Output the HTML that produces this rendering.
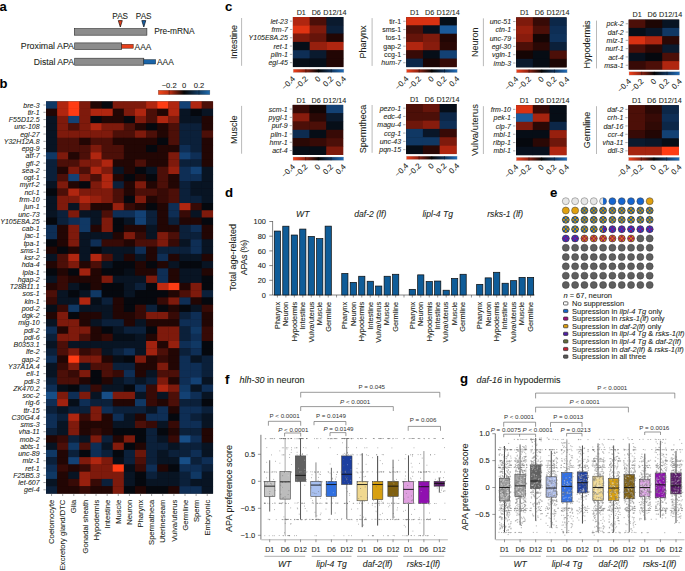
<!DOCTYPE html>
<html><head><meta charset="utf-8"><style>
html,body{margin:0;padding:0;background:#fff;}
svg{display:block;font-family:"Liberation Sans", sans-serif;}
text{stroke:#231f20;stroke-width:0.08px;}

</style></head><body>
<svg width="685" height="571" viewBox="0 0 685 571">
<rect width="685" height="571" fill="#fff"/>
<text x="-0.50" y="10.50" font-size="13.0" text-anchor="start" fill="#000" font-weight="bold">a</text>
<text x="120.20" y="18.90" font-size="8.2" text-anchor="middle" fill="#231f20">PAS</text>
<text x="143.70" y="18.90" font-size="8.2" text-anchor="middle" fill="#231f20">PAS</text>
<polygon points="118.30,20.60 122.30,20.60 120.30,27.00" fill="#e8401c" stroke="#1a0a06" stroke-width="0.7"/>
<polygon points="141.80,20.60 145.80,20.60 143.80,27.00" fill="#1a64a8" stroke="#08101a" stroke-width="0.7"/>
<rect x="74.30" y="28.60" width="72.60" height="6.60" fill="#8c8c8c" stroke="#2a2a2a" stroke-width="0.6"/>
<text x="154.20" y="34.00" font-size="8.4" text-anchor="start" fill="#231f20">Pre-mRNA</text>
<text x="74.00" y="49.00" font-size="8.4" text-anchor="end" fill="#231f20" textLength="53.2" lengthAdjust="spacingAndGlyphs">Proximal APA</text>
<rect x="74.70" y="42.90" width="47.00" height="6.60" fill="#8c8c8c" stroke="#2a2a2a" stroke-width="0.6"/>
<rect x="121.70" y="44.30" width="11.50" height="3.90" fill="#e8401c" stroke="#3a1a10" stroke-width="0.5"/>
<text x="134.60" y="49.80" font-size="8.4" text-anchor="start" fill="#231f20">AAA</text>
<text x="74.00" y="64.80" font-size="8.4" text-anchor="end" fill="#231f20" textLength="40.2" lengthAdjust="spacingAndGlyphs">Distal APA</text>
<rect x="74.70" y="58.20" width="69.10" height="7.00" fill="#8c8c8c" stroke="#2a2a2a" stroke-width="0.6"/>
<rect x="143.80" y="59.70" width="11.80" height="4.30" fill="#1a64a8" stroke="#10202e" stroke-width="0.5"/>
<text x="157.00" y="64.70" font-size="8.4" text-anchor="start" fill="#231f20">AAA</text>
<text x="-0.40" y="87.80" font-size="13.0" text-anchor="start" fill="#000" font-weight="bold">b</text>
<defs><linearGradient id="cbb" x1="0" x2="1" y1="0" y2="0"><stop offset="0" stop-color="#f4481a"/><stop offset="0.25" stop-color="#b02a10"/><stop offset="0.5" stop-color="#050505"/><stop offset="0.75" stop-color="#0f3558"/><stop offset="1" stop-color="#1f6cb0"/></linearGradient></defs>
<rect x="158.20" y="90.20" width="51.70" height="4.50" fill="url(#cbb)" stroke="#555" stroke-width="0.3"/>
<line x1="169.20" y1="90.20" x2="169.20" y2="94.70" stroke="#000" stroke-width="0.4"/>
<line x1="199.00" y1="90.20" x2="199.00" y2="94.70" stroke="#000" stroke-width="0.4"/>
<text x="169.20" y="88.00" font-size="7.6" text-anchor="middle" fill="#231f20">−0.2</text>
<text x="184.00" y="88.00" font-size="7.6" text-anchor="middle" fill="#231f20">0</text>
<text x="199.00" y="88.00" font-size="7.6" text-anchor="middle" fill="#231f20">0.2</text>
<rect x="46.00" y="101.40" width="166.80" height="392.04" fill="#180808"/>
<rect x="46.00" y="101.40" width="11.42" height="7.56" fill="#103864"/>
<rect x="57.12" y="101.40" width="11.42" height="7.56" fill="#b02610"/>
<rect x="68.24" y="101.40" width="11.42" height="7.56" fill="#ff3c14"/>
<rect x="79.36" y="101.40" width="11.42" height="7.56" fill="#7e1a0c"/>
<rect x="90.48" y="101.40" width="11.42" height="7.56" fill="#220604"/>
<rect x="101.60" y="101.40" width="11.42" height="7.56" fill="#05080e"/>
<rect x="112.72" y="101.40" width="11.42" height="7.56" fill="#7e1a0c"/>
<rect x="123.84" y="101.40" width="11.42" height="7.56" fill="#7e1a0c"/>
<rect x="134.96" y="101.40" width="11.42" height="7.56" fill="#7e1a0c"/>
<rect x="146.08" y="101.40" width="11.42" height="7.56" fill="#b02610"/>
<rect x="157.20" y="101.40" width="11.42" height="7.56" fill="#ff3c14"/>
<rect x="168.32" y="101.40" width="11.42" height="7.56" fill="#b02610"/>
<rect x="179.44" y="101.40" width="11.42" height="7.56" fill="#134174"/>
<rect x="190.56" y="101.40" width="11.42" height="7.56" fill="#b02610"/>
<rect x="201.68" y="101.40" width="11.42" height="7.56" fill="#4c0f08"/>
<text x="39.60" y="107.63" font-size="7.0" text-anchor="end" fill="#231f20" font-style="italic">bre-3</text>
<line x1="43.40" y1="105.03" x2="45.80" y2="105.03" stroke="#444" stroke-width="0.5"/>
<rect x="46.00" y="108.66" width="11.42" height="7.56" fill="#220604"/>
<rect x="57.12" y="108.66" width="11.42" height="7.56" fill="#b02610"/>
<rect x="68.24" y="108.66" width="11.42" height="7.56" fill="#ff3c14"/>
<rect x="79.36" y="108.66" width="11.42" height="7.56" fill="#7e1a0c"/>
<rect x="90.48" y="108.66" width="11.42" height="7.56" fill="#b02610"/>
<rect x="101.60" y="108.66" width="11.42" height="7.56" fill="#b02610"/>
<rect x="112.72" y="108.66" width="11.42" height="7.56" fill="#220604"/>
<rect x="123.84" y="108.66" width="11.42" height="7.56" fill="#7e1a0c"/>
<rect x="134.96" y="108.66" width="11.42" height="7.56" fill="#b02610"/>
<rect x="146.08" y="108.66" width="11.42" height="7.56" fill="#4c0f08"/>
<rect x="157.20" y="108.66" width="11.42" height="7.56" fill="#220604"/>
<rect x="168.32" y="108.66" width="11.42" height="7.56" fill="#b02610"/>
<rect x="179.44" y="108.66" width="11.42" height="7.56" fill="#081423"/>
<rect x="190.56" y="108.66" width="11.42" height="7.56" fill="#05080e"/>
<rect x="201.68" y="108.66" width="11.42" height="7.56" fill="#081423"/>
<text x="39.60" y="114.89" font-size="7.0" text-anchor="end" fill="#231f20" font-style="italic">tir-1</text>
<line x1="43.40" y1="112.29" x2="45.80" y2="112.29" stroke="#444" stroke-width="0.5"/>
<rect x="46.00" y="115.92" width="11.42" height="7.56" fill="#081423"/>
<rect x="57.12" y="115.92" width="11.42" height="7.56" fill="#7e1a0c"/>
<rect x="68.24" y="115.92" width="11.42" height="7.56" fill="#134174"/>
<rect x="79.36" y="115.92" width="11.42" height="7.56" fill="#7e1a0c"/>
<rect x="90.48" y="115.92" width="11.42" height="7.56" fill="#05080e"/>
<rect x="101.60" y="115.92" width="11.42" height="7.56" fill="#220604"/>
<rect x="112.72" y="115.92" width="11.42" height="7.56" fill="#220604"/>
<rect x="123.84" y="115.92" width="11.42" height="7.56" fill="#05080e"/>
<rect x="134.96" y="115.92" width="11.42" height="7.56" fill="#7e1a0c"/>
<rect x="146.08" y="115.92" width="11.42" height="7.56" fill="#4c0f08"/>
<rect x="157.20" y="115.92" width="11.42" height="7.56" fill="#b02610"/>
<rect x="168.32" y="115.92" width="11.42" height="7.56" fill="#7e1a0c"/>
<rect x="179.44" y="115.92" width="11.42" height="7.56" fill="#081423"/>
<rect x="190.56" y="115.92" width="11.42" height="7.56" fill="#081423"/>
<rect x="201.68" y="115.92" width="11.42" height="7.56" fill="#220604"/>
<text x="39.60" y="122.15" font-size="7.0" text-anchor="end" fill="#231f20" font-style="italic">F55D12.5</text>
<line x1="43.40" y1="119.55" x2="45.80" y2="119.55" stroke="#444" stroke-width="0.5"/>
<rect x="46.00" y="123.18" width="11.42" height="7.56" fill="#081423"/>
<rect x="57.12" y="123.18" width="11.42" height="7.56" fill="#7e1a0c"/>
<rect x="68.24" y="123.18" width="11.42" height="7.56" fill="#4c0f08"/>
<rect x="79.36" y="123.18" width="11.42" height="7.56" fill="#7e1a0c"/>
<rect x="90.48" y="123.18" width="11.42" height="7.56" fill="#b02610"/>
<rect x="101.60" y="123.18" width="11.42" height="7.56" fill="#7e1a0c"/>
<rect x="112.72" y="123.18" width="11.42" height="7.56" fill="#7e1a0c"/>
<rect x="123.84" y="123.18" width="11.42" height="7.56" fill="#4c0f08"/>
<rect x="134.96" y="123.18" width="11.42" height="7.56" fill="#220604"/>
<rect x="146.08" y="123.18" width="11.42" height="7.56" fill="#05080e"/>
<rect x="157.20" y="123.18" width="11.42" height="7.56" fill="#220604"/>
<rect x="168.32" y="123.18" width="11.42" height="7.56" fill="#4c0f08"/>
<rect x="179.44" y="123.18" width="11.42" height="7.56" fill="#0b203a"/>
<rect x="190.56" y="123.18" width="11.42" height="7.56" fill="#0b203a"/>
<rect x="201.68" y="123.18" width="11.42" height="7.56" fill="#220604"/>
<text x="39.60" y="129.41" font-size="7.0" text-anchor="end" fill="#231f20" font-style="italic">unc-108</text>
<line x1="43.40" y1="126.81" x2="45.80" y2="126.81" stroke="#444" stroke-width="0.5"/>
<rect x="46.00" y="130.44" width="11.42" height="7.56" fill="#081423"/>
<rect x="57.12" y="130.44" width="11.42" height="7.56" fill="#7e1a0c"/>
<rect x="68.24" y="130.44" width="11.42" height="7.56" fill="#7e1a0c"/>
<rect x="79.36" y="130.44" width="11.42" height="7.56" fill="#7e1a0c"/>
<rect x="90.48" y="130.44" width="11.42" height="7.56" fill="#7e1a0c"/>
<rect x="101.60" y="130.44" width="11.42" height="7.56" fill="#7e1a0c"/>
<rect x="112.72" y="130.44" width="11.42" height="7.56" fill="#4c0f08"/>
<rect x="123.84" y="130.44" width="11.42" height="7.56" fill="#4c0f08"/>
<rect x="134.96" y="130.44" width="11.42" height="7.56" fill="#7e1a0c"/>
<rect x="146.08" y="130.44" width="11.42" height="7.56" fill="#4c0f08"/>
<rect x="157.20" y="130.44" width="11.42" height="7.56" fill="#220604"/>
<rect x="168.32" y="130.44" width="11.42" height="7.56" fill="#4c0f08"/>
<rect x="179.44" y="130.44" width="11.42" height="7.56" fill="#0b203a"/>
<rect x="190.56" y="130.44" width="11.42" height="7.56" fill="#0b203a"/>
<rect x="201.68" y="130.44" width="11.42" height="7.56" fill="#4c0f08"/>
<text x="39.60" y="136.67" font-size="7.0" text-anchor="end" fill="#231f20" font-style="italic">egl-27</text>
<line x1="43.40" y1="134.07" x2="45.80" y2="134.07" stroke="#444" stroke-width="0.5"/>
<rect x="46.00" y="137.70" width="11.42" height="7.56" fill="#081423"/>
<rect x="57.12" y="137.70" width="11.42" height="7.56" fill="#4c0f08"/>
<rect x="68.24" y="137.70" width="11.42" height="7.56" fill="#4c0f08"/>
<rect x="79.36" y="137.70" width="11.42" height="7.56" fill="#220604"/>
<rect x="90.48" y="137.70" width="11.42" height="7.56" fill="#4c0f08"/>
<rect x="101.60" y="137.70" width="11.42" height="7.56" fill="#4c0f08"/>
<rect x="112.72" y="137.70" width="11.42" height="7.56" fill="#220604"/>
<rect x="123.84" y="137.70" width="11.42" height="7.56" fill="#220604"/>
<rect x="134.96" y="137.70" width="11.42" height="7.56" fill="#220604"/>
<rect x="146.08" y="137.70" width="11.42" height="7.56" fill="#220604"/>
<rect x="157.20" y="137.70" width="11.42" height="7.56" fill="#05080e"/>
<rect x="168.32" y="137.70" width="11.42" height="7.56" fill="#4c0f08"/>
<rect x="179.44" y="137.70" width="11.42" height="7.56" fill="#0b203a"/>
<rect x="190.56" y="137.70" width="11.42" height="7.56" fill="#0b203a"/>
<rect x="201.68" y="137.70" width="11.42" height="7.56" fill="#220604"/>
<text x="39.60" y="143.93" font-size="7.0" text-anchor="end" fill="#231f20" font-style="italic">Y32H12A.8</text>
<line x1="43.40" y1="141.33" x2="45.80" y2="141.33" stroke="#444" stroke-width="0.5"/>
<rect x="46.00" y="144.96" width="11.42" height="7.56" fill="#081423"/>
<rect x="57.12" y="144.96" width="11.42" height="7.56" fill="#4c0f08"/>
<rect x="68.24" y="144.96" width="11.42" height="7.56" fill="#4c0f08"/>
<rect x="79.36" y="144.96" width="11.42" height="7.56" fill="#4c0f08"/>
<rect x="90.48" y="144.96" width="11.42" height="7.56" fill="#7e1a0c"/>
<rect x="101.60" y="144.96" width="11.42" height="7.56" fill="#4c0f08"/>
<rect x="112.72" y="144.96" width="11.42" height="7.56" fill="#4c0f08"/>
<rect x="123.84" y="144.96" width="11.42" height="7.56" fill="#220604"/>
<rect x="134.96" y="144.96" width="11.42" height="7.56" fill="#220604"/>
<rect x="146.08" y="144.96" width="11.42" height="7.56" fill="#05080e"/>
<rect x="157.20" y="144.96" width="11.42" height="7.56" fill="#220604"/>
<rect x="168.32" y="144.96" width="11.42" height="7.56" fill="#220604"/>
<rect x="179.44" y="144.96" width="11.42" height="7.56" fill="#0e2e55"/>
<rect x="190.56" y="144.96" width="11.42" height="7.56" fill="#0b203a"/>
<rect x="201.68" y="144.96" width="11.42" height="7.56" fill="#220604"/>
<text x="39.60" y="151.19" font-size="7.0" text-anchor="end" fill="#231f20" font-style="italic">epg-9</text>
<line x1="43.40" y1="148.59" x2="45.80" y2="148.59" stroke="#444" stroke-width="0.5"/>
<rect x="46.00" y="152.22" width="11.42" height="7.56" fill="#103864"/>
<rect x="57.12" y="152.22" width="11.42" height="7.56" fill="#7e1a0c"/>
<rect x="68.24" y="152.22" width="11.42" height="7.56" fill="#220604"/>
<rect x="79.36" y="152.22" width="11.42" height="7.56" fill="#4c0f08"/>
<rect x="90.48" y="152.22" width="11.42" height="7.56" fill="#b02610"/>
<rect x="101.60" y="152.22" width="11.42" height="7.56" fill="#4c0f08"/>
<rect x="112.72" y="152.22" width="11.42" height="7.56" fill="#4c0f08"/>
<rect x="123.84" y="152.22" width="11.42" height="7.56" fill="#220604"/>
<rect x="134.96" y="152.22" width="11.42" height="7.56" fill="#220604"/>
<rect x="146.08" y="152.22" width="11.42" height="7.56" fill="#220604"/>
<rect x="157.20" y="152.22" width="11.42" height="7.56" fill="#220604"/>
<rect x="168.32" y="152.22" width="11.42" height="7.56" fill="#7e1a0c"/>
<rect x="179.44" y="152.22" width="11.42" height="7.56" fill="#134174"/>
<rect x="190.56" y="152.22" width="11.42" height="7.56" fill="#0e2e55"/>
<rect x="201.68" y="152.22" width="11.42" height="7.56" fill="#220604"/>
<text x="39.60" y="158.45" font-size="7.0" text-anchor="end" fill="#231f20" font-style="italic">atf-7</text>
<line x1="43.40" y1="155.85" x2="45.80" y2="155.85" stroke="#444" stroke-width="0.5"/>
<rect x="46.00" y="159.48" width="11.42" height="7.56" fill="#0b203a"/>
<rect x="57.12" y="159.48" width="11.42" height="7.56" fill="#4c0f08"/>
<rect x="68.24" y="159.48" width="11.42" height="7.56" fill="#4c0f08"/>
<rect x="79.36" y="159.48" width="11.42" height="7.56" fill="#7e1a0c"/>
<rect x="90.48" y="159.48" width="11.42" height="7.56" fill="#7e1a0c"/>
<rect x="101.60" y="159.48" width="11.42" height="7.56" fill="#b02610"/>
<rect x="112.72" y="159.48" width="11.42" height="7.56" fill="#220604"/>
<rect x="123.84" y="159.48" width="11.42" height="7.56" fill="#220604"/>
<rect x="134.96" y="159.48" width="11.42" height="7.56" fill="#4c0f08"/>
<rect x="146.08" y="159.48" width="11.42" height="7.56" fill="#220604"/>
<rect x="157.20" y="159.48" width="11.42" height="7.56" fill="#220604"/>
<rect x="168.32" y="159.48" width="11.42" height="7.56" fill="#7e1a0c"/>
<rect x="179.44" y="159.48" width="11.42" height="7.56" fill="#0b203a"/>
<rect x="190.56" y="159.48" width="11.42" height="7.56" fill="#0b203a"/>
<rect x="201.68" y="159.48" width="11.42" height="7.56" fill="#220604"/>
<text x="39.60" y="165.71" font-size="7.0" text-anchor="end" fill="#231f20" font-style="italic">gfi-2</text>
<line x1="43.40" y1="163.11" x2="45.80" y2="163.11" stroke="#444" stroke-width="0.5"/>
<rect x="46.00" y="166.74" width="11.42" height="7.56" fill="#0b203a"/>
<rect x="57.12" y="166.74" width="11.42" height="7.56" fill="#220604"/>
<rect x="68.24" y="166.74" width="11.42" height="7.56" fill="#7e1a0c"/>
<rect x="79.36" y="166.74" width="11.42" height="7.56" fill="#4c0f08"/>
<rect x="90.48" y="166.74" width="11.42" height="7.56" fill="#b02610"/>
<rect x="101.60" y="166.74" width="11.42" height="7.56" fill="#7e1a0c"/>
<rect x="112.72" y="166.74" width="11.42" height="7.56" fill="#081423"/>
<rect x="123.84" y="166.74" width="11.42" height="7.56" fill="#220604"/>
<rect x="134.96" y="166.74" width="11.42" height="7.56" fill="#05080e"/>
<rect x="146.08" y="166.74" width="11.42" height="7.56" fill="#081423"/>
<rect x="157.20" y="166.74" width="11.42" height="7.56" fill="#4c0f08"/>
<rect x="168.32" y="166.74" width="11.42" height="7.56" fill="#97200e"/>
<rect x="179.44" y="166.74" width="11.42" height="7.56" fill="#0e2e55"/>
<rect x="190.56" y="166.74" width="11.42" height="7.56" fill="#134174"/>
<rect x="201.68" y="166.74" width="11.42" height="7.56" fill="#081423"/>
<text x="39.60" y="172.97" font-size="7.0" text-anchor="end" fill="#231f20" font-style="italic">sea-2</text>
<line x1="43.40" y1="170.37" x2="45.80" y2="170.37" stroke="#444" stroke-width="0.5"/>
<rect x="46.00" y="174.00" width="11.42" height="7.56" fill="#0b203a"/>
<rect x="57.12" y="174.00" width="11.42" height="7.56" fill="#4c0f08"/>
<rect x="68.24" y="174.00" width="11.42" height="7.56" fill="#134174"/>
<rect x="79.36" y="174.00" width="11.42" height="7.56" fill="#7e1a0c"/>
<rect x="90.48" y="174.00" width="11.42" height="7.56" fill="#4c0f08"/>
<rect x="101.60" y="174.00" width="11.42" height="7.56" fill="#b02610"/>
<rect x="112.72" y="174.00" width="11.42" height="7.56" fill="#220604"/>
<rect x="123.84" y="174.00" width="11.42" height="7.56" fill="#05080e"/>
<rect x="134.96" y="174.00" width="11.42" height="7.56" fill="#220604"/>
<rect x="146.08" y="174.00" width="11.42" height="7.56" fill="#05080e"/>
<rect x="157.20" y="174.00" width="11.42" height="7.56" fill="#4c0f08"/>
<rect x="168.32" y="174.00" width="11.42" height="7.56" fill="#220604"/>
<rect x="179.44" y="174.00" width="11.42" height="7.56" fill="#0e2e55"/>
<rect x="190.56" y="174.00" width="11.42" height="7.56" fill="#0e2e55"/>
<rect x="201.68" y="174.00" width="11.42" height="7.56" fill="#081423"/>
<text x="39.60" y="180.23" font-size="7.0" text-anchor="end" fill="#231f20" font-style="italic">ogt-1</text>
<line x1="43.40" y1="177.63" x2="45.80" y2="177.63" stroke="#444" stroke-width="0.5"/>
<rect x="46.00" y="181.26" width="11.42" height="7.56" fill="#081423"/>
<rect x="57.12" y="181.26" width="11.42" height="7.56" fill="#7e1a0c"/>
<rect x="68.24" y="181.26" width="11.42" height="7.56" fill="#220604"/>
<rect x="79.36" y="181.26" width="11.42" height="7.56" fill="#05080e"/>
<rect x="90.48" y="181.26" width="11.42" height="7.56" fill="#7e1a0c"/>
<rect x="101.60" y="181.26" width="11.42" height="7.56" fill="#b02610"/>
<rect x="112.72" y="181.26" width="11.42" height="7.56" fill="#0b203a"/>
<rect x="123.84" y="181.26" width="11.42" height="7.56" fill="#220604"/>
<rect x="134.96" y="181.26" width="11.42" height="7.56" fill="#7e1a0c"/>
<rect x="146.08" y="181.26" width="11.42" height="7.56" fill="#220604"/>
<rect x="157.20" y="181.26" width="11.42" height="7.56" fill="#4c0f08"/>
<rect x="168.32" y="181.26" width="11.42" height="7.56" fill="#220604"/>
<rect x="179.44" y="181.26" width="11.42" height="7.56" fill="#0b203a"/>
<rect x="190.56" y="181.26" width="11.42" height="7.56" fill="#081423"/>
<rect x="201.68" y="181.26" width="11.42" height="7.56" fill="#081423"/>
<text x="39.60" y="187.49" font-size="7.0" text-anchor="end" fill="#231f20" font-style="italic">myrf-2</text>
<line x1="43.40" y1="184.89" x2="45.80" y2="184.89" stroke="#444" stroke-width="0.5"/>
<rect x="46.00" y="188.52" width="11.42" height="7.56" fill="#05080e"/>
<rect x="57.12" y="188.52" width="11.42" height="7.56" fill="#4c0f08"/>
<rect x="68.24" y="188.52" width="11.42" height="7.56" fill="#b02610"/>
<rect x="79.36" y="188.52" width="11.42" height="7.56" fill="#7e1a0c"/>
<rect x="90.48" y="188.52" width="11.42" height="7.56" fill="#7e1a0c"/>
<rect x="101.60" y="188.52" width="11.42" height="7.56" fill="#7e1a0c"/>
<rect x="112.72" y="188.52" width="11.42" height="7.56" fill="#4c0f08"/>
<rect x="123.84" y="188.52" width="11.42" height="7.56" fill="#220604"/>
<rect x="134.96" y="188.52" width="11.42" height="7.56" fill="#4c0f08"/>
<rect x="146.08" y="188.52" width="11.42" height="7.56" fill="#4c0f08"/>
<rect x="157.20" y="188.52" width="11.42" height="7.56" fill="#370a06"/>
<rect x="168.32" y="188.52" width="11.42" height="7.56" fill="#4c0f08"/>
<rect x="179.44" y="188.52" width="11.42" height="7.56" fill="#0b203a"/>
<rect x="190.56" y="188.52" width="11.42" height="7.56" fill="#081423"/>
<rect x="201.68" y="188.52" width="11.42" height="7.56" fill="#081423"/>
<text x="39.60" y="194.75" font-size="7.0" text-anchor="end" fill="#231f20" font-style="italic">ncl-1</text>
<line x1="43.40" y1="192.15" x2="45.80" y2="192.15" stroke="#444" stroke-width="0.5"/>
<rect x="46.00" y="195.78" width="11.42" height="7.56" fill="#081423"/>
<rect x="57.12" y="195.78" width="11.42" height="7.56" fill="#7e1a0c"/>
<rect x="68.24" y="195.78" width="11.42" height="7.56" fill="#7e1a0c"/>
<rect x="79.36" y="195.78" width="11.42" height="7.56" fill="#b02610"/>
<rect x="90.48" y="195.78" width="11.42" height="7.56" fill="#97200e"/>
<rect x="101.60" y="195.78" width="11.42" height="7.56" fill="#7e1a0c"/>
<rect x="112.72" y="195.78" width="11.42" height="7.56" fill="#4c0f08"/>
<rect x="123.84" y="195.78" width="11.42" height="7.56" fill="#05080e"/>
<rect x="134.96" y="195.78" width="11.42" height="7.56" fill="#7e1a0c"/>
<rect x="146.08" y="195.78" width="11.42" height="7.56" fill="#220604"/>
<rect x="157.20" y="195.78" width="11.42" height="7.56" fill="#370a06"/>
<rect x="168.32" y="195.78" width="11.42" height="7.56" fill="#4c0f08"/>
<rect x="179.44" y="195.78" width="11.42" height="7.56" fill="#0b203a"/>
<rect x="190.56" y="195.78" width="11.42" height="7.56" fill="#0b203a"/>
<rect x="201.68" y="195.78" width="11.42" height="7.56" fill="#081423"/>
<text x="39.60" y="202.01" font-size="7.0" text-anchor="end" fill="#231f20" font-style="italic">frm-10</text>
<line x1="43.40" y1="199.41" x2="45.80" y2="199.41" stroke="#444" stroke-width="0.5"/>
<rect x="46.00" y="203.04" width="11.42" height="7.56" fill="#081423"/>
<rect x="57.12" y="203.04" width="11.42" height="7.56" fill="#7e1a0c"/>
<rect x="68.24" y="203.04" width="11.42" height="7.56" fill="#081423"/>
<rect x="79.36" y="203.04" width="11.42" height="7.56" fill="#7e1a0c"/>
<rect x="90.48" y="203.04" width="11.42" height="7.56" fill="#220604"/>
<rect x="101.60" y="203.04" width="11.42" height="7.56" fill="#220604"/>
<rect x="112.72" y="203.04" width="11.42" height="7.56" fill="#97200e"/>
<rect x="123.84" y="203.04" width="11.42" height="7.56" fill="#370a06"/>
<rect x="134.96" y="203.04" width="11.42" height="7.56" fill="#220604"/>
<rect x="146.08" y="203.04" width="11.42" height="7.56" fill="#05080e"/>
<rect x="157.20" y="203.04" width="11.42" height="7.56" fill="#220604"/>
<rect x="168.32" y="203.04" width="11.42" height="7.56" fill="#0e2e55"/>
<rect x="179.44" y="203.04" width="11.42" height="7.56" fill="#b02610"/>
<rect x="190.56" y="203.04" width="11.42" height="7.56" fill="#370a06"/>
<rect x="201.68" y="203.04" width="11.42" height="7.56" fill="#05080e"/>
<text x="39.60" y="209.27" font-size="7.0" text-anchor="end" fill="#231f20" font-style="italic">jun-1</text>
<line x1="43.40" y1="206.67" x2="45.80" y2="206.67" stroke="#444" stroke-width="0.5"/>
<rect x="46.00" y="210.30" width="11.42" height="7.56" fill="#081423"/>
<rect x="57.12" y="210.30" width="11.42" height="7.56" fill="#0b203a"/>
<rect x="68.24" y="210.30" width="11.42" height="7.56" fill="#7e1a0c"/>
<rect x="79.36" y="210.30" width="11.42" height="7.56" fill="#081423"/>
<rect x="90.48" y="210.30" width="11.42" height="7.56" fill="#081423"/>
<rect x="101.60" y="210.30" width="11.42" height="7.56" fill="#4c0f08"/>
<rect x="112.72" y="210.30" width="11.42" height="7.56" fill="#0e2e55"/>
<rect x="123.84" y="210.30" width="11.42" height="7.56" fill="#0e2e55"/>
<rect x="134.96" y="210.30" width="11.42" height="7.56" fill="#134174"/>
<rect x="146.08" y="210.30" width="11.42" height="7.56" fill="#0b203a"/>
<rect x="157.20" y="210.30" width="11.42" height="7.56" fill="#220604"/>
<rect x="168.32" y="210.30" width="11.42" height="7.56" fill="#0e2e55"/>
<rect x="179.44" y="210.30" width="11.42" height="7.56" fill="#370a06"/>
<rect x="190.56" y="210.30" width="11.42" height="7.56" fill="#081423"/>
<rect x="201.68" y="210.30" width="11.42" height="7.56" fill="#7e1a0c"/>
<text x="39.60" y="216.53" font-size="7.0" text-anchor="end" fill="#231f20" font-style="italic">unc-73</text>
<line x1="43.40" y1="213.93" x2="45.80" y2="213.93" stroke="#444" stroke-width="0.5"/>
<rect x="46.00" y="217.56" width="11.42" height="7.56" fill="#05080e"/>
<rect x="57.12" y="217.56" width="11.42" height="7.56" fill="#0b203a"/>
<rect x="68.24" y="217.56" width="11.42" height="7.56" fill="#0e2e55"/>
<rect x="79.36" y="217.56" width="11.42" height="7.56" fill="#103864"/>
<rect x="90.48" y="217.56" width="11.42" height="7.56" fill="#081423"/>
<rect x="101.60" y="217.56" width="11.42" height="7.56" fill="#7e1a0c"/>
<rect x="112.72" y="217.56" width="11.42" height="7.56" fill="#05080e"/>
<rect x="123.84" y="217.56" width="11.42" height="7.56" fill="#081423"/>
<rect x="134.96" y="217.56" width="11.42" height="7.56" fill="#134174"/>
<rect x="146.08" y="217.56" width="11.42" height="7.56" fill="#0b203a"/>
<rect x="157.20" y="217.56" width="11.42" height="7.56" fill="#220604"/>
<rect x="168.32" y="217.56" width="11.42" height="7.56" fill="#0b203a"/>
<rect x="179.44" y="217.56" width="11.42" height="7.56" fill="#220604"/>
<rect x="190.56" y="217.56" width="11.42" height="7.56" fill="#220604"/>
<rect x="201.68" y="217.56" width="11.42" height="7.56" fill="#05080e"/>
<text x="39.60" y="223.79" font-size="7.0" text-anchor="end" fill="#231f20" font-style="italic">Y105E8A.25</text>
<line x1="43.40" y1="221.19" x2="45.80" y2="221.19" stroke="#444" stroke-width="0.5"/>
<rect x="46.00" y="224.82" width="11.42" height="7.56" fill="#0e2e55"/>
<rect x="57.12" y="224.82" width="11.42" height="7.56" fill="#220604"/>
<rect x="68.24" y="224.82" width="11.42" height="7.56" fill="#7e1a0c"/>
<rect x="79.36" y="224.82" width="11.42" height="7.56" fill="#103864"/>
<rect x="90.48" y="224.82" width="11.42" height="7.56" fill="#220604"/>
<rect x="101.60" y="224.82" width="11.42" height="7.56" fill="#7e1a0c"/>
<rect x="112.72" y="224.82" width="11.42" height="7.56" fill="#05080e"/>
<rect x="123.84" y="224.82" width="11.42" height="7.56" fill="#220604"/>
<rect x="134.96" y="224.82" width="11.42" height="7.56" fill="#220604"/>
<rect x="146.08" y="224.82" width="11.42" height="7.56" fill="#081423"/>
<rect x="157.20" y="224.82" width="11.42" height="7.56" fill="#220604"/>
<rect x="168.32" y="224.82" width="11.42" height="7.56" fill="#220604"/>
<rect x="179.44" y="224.82" width="11.42" height="7.56" fill="#0b203a"/>
<rect x="190.56" y="224.82" width="11.42" height="7.56" fill="#0e2e55"/>
<rect x="201.68" y="224.82" width="11.42" height="7.56" fill="#220604"/>
<text x="39.60" y="231.05" font-size="7.0" text-anchor="end" fill="#231f20" font-style="italic">cab-1</text>
<line x1="43.40" y1="228.45" x2="45.80" y2="228.45" stroke="#444" stroke-width="0.5"/>
<rect x="46.00" y="232.08" width="11.42" height="7.56" fill="#0e2e55"/>
<rect x="57.12" y="232.08" width="11.42" height="7.56" fill="#220604"/>
<rect x="68.24" y="232.08" width="11.42" height="7.56" fill="#7e1a0c"/>
<rect x="79.36" y="232.08" width="11.42" height="7.56" fill="#081423"/>
<rect x="90.48" y="232.08" width="11.42" height="7.56" fill="#081423"/>
<rect x="101.60" y="232.08" width="11.42" height="7.56" fill="#081423"/>
<rect x="112.72" y="232.08" width="11.42" height="7.56" fill="#220604"/>
<rect x="123.84" y="232.08" width="11.42" height="7.56" fill="#7e1a0c"/>
<rect x="134.96" y="232.08" width="11.42" height="7.56" fill="#370a06"/>
<rect x="146.08" y="232.08" width="11.42" height="7.56" fill="#081423"/>
<rect x="157.20" y="232.08" width="11.42" height="7.56" fill="#7e1a0c"/>
<rect x="168.32" y="232.08" width="11.42" height="7.56" fill="#4c0f08"/>
<rect x="179.44" y="232.08" width="11.42" height="7.56" fill="#0b203a"/>
<rect x="190.56" y="232.08" width="11.42" height="7.56" fill="#0b203a"/>
<rect x="201.68" y="232.08" width="11.42" height="7.56" fill="#220604"/>
<text x="39.60" y="238.31" font-size="7.0" text-anchor="end" fill="#231f20" font-style="italic">jac-1</text>
<line x1="43.40" y1="235.71" x2="45.80" y2="235.71" stroke="#444" stroke-width="0.5"/>
<rect x="46.00" y="239.34" width="11.42" height="7.56" fill="#05080e"/>
<rect x="57.12" y="239.34" width="11.42" height="7.56" fill="#220604"/>
<rect x="68.24" y="239.34" width="11.42" height="7.56" fill="#7e1a0c"/>
<rect x="79.36" y="239.34" width="11.42" height="7.56" fill="#081423"/>
<rect x="90.48" y="239.34" width="11.42" height="7.56" fill="#0e2e55"/>
<rect x="101.60" y="239.34" width="11.42" height="7.56" fill="#370a06"/>
<rect x="112.72" y="239.34" width="11.42" height="7.56" fill="#370a06"/>
<rect x="123.84" y="239.34" width="11.42" height="7.56" fill="#220604"/>
<rect x="134.96" y="239.34" width="11.42" height="7.56" fill="#4c0f08"/>
<rect x="146.08" y="239.34" width="11.42" height="7.56" fill="#4c0f08"/>
<rect x="157.20" y="239.34" width="11.42" height="7.56" fill="#7e1a0c"/>
<rect x="168.32" y="239.34" width="11.42" height="7.56" fill="#370a06"/>
<rect x="179.44" y="239.34" width="11.42" height="7.56" fill="#081423"/>
<rect x="190.56" y="239.34" width="11.42" height="7.56" fill="#0e2e55"/>
<rect x="201.68" y="239.34" width="11.42" height="7.56" fill="#081423"/>
<text x="39.60" y="245.57" font-size="7.0" text-anchor="end" fill="#231f20" font-style="italic">tpa-1</text>
<line x1="43.40" y1="242.97" x2="45.80" y2="242.97" stroke="#444" stroke-width="0.5"/>
<rect x="46.00" y="246.60" width="11.42" height="7.56" fill="#220604"/>
<rect x="57.12" y="246.60" width="11.42" height="7.56" fill="#05080e"/>
<rect x="68.24" y="246.60" width="11.42" height="7.56" fill="#220604"/>
<rect x="79.36" y="246.60" width="11.42" height="7.56" fill="#081423"/>
<rect x="90.48" y="246.60" width="11.42" height="7.56" fill="#05080e"/>
<rect x="101.60" y="246.60" width="11.42" height="7.56" fill="#081423"/>
<rect x="112.72" y="246.60" width="11.42" height="7.56" fill="#081423"/>
<rect x="123.84" y="246.60" width="11.42" height="7.56" fill="#081423"/>
<rect x="134.96" y="246.60" width="11.42" height="7.56" fill="#0e2e55"/>
<rect x="146.08" y="246.60" width="11.42" height="7.56" fill="#220604"/>
<rect x="157.20" y="246.60" width="11.42" height="7.56" fill="#0b203a"/>
<rect x="168.32" y="246.60" width="11.42" height="7.56" fill="#0b203a"/>
<rect x="179.44" y="246.60" width="11.42" height="7.56" fill="#0b203a"/>
<rect x="190.56" y="246.60" width="11.42" height="7.56" fill="#0e2e55"/>
<rect x="201.68" y="246.60" width="11.42" height="7.56" fill="#081423"/>
<text x="39.60" y="252.83" font-size="7.0" text-anchor="end" fill="#231f20" font-style="italic">sms-1</text>
<line x1="43.40" y1="250.23" x2="45.80" y2="250.23" stroke="#444" stroke-width="0.5"/>
<rect x="46.00" y="253.86" width="11.42" height="7.56" fill="#081423"/>
<rect x="57.12" y="253.86" width="11.42" height="7.56" fill="#4c0f08"/>
<rect x="68.24" y="253.86" width="11.42" height="7.56" fill="#b02610"/>
<rect x="79.36" y="253.86" width="11.42" height="7.56" fill="#081423"/>
<rect x="90.48" y="253.86" width="11.42" height="7.56" fill="#b02610"/>
<rect x="101.60" y="253.86" width="11.42" height="7.56" fill="#4c0f08"/>
<rect x="112.72" y="253.86" width="11.42" height="7.56" fill="#081423"/>
<rect x="123.84" y="253.86" width="11.42" height="7.56" fill="#220604"/>
<rect x="134.96" y="253.86" width="11.42" height="7.56" fill="#081423"/>
<rect x="146.08" y="253.86" width="11.42" height="7.56" fill="#220604"/>
<rect x="157.20" y="253.86" width="11.42" height="7.56" fill="#0e2e55"/>
<rect x="168.32" y="253.86" width="11.42" height="7.56" fill="#220604"/>
<rect x="179.44" y="253.86" width="11.42" height="7.56" fill="#081423"/>
<rect x="190.56" y="253.86" width="11.42" height="7.56" fill="#081423"/>
<rect x="201.68" y="253.86" width="11.42" height="7.56" fill="#220604"/>
<text x="39.60" y="260.09" font-size="7.0" text-anchor="end" fill="#231f20" font-style="italic">ksr-2</text>
<line x1="43.40" y1="257.49" x2="45.80" y2="257.49" stroke="#444" stroke-width="0.5"/>
<rect x="46.00" y="261.12" width="11.42" height="7.56" fill="#220604"/>
<rect x="57.12" y="261.12" width="11.42" height="7.56" fill="#4c0f08"/>
<rect x="68.24" y="261.12" width="11.42" height="7.56" fill="#7e1a0c"/>
<rect x="79.36" y="261.12" width="11.42" height="7.56" fill="#220604"/>
<rect x="90.48" y="261.12" width="11.42" height="7.56" fill="#4c0f08"/>
<rect x="101.60" y="261.12" width="11.42" height="7.56" fill="#081423"/>
<rect x="112.72" y="261.12" width="11.42" height="7.56" fill="#05080e"/>
<rect x="123.84" y="261.12" width="11.42" height="7.56" fill="#05080e"/>
<rect x="134.96" y="261.12" width="11.42" height="7.56" fill="#220604"/>
<rect x="146.08" y="261.12" width="11.42" height="7.56" fill="#05080e"/>
<rect x="157.20" y="261.12" width="11.42" height="7.56" fill="#220604"/>
<rect x="168.32" y="261.12" width="11.42" height="7.56" fill="#081423"/>
<rect x="179.44" y="261.12" width="11.42" height="7.56" fill="#05080e"/>
<rect x="190.56" y="261.12" width="11.42" height="7.56" fill="#05080e"/>
<rect x="201.68" y="261.12" width="11.42" height="7.56" fill="#081423"/>
<text x="39.60" y="267.35" font-size="7.0" text-anchor="end" fill="#231f20" font-style="italic">hda-4</text>
<line x1="43.40" y1="264.75" x2="45.80" y2="264.75" stroke="#444" stroke-width="0.5"/>
<rect x="46.00" y="268.38" width="11.42" height="7.56" fill="#05080e"/>
<rect x="57.12" y="268.38" width="11.42" height="7.56" fill="#220604"/>
<rect x="68.24" y="268.38" width="11.42" height="7.56" fill="#05080e"/>
<rect x="79.36" y="268.38" width="11.42" height="7.56" fill="#a1220f"/>
<rect x="90.48" y="268.38" width="11.42" height="7.56" fill="#220604"/>
<rect x="101.60" y="268.38" width="11.42" height="7.56" fill="#05080e"/>
<rect x="112.72" y="268.38" width="11.42" height="7.56" fill="#05080e"/>
<rect x="123.84" y="268.38" width="11.42" height="7.56" fill="#060e18"/>
<rect x="134.96" y="268.38" width="11.42" height="7.56" fill="#220604"/>
<rect x="146.08" y="268.38" width="11.42" height="7.56" fill="#220604"/>
<rect x="157.20" y="268.38" width="11.42" height="7.56" fill="#0e2e55"/>
<rect x="168.32" y="268.38" width="11.42" height="7.56" fill="#220604"/>
<rect x="179.44" y="268.38" width="11.42" height="7.56" fill="#081423"/>
<rect x="190.56" y="268.38" width="11.42" height="7.56" fill="#081423"/>
<rect x="201.68" y="268.38" width="11.42" height="7.56" fill="#220604"/>
<text x="39.60" y="274.61" font-size="7.0" text-anchor="end" fill="#231f20" font-style="italic">ipla-1</text>
<line x1="43.40" y1="272.01" x2="45.80" y2="272.01" stroke="#444" stroke-width="0.5"/>
<rect x="46.00" y="275.64" width="11.42" height="7.56" fill="#081423"/>
<rect x="57.12" y="275.64" width="11.42" height="7.56" fill="#370a06"/>
<rect x="68.24" y="275.64" width="11.42" height="7.56" fill="#220604"/>
<rect x="79.36" y="275.64" width="11.42" height="7.56" fill="#220604"/>
<rect x="90.48" y="275.64" width="11.42" height="7.56" fill="#220604"/>
<rect x="101.60" y="275.64" width="11.42" height="7.56" fill="#7e1a0c"/>
<rect x="112.72" y="275.64" width="11.42" height="7.56" fill="#081423"/>
<rect x="123.84" y="275.64" width="11.42" height="7.56" fill="#081423"/>
<rect x="134.96" y="275.64" width="11.42" height="7.56" fill="#081423"/>
<rect x="146.08" y="275.64" width="11.42" height="7.56" fill="#7e1a0c"/>
<rect x="157.20" y="275.64" width="11.42" height="7.56" fill="#0e2e55"/>
<rect x="168.32" y="275.64" width="11.42" height="7.56" fill="#220604"/>
<rect x="179.44" y="275.64" width="11.42" height="7.56" fill="#081423"/>
<rect x="190.56" y="275.64" width="11.42" height="7.56" fill="#081423"/>
<rect x="201.68" y="275.64" width="11.42" height="7.56" fill="#05080e"/>
<text x="39.60" y="281.87" font-size="7.0" text-anchor="end" fill="#231f20" font-style="italic">hgap-2</text>
<line x1="43.40" y1="279.27" x2="45.80" y2="279.27" stroke="#444" stroke-width="0.5"/>
<rect x="46.00" y="282.90" width="11.42" height="7.56" fill="#220604"/>
<rect x="57.12" y="282.90" width="11.42" height="7.56" fill="#370a06"/>
<rect x="68.24" y="282.90" width="11.42" height="7.56" fill="#081423"/>
<rect x="79.36" y="282.90" width="11.42" height="7.56" fill="#05080e"/>
<rect x="90.48" y="282.90" width="11.42" height="7.56" fill="#220604"/>
<rect x="101.60" y="282.90" width="11.42" height="7.56" fill="#05080e"/>
<rect x="112.72" y="282.90" width="11.42" height="7.56" fill="#05080e"/>
<rect x="123.84" y="282.90" width="11.42" height="7.56" fill="#081423"/>
<rect x="134.96" y="282.90" width="11.42" height="7.56" fill="#0b203a"/>
<rect x="146.08" y="282.90" width="11.42" height="7.56" fill="#05080e"/>
<rect x="157.20" y="282.90" width="11.42" height="7.56" fill="#c02a11"/>
<rect x="168.32" y="282.90" width="11.42" height="7.56" fill="#ff3c14"/>
<rect x="179.44" y="282.90" width="11.42" height="7.56" fill="#220604"/>
<rect x="190.56" y="282.90" width="11.42" height="7.56" fill="#7e1a0c"/>
<rect x="201.68" y="282.90" width="11.42" height="7.56" fill="#05080e"/>
<text x="39.60" y="289.13" font-size="7.0" text-anchor="end" fill="#231f20" font-style="italic">T28B11.1</text>
<line x1="43.40" y1="286.53" x2="45.80" y2="286.53" stroke="#444" stroke-width="0.5"/>
<rect x="46.00" y="290.16" width="11.42" height="7.56" fill="#4c0f08"/>
<rect x="57.12" y="290.16" width="11.42" height="7.56" fill="#081423"/>
<rect x="68.24" y="290.16" width="11.42" height="7.56" fill="#05080e"/>
<rect x="79.36" y="290.16" width="11.42" height="7.56" fill="#081423"/>
<rect x="90.48" y="290.16" width="11.42" height="7.56" fill="#103864"/>
<rect x="101.60" y="290.16" width="11.42" height="7.56" fill="#05080e"/>
<rect x="112.72" y="290.16" width="11.42" height="7.56" fill="#05080e"/>
<rect x="123.84" y="290.16" width="11.42" height="7.56" fill="#081423"/>
<rect x="134.96" y="290.16" width="11.42" height="7.56" fill="#05080e"/>
<rect x="146.08" y="290.16" width="11.42" height="7.56" fill="#05080e"/>
<rect x="157.20" y="290.16" width="11.42" height="7.56" fill="#05080e"/>
<rect x="168.32" y="290.16" width="11.42" height="7.56" fill="#220604"/>
<rect x="179.44" y="290.16" width="11.42" height="7.56" fill="#4c0f08"/>
<rect x="190.56" y="290.16" width="11.42" height="7.56" fill="#7e1a0c"/>
<rect x="201.68" y="290.16" width="11.42" height="7.56" fill="#0b203a"/>
<text x="39.60" y="296.39" font-size="7.0" text-anchor="end" fill="#231f20" font-style="italic">sos-1</text>
<line x1="43.40" y1="293.79" x2="45.80" y2="293.79" stroke="#444" stroke-width="0.5"/>
<rect x="46.00" y="297.42" width="11.42" height="7.56" fill="#370a06"/>
<rect x="57.12" y="297.42" width="11.42" height="7.56" fill="#081423"/>
<rect x="68.24" y="297.42" width="11.42" height="7.56" fill="#081423"/>
<rect x="79.36" y="297.42" width="11.42" height="7.56" fill="#b02610"/>
<rect x="90.48" y="297.42" width="11.42" height="7.56" fill="#060e18"/>
<rect x="101.60" y="297.42" width="11.42" height="7.56" fill="#0b203a"/>
<rect x="112.72" y="297.42" width="11.42" height="7.56" fill="#220604"/>
<rect x="123.84" y="297.42" width="11.42" height="7.56" fill="#05080e"/>
<rect x="134.96" y="297.42" width="11.42" height="7.56" fill="#05080e"/>
<rect x="146.08" y="297.42" width="11.42" height="7.56" fill="#05080e"/>
<rect x="157.20" y="297.42" width="11.42" height="7.56" fill="#370a06"/>
<rect x="168.32" y="297.42" width="11.42" height="7.56" fill="#7e1a0c"/>
<rect x="179.44" y="297.42" width="11.42" height="7.56" fill="#0e2e55"/>
<rect x="190.56" y="297.42" width="11.42" height="7.56" fill="#220604"/>
<rect x="201.68" y="297.42" width="11.42" height="7.56" fill="#05080e"/>
<text x="39.60" y="303.65" font-size="7.0" text-anchor="end" fill="#231f20" font-style="italic">kin-1</text>
<line x1="43.40" y1="301.05" x2="45.80" y2="301.05" stroke="#444" stroke-width="0.5"/>
<rect x="46.00" y="304.68" width="11.42" height="7.56" fill="#060e18"/>
<rect x="57.12" y="304.68" width="11.42" height="7.56" fill="#370a06"/>
<rect x="68.24" y="304.68" width="11.42" height="7.56" fill="#103864"/>
<rect x="79.36" y="304.68" width="11.42" height="7.56" fill="#081423"/>
<rect x="90.48" y="304.68" width="11.42" height="7.56" fill="#081423"/>
<rect x="101.60" y="304.68" width="11.42" height="7.56" fill="#081423"/>
<rect x="112.72" y="304.68" width="11.42" height="7.56" fill="#220604"/>
<rect x="123.84" y="304.68" width="11.42" height="7.56" fill="#05080e"/>
<rect x="134.96" y="304.68" width="11.42" height="7.56" fill="#370a06"/>
<rect x="146.08" y="304.68" width="11.42" height="7.56" fill="#0b203a"/>
<rect x="157.20" y="304.68" width="11.42" height="7.56" fill="#05080e"/>
<rect x="168.32" y="304.68" width="11.42" height="7.56" fill="#220604"/>
<rect x="179.44" y="304.68" width="11.42" height="7.56" fill="#05080e"/>
<rect x="190.56" y="304.68" width="11.42" height="7.56" fill="#081423"/>
<rect x="201.68" y="304.68" width="11.42" height="7.56" fill="#370a06"/>
<text x="39.60" y="310.91" font-size="7.0" text-anchor="end" fill="#231f20" font-style="italic">pod-2</text>
<line x1="43.40" y1="308.31" x2="45.80" y2="308.31" stroke="#444" stroke-width="0.5"/>
<rect x="46.00" y="311.94" width="11.42" height="7.56" fill="#220604"/>
<rect x="57.12" y="311.94" width="11.42" height="7.56" fill="#7e1a0c"/>
<rect x="68.24" y="311.94" width="11.42" height="7.56" fill="#05080e"/>
<rect x="79.36" y="311.94" width="11.42" height="7.56" fill="#220604"/>
<rect x="90.48" y="311.94" width="11.42" height="7.56" fill="#220604"/>
<rect x="101.60" y="311.94" width="11.42" height="7.56" fill="#081423"/>
<rect x="112.72" y="311.94" width="11.42" height="7.56" fill="#220604"/>
<rect x="123.84" y="311.94" width="11.42" height="7.56" fill="#220604"/>
<rect x="134.96" y="311.94" width="11.42" height="7.56" fill="#370a06"/>
<rect x="146.08" y="311.94" width="11.42" height="7.56" fill="#7e1a0c"/>
<rect x="157.20" y="311.94" width="11.42" height="7.56" fill="#7e1a0c"/>
<rect x="168.32" y="311.94" width="11.42" height="7.56" fill="#370a06"/>
<rect x="179.44" y="311.94" width="11.42" height="7.56" fill="#0b203a"/>
<rect x="190.56" y="311.94" width="11.42" height="7.56" fill="#0e2e55"/>
<rect x="201.68" y="311.94" width="11.42" height="7.56" fill="#220604"/>
<text x="39.60" y="318.17" font-size="7.0" text-anchor="end" fill="#231f20" font-style="italic">dgk-2</text>
<line x1="43.40" y1="315.57" x2="45.80" y2="315.57" stroke="#444" stroke-width="0.5"/>
<rect x="46.00" y="319.20" width="11.42" height="7.56" fill="#081423"/>
<rect x="57.12" y="319.20" width="11.42" height="7.56" fill="#7e1a0c"/>
<rect x="68.24" y="319.20" width="11.42" height="7.56" fill="#7e1a0c"/>
<rect x="79.36" y="319.20" width="11.42" height="7.56" fill="#220604"/>
<rect x="90.48" y="319.20" width="11.42" height="7.56" fill="#081423"/>
<rect x="101.60" y="319.20" width="11.42" height="7.56" fill="#0b203a"/>
<rect x="112.72" y="319.20" width="11.42" height="7.56" fill="#0b203a"/>
<rect x="123.84" y="319.20" width="11.42" height="7.56" fill="#220604"/>
<rect x="134.96" y="319.20" width="11.42" height="7.56" fill="#081423"/>
<rect x="146.08" y="319.20" width="11.42" height="7.56" fill="#220604"/>
<rect x="157.20" y="319.20" width="11.42" height="7.56" fill="#220604"/>
<rect x="168.32" y="319.20" width="11.42" height="7.56" fill="#220604"/>
<rect x="179.44" y="319.20" width="11.42" height="7.56" fill="#0e2e55"/>
<rect x="190.56" y="319.20" width="11.42" height="7.56" fill="#0e2e55"/>
<rect x="201.68" y="319.20" width="11.42" height="7.56" fill="#220604"/>
<text x="39.60" y="325.43" font-size="7.0" text-anchor="end" fill="#231f20" font-style="italic">mig-10</text>
<line x1="43.40" y1="322.83" x2="45.80" y2="322.83" stroke="#444" stroke-width="0.5"/>
<rect x="46.00" y="326.46" width="11.42" height="7.56" fill="#0e2e55"/>
<rect x="57.12" y="326.46" width="11.42" height="7.56" fill="#220604"/>
<rect x="68.24" y="326.46" width="11.42" height="7.56" fill="#7e1a0c"/>
<rect x="79.36" y="326.46" width="11.42" height="7.56" fill="#7e1a0c"/>
<rect x="90.48" y="326.46" width="11.42" height="7.56" fill="#220604"/>
<rect x="101.60" y="326.46" width="11.42" height="7.56" fill="#05080e"/>
<rect x="112.72" y="326.46" width="11.42" height="7.56" fill="#081423"/>
<rect x="123.84" y="326.46" width="11.42" height="7.56" fill="#0b203a"/>
<rect x="134.96" y="326.46" width="11.42" height="7.56" fill="#0b203a"/>
<rect x="146.08" y="326.46" width="11.42" height="7.56" fill="#05080e"/>
<rect x="157.20" y="326.46" width="11.42" height="7.56" fill="#7e1a0c"/>
<rect x="168.32" y="326.46" width="11.42" height="7.56" fill="#7e1a0c"/>
<rect x="179.44" y="326.46" width="11.42" height="7.56" fill="#0b203a"/>
<rect x="190.56" y="326.46" width="11.42" height="7.56" fill="#103864"/>
<rect x="201.68" y="326.46" width="11.42" height="7.56" fill="#370a06"/>
<text x="39.60" y="332.69" font-size="7.0" text-anchor="end" fill="#231f20" font-style="italic">pdi-2</text>
<line x1="43.40" y1="330.09" x2="45.80" y2="330.09" stroke="#444" stroke-width="0.5"/>
<rect x="46.00" y="333.72" width="11.42" height="7.56" fill="#0b203a"/>
<rect x="57.12" y="333.72" width="11.42" height="7.56" fill="#7e1a0c"/>
<rect x="68.24" y="333.72" width="11.42" height="7.56" fill="#7e1a0c"/>
<rect x="79.36" y="333.72" width="11.42" height="7.56" fill="#4c0f08"/>
<rect x="90.48" y="333.72" width="11.42" height="7.56" fill="#220604"/>
<rect x="101.60" y="333.72" width="11.42" height="7.56" fill="#370a06"/>
<rect x="112.72" y="333.72" width="11.42" height="7.56" fill="#060e18"/>
<rect x="123.84" y="333.72" width="11.42" height="7.56" fill="#060e18"/>
<rect x="134.96" y="333.72" width="11.42" height="7.56" fill="#081423"/>
<rect x="146.08" y="333.72" width="11.42" height="7.56" fill="#220604"/>
<rect x="157.20" y="333.72" width="11.42" height="7.56" fill="#7e1a0c"/>
<rect x="168.32" y="333.72" width="11.42" height="7.56" fill="#7e1a0c"/>
<rect x="179.44" y="333.72" width="11.42" height="7.56" fill="#0b203a"/>
<rect x="190.56" y="333.72" width="11.42" height="7.56" fill="#0e2e55"/>
<rect x="201.68" y="333.72" width="11.42" height="7.56" fill="#370a06"/>
<text x="39.60" y="339.95" font-size="7.0" text-anchor="end" fill="#231f20" font-style="italic">pdi-6</text>
<line x1="43.40" y1="337.35" x2="45.80" y2="337.35" stroke="#444" stroke-width="0.5"/>
<rect x="46.00" y="340.98" width="11.42" height="7.56" fill="#081423"/>
<rect x="57.12" y="340.98" width="11.42" height="7.56" fill="#4c0f08"/>
<rect x="68.24" y="340.98" width="11.42" height="7.56" fill="#081423"/>
<rect x="79.36" y="340.98" width="11.42" height="7.56" fill="#081423"/>
<rect x="90.48" y="340.98" width="11.42" height="7.56" fill="#081423"/>
<rect x="101.60" y="340.98" width="11.42" height="7.56" fill="#081423"/>
<rect x="112.72" y="340.98" width="11.42" height="7.56" fill="#081423"/>
<rect x="123.84" y="340.98" width="11.42" height="7.56" fill="#081423"/>
<rect x="134.96" y="340.98" width="11.42" height="7.56" fill="#081423"/>
<rect x="146.08" y="340.98" width="11.42" height="7.56" fill="#a1220f"/>
<rect x="157.20" y="340.98" width="11.42" height="7.56" fill="#220604"/>
<rect x="168.32" y="340.98" width="11.42" height="7.56" fill="#97200e"/>
<rect x="179.44" y="340.98" width="11.42" height="7.56" fill="#0e2e55"/>
<rect x="190.56" y="340.98" width="11.42" height="7.56" fill="#103864"/>
<rect x="201.68" y="340.98" width="11.42" height="7.56" fill="#05080e"/>
<text x="39.60" y="347.21" font-size="7.0" text-anchor="end" fill="#231f20" font-style="italic">B0353.1</text>
<line x1="43.40" y1="344.61" x2="45.80" y2="344.61" stroke="#444" stroke-width="0.5"/>
<rect x="46.00" y="348.24" width="11.42" height="7.56" fill="#0b203a"/>
<rect x="57.12" y="348.24" width="11.42" height="7.56" fill="#4c0f08"/>
<rect x="68.24" y="348.24" width="11.42" height="7.56" fill="#7e1a0c"/>
<rect x="79.36" y="348.24" width="11.42" height="7.56" fill="#370a06"/>
<rect x="90.48" y="348.24" width="11.42" height="7.56" fill="#4c0f08"/>
<rect x="101.60" y="348.24" width="11.42" height="7.56" fill="#081423"/>
<rect x="112.72" y="348.24" width="11.42" height="7.56" fill="#0b203a"/>
<rect x="123.84" y="348.24" width="11.42" height="7.56" fill="#0e2e55"/>
<rect x="134.96" y="348.24" width="11.42" height="7.56" fill="#081423"/>
<rect x="146.08" y="348.24" width="11.42" height="7.56" fill="#a1220f"/>
<rect x="157.20" y="348.24" width="11.42" height="7.56" fill="#4c0f08"/>
<rect x="168.32" y="348.24" width="11.42" height="7.56" fill="#220604"/>
<rect x="179.44" y="348.24" width="11.42" height="7.56" fill="#0b203a"/>
<rect x="190.56" y="348.24" width="11.42" height="7.56" fill="#0e2e55"/>
<rect x="201.68" y="348.24" width="11.42" height="7.56" fill="#05080e"/>
<text x="39.60" y="354.47" font-size="7.0" text-anchor="end" fill="#231f20" font-style="italic">lfe-2</text>
<line x1="43.40" y1="351.87" x2="45.80" y2="351.87" stroke="#444" stroke-width="0.5"/>
<rect x="46.00" y="355.50" width="11.42" height="7.56" fill="#0e2e55"/>
<rect x="57.12" y="355.50" width="11.42" height="7.56" fill="#220604"/>
<rect x="68.24" y="355.50" width="11.42" height="7.56" fill="#ff3c14"/>
<rect x="79.36" y="355.50" width="11.42" height="7.56" fill="#7e1a0c"/>
<rect x="90.48" y="355.50" width="11.42" height="7.56" fill="#7e1a0c"/>
<rect x="101.60" y="355.50" width="11.42" height="7.56" fill="#220604"/>
<rect x="112.72" y="355.50" width="11.42" height="7.56" fill="#060e18"/>
<rect x="123.84" y="355.50" width="11.42" height="7.56" fill="#05080e"/>
<rect x="134.96" y="355.50" width="11.42" height="7.56" fill="#7e1a0c"/>
<rect x="146.08" y="355.50" width="11.42" height="7.56" fill="#220604"/>
<rect x="157.20" y="355.50" width="11.42" height="7.56" fill="#370a06"/>
<rect x="168.32" y="355.50" width="11.42" height="7.56" fill="#220604"/>
<rect x="179.44" y="355.50" width="11.42" height="7.56" fill="#0e2e55"/>
<rect x="190.56" y="355.50" width="11.42" height="7.56" fill="#081423"/>
<rect x="201.68" y="355.50" width="11.42" height="7.56" fill="#0b203a"/>
<text x="39.60" y="361.73" font-size="7.0" text-anchor="end" fill="#231f20" font-style="italic">gap-2</text>
<line x1="43.40" y1="359.13" x2="45.80" y2="359.13" stroke="#444" stroke-width="0.5"/>
<rect x="46.00" y="362.76" width="11.42" height="7.56" fill="#081423"/>
<rect x="57.12" y="362.76" width="11.42" height="7.56" fill="#370a06"/>
<rect x="68.24" y="362.76" width="11.42" height="7.56" fill="#7e1a0c"/>
<rect x="79.36" y="362.76" width="11.42" height="7.56" fill="#081423"/>
<rect x="90.48" y="362.76" width="11.42" height="7.56" fill="#4c0f08"/>
<rect x="101.60" y="362.76" width="11.42" height="7.56" fill="#4c0f08"/>
<rect x="112.72" y="362.76" width="11.42" height="7.56" fill="#0b203a"/>
<rect x="123.84" y="362.76" width="11.42" height="7.56" fill="#0b203a"/>
<rect x="134.96" y="362.76" width="11.42" height="7.56" fill="#220604"/>
<rect x="146.08" y="362.76" width="11.42" height="7.56" fill="#220604"/>
<rect x="157.20" y="362.76" width="11.42" height="7.56" fill="#7e1a0c"/>
<rect x="168.32" y="362.76" width="11.42" height="7.56" fill="#220604"/>
<rect x="179.44" y="362.76" width="11.42" height="7.56" fill="#0e2e55"/>
<rect x="190.56" y="362.76" width="11.42" height="7.56" fill="#0e2e55"/>
<rect x="201.68" y="362.76" width="11.42" height="7.56" fill="#0b203a"/>
<text x="39.60" y="368.99" font-size="7.0" text-anchor="end" fill="#231f20" font-style="italic">Y37A1A.4</text>
<line x1="43.40" y1="366.39" x2="45.80" y2="366.39" stroke="#444" stroke-width="0.5"/>
<rect x="46.00" y="370.02" width="11.42" height="7.56" fill="#081423"/>
<rect x="57.12" y="370.02" width="11.42" height="7.56" fill="#4c0f08"/>
<rect x="68.24" y="370.02" width="11.42" height="7.56" fill="#370a06"/>
<rect x="79.36" y="370.02" width="11.42" height="7.56" fill="#7e1a0c"/>
<rect x="90.48" y="370.02" width="11.42" height="7.56" fill="#05080e"/>
<rect x="101.60" y="370.02" width="11.42" height="7.56" fill="#4c0f08"/>
<rect x="112.72" y="370.02" width="11.42" height="7.56" fill="#370a06"/>
<rect x="123.84" y="370.02" width="11.42" height="7.56" fill="#0e2e55"/>
<rect x="134.96" y="370.02" width="11.42" height="7.56" fill="#220604"/>
<rect x="146.08" y="370.02" width="11.42" height="7.56" fill="#081423"/>
<rect x="157.20" y="370.02" width="11.42" height="7.56" fill="#4c0f08"/>
<rect x="168.32" y="370.02" width="11.42" height="7.56" fill="#4c0f08"/>
<rect x="179.44" y="370.02" width="11.42" height="7.56" fill="#0e2e55"/>
<rect x="190.56" y="370.02" width="11.42" height="7.56" fill="#0e2e55"/>
<rect x="201.68" y="370.02" width="11.42" height="7.56" fill="#0b203a"/>
<text x="39.60" y="376.25" font-size="7.0" text-anchor="end" fill="#231f20" font-style="italic">ell-1</text>
<line x1="43.40" y1="373.65" x2="45.80" y2="373.65" stroke="#444" stroke-width="0.5"/>
<rect x="46.00" y="377.28" width="11.42" height="7.56" fill="#0b203a"/>
<rect x="57.12" y="377.28" width="11.42" height="7.56" fill="#4c0f08"/>
<rect x="68.24" y="377.28" width="11.42" height="7.56" fill="#4c0f08"/>
<rect x="79.36" y="377.28" width="11.42" height="7.56" fill="#220604"/>
<rect x="90.48" y="377.28" width="11.42" height="7.56" fill="#05080e"/>
<rect x="101.60" y="377.28" width="11.42" height="7.56" fill="#220604"/>
<rect x="112.72" y="377.28" width="11.42" height="7.56" fill="#081423"/>
<rect x="123.84" y="377.28" width="11.42" height="7.56" fill="#0b203a"/>
<rect x="134.96" y="377.28" width="11.42" height="7.56" fill="#081423"/>
<rect x="146.08" y="377.28" width="11.42" height="7.56" fill="#0b203a"/>
<rect x="157.20" y="377.28" width="11.42" height="7.56" fill="#7e1a0c"/>
<rect x="168.32" y="377.28" width="11.42" height="7.56" fill="#220604"/>
<rect x="179.44" y="377.28" width="11.42" height="7.56" fill="#0e2e55"/>
<rect x="190.56" y="377.28" width="11.42" height="7.56" fill="#134174"/>
<rect x="201.68" y="377.28" width="11.42" height="7.56" fill="#081423"/>
<text x="39.60" y="383.51" font-size="7.0" text-anchor="end" fill="#231f20" font-style="italic">pdi-3</text>
<line x1="43.40" y1="380.91" x2="45.80" y2="380.91" stroke="#444" stroke-width="0.5"/>
<rect x="46.00" y="384.54" width="11.42" height="7.56" fill="#0e2e55"/>
<rect x="57.12" y="384.54" width="11.42" height="7.56" fill="#060e18"/>
<rect x="68.24" y="384.54" width="11.42" height="7.56" fill="#05080e"/>
<rect x="79.36" y="384.54" width="11.42" height="7.56" fill="#0b203a"/>
<rect x="90.48" y="384.54" width="11.42" height="7.56" fill="#370a06"/>
<rect x="101.60" y="384.54" width="11.42" height="7.56" fill="#081423"/>
<rect x="112.72" y="384.54" width="11.42" height="7.56" fill="#081423"/>
<rect x="123.84" y="384.54" width="11.42" height="7.56" fill="#05080e"/>
<rect x="134.96" y="384.54" width="11.42" height="7.56" fill="#0e2e55"/>
<rect x="146.08" y="384.54" width="11.42" height="7.56" fill="#370a06"/>
<rect x="157.20" y="384.54" width="11.42" height="7.56" fill="#b02610"/>
<rect x="168.32" y="384.54" width="11.42" height="7.56" fill="#7e1a0c"/>
<rect x="179.44" y="384.54" width="11.42" height="7.56" fill="#103864"/>
<rect x="190.56" y="384.54" width="11.42" height="7.56" fill="#081423"/>
<rect x="201.68" y="384.54" width="11.42" height="7.56" fill="#0e2e55"/>
<text x="39.60" y="390.77" font-size="7.0" text-anchor="end" fill="#231f20" font-style="italic">ZK470.2</text>
<line x1="43.40" y1="388.17" x2="45.80" y2="388.17" stroke="#444" stroke-width="0.5"/>
<rect x="46.00" y="391.80" width="11.42" height="7.56" fill="#174e87"/>
<rect x="57.12" y="391.80" width="11.42" height="7.56" fill="#7e1a0c"/>
<rect x="68.24" y="391.80" width="11.42" height="7.56" fill="#0e2e55"/>
<rect x="79.36" y="391.80" width="11.42" height="7.56" fill="#7e1a0c"/>
<rect x="90.48" y="391.80" width="11.42" height="7.56" fill="#081423"/>
<rect x="101.60" y="391.80" width="11.42" height="7.56" fill="#174e87"/>
<rect x="112.72" y="391.80" width="11.42" height="7.56" fill="#7e1a0c"/>
<rect x="123.84" y="391.80" width="11.42" height="7.56" fill="#7e1a0c"/>
<rect x="134.96" y="391.80" width="11.42" height="7.56" fill="#081423"/>
<rect x="146.08" y="391.80" width="11.42" height="7.56" fill="#370a06"/>
<rect x="157.20" y="391.80" width="11.42" height="7.56" fill="#081423"/>
<rect x="168.32" y="391.80" width="11.42" height="7.56" fill="#4c0f08"/>
<rect x="179.44" y="391.80" width="11.42" height="7.56" fill="#134174"/>
<rect x="190.56" y="391.80" width="11.42" height="7.56" fill="#0e2e55"/>
<rect x="201.68" y="391.80" width="11.42" height="7.56" fill="#081423"/>
<text x="39.60" y="398.03" font-size="7.0" text-anchor="end" fill="#231f20" font-style="italic">soc-2</text>
<line x1="43.40" y1="395.43" x2="45.80" y2="395.43" stroke="#444" stroke-width="0.5"/>
<rect x="46.00" y="399.06" width="11.42" height="7.56" fill="#0e2e55"/>
<rect x="57.12" y="399.06" width="11.42" height="7.56" fill="#a1220f"/>
<rect x="68.24" y="399.06" width="11.42" height="7.56" fill="#060e18"/>
<rect x="79.36" y="399.06" width="11.42" height="7.56" fill="#0e2e55"/>
<rect x="90.48" y="399.06" width="11.42" height="7.56" fill="#0b203a"/>
<rect x="101.60" y="399.06" width="11.42" height="7.56" fill="#0b203a"/>
<rect x="112.72" y="399.06" width="11.42" height="7.56" fill="#220604"/>
<rect x="123.84" y="399.06" width="11.42" height="7.56" fill="#220604"/>
<rect x="134.96" y="399.06" width="11.42" height="7.56" fill="#103864"/>
<rect x="146.08" y="399.06" width="11.42" height="7.56" fill="#370a06"/>
<rect x="157.20" y="399.06" width="11.42" height="7.56" fill="#220604"/>
<rect x="168.32" y="399.06" width="11.42" height="7.56" fill="#4c0f08"/>
<rect x="179.44" y="399.06" width="11.42" height="7.56" fill="#0b203a"/>
<rect x="190.56" y="399.06" width="11.42" height="7.56" fill="#0b203a"/>
<rect x="201.68" y="399.06" width="11.42" height="7.56" fill="#05080e"/>
<text x="39.60" y="405.29" font-size="7.0" text-anchor="end" fill="#231f20" font-style="italic">rig-6</text>
<line x1="43.40" y1="402.69" x2="45.80" y2="402.69" stroke="#444" stroke-width="0.5"/>
<rect x="46.00" y="406.32" width="11.42" height="7.56" fill="#0b203a"/>
<rect x="57.12" y="406.32" width="11.42" height="7.56" fill="#081423"/>
<rect x="68.24" y="406.32" width="11.42" height="7.56" fill="#0b203a"/>
<rect x="79.36" y="406.32" width="11.42" height="7.56" fill="#0b203a"/>
<rect x="90.48" y="406.32" width="11.42" height="7.56" fill="#7e1a0c"/>
<rect x="101.60" y="406.32" width="11.42" height="7.56" fill="#0e2e55"/>
<rect x="112.72" y="406.32" width="11.42" height="7.56" fill="#0b203a"/>
<rect x="123.84" y="406.32" width="11.42" height="7.56" fill="#0b203a"/>
<rect x="134.96" y="406.32" width="11.42" height="7.56" fill="#0b203a"/>
<rect x="146.08" y="406.32" width="11.42" height="7.56" fill="#081423"/>
<rect x="157.20" y="406.32" width="11.42" height="7.56" fill="#0e2e55"/>
<rect x="168.32" y="406.32" width="11.42" height="7.56" fill="#220604"/>
<rect x="179.44" y="406.32" width="11.42" height="7.56" fill="#0e2e55"/>
<rect x="190.56" y="406.32" width="11.42" height="7.56" fill="#0e2e55"/>
<rect x="201.68" y="406.32" width="11.42" height="7.56" fill="#0b203a"/>
<text x="39.60" y="412.55" font-size="7.0" text-anchor="end" fill="#231f20" font-style="italic">ttr-15</text>
<line x1="43.40" y1="409.95" x2="45.80" y2="409.95" stroke="#444" stroke-width="0.5"/>
<rect x="46.00" y="413.58" width="11.42" height="7.56" fill="#0e2e55"/>
<rect x="57.12" y="413.58" width="11.42" height="7.56" fill="#0b203a"/>
<rect x="68.24" y="413.58" width="11.42" height="7.56" fill="#b02610"/>
<rect x="79.36" y="413.58" width="11.42" height="7.56" fill="#370a06"/>
<rect x="90.48" y="413.58" width="11.42" height="7.56" fill="#7e1a0c"/>
<rect x="101.60" y="413.58" width="11.42" height="7.56" fill="#220604"/>
<rect x="112.72" y="413.58" width="11.42" height="7.56" fill="#0e2e55"/>
<rect x="123.84" y="413.58" width="11.42" height="7.56" fill="#081423"/>
<rect x="134.96" y="413.58" width="11.42" height="7.56" fill="#220604"/>
<rect x="146.08" y="413.58" width="11.42" height="7.56" fill="#0e2e55"/>
<rect x="157.20" y="413.58" width="11.42" height="7.56" fill="#0e2e55"/>
<rect x="168.32" y="413.58" width="11.42" height="7.56" fill="#05080e"/>
<rect x="179.44" y="413.58" width="11.42" height="7.56" fill="#0e2e55"/>
<rect x="190.56" y="413.58" width="11.42" height="7.56" fill="#0b203a"/>
<rect x="201.68" y="413.58" width="11.42" height="7.56" fill="#081423"/>
<text x="39.60" y="419.81" font-size="7.0" text-anchor="end" fill="#231f20" font-style="italic">C30G4.4</text>
<line x1="43.40" y1="417.21" x2="45.80" y2="417.21" stroke="#444" stroke-width="0.5"/>
<rect x="46.00" y="420.84" width="11.42" height="7.56" fill="#0e2e55"/>
<rect x="57.12" y="420.84" width="11.42" height="7.56" fill="#081423"/>
<rect x="68.24" y="420.84" width="11.42" height="7.56" fill="#7e1a0c"/>
<rect x="79.36" y="420.84" width="11.42" height="7.56" fill="#220604"/>
<rect x="90.48" y="420.84" width="11.42" height="7.56" fill="#220604"/>
<rect x="101.60" y="420.84" width="11.42" height="7.56" fill="#220604"/>
<rect x="112.72" y="420.84" width="11.42" height="7.56" fill="#081423"/>
<rect x="123.84" y="420.84" width="11.42" height="7.56" fill="#081423"/>
<rect x="134.96" y="420.84" width="11.42" height="7.56" fill="#4c0f08"/>
<rect x="146.08" y="420.84" width="11.42" height="7.56" fill="#370a06"/>
<rect x="157.20" y="420.84" width="11.42" height="7.56" fill="#081423"/>
<rect x="168.32" y="420.84" width="11.42" height="7.56" fill="#370a06"/>
<rect x="179.44" y="420.84" width="11.42" height="7.56" fill="#0e2e55"/>
<rect x="190.56" y="420.84" width="11.42" height="7.56" fill="#0e2e55"/>
<rect x="201.68" y="420.84" width="11.42" height="7.56" fill="#081423"/>
<text x="39.60" y="427.07" font-size="7.0" text-anchor="end" fill="#231f20" font-style="italic">sms-3</text>
<line x1="43.40" y1="424.47" x2="45.80" y2="424.47" stroke="#444" stroke-width="0.5"/>
<rect x="46.00" y="428.10" width="11.42" height="7.56" fill="#0b203a"/>
<rect x="57.12" y="428.10" width="11.42" height="7.56" fill="#081423"/>
<rect x="68.24" y="428.10" width="11.42" height="7.56" fill="#7e1a0c"/>
<rect x="79.36" y="428.10" width="11.42" height="7.56" fill="#220604"/>
<rect x="90.48" y="428.10" width="11.42" height="7.56" fill="#370a06"/>
<rect x="101.60" y="428.10" width="11.42" height="7.56" fill="#220604"/>
<rect x="112.72" y="428.10" width="11.42" height="7.56" fill="#05080e"/>
<rect x="123.84" y="428.10" width="11.42" height="7.56" fill="#05080e"/>
<rect x="134.96" y="428.10" width="11.42" height="7.56" fill="#05080e"/>
<rect x="146.08" y="428.10" width="11.42" height="7.56" fill="#0b203a"/>
<rect x="157.20" y="428.10" width="11.42" height="7.56" fill="#05080e"/>
<rect x="168.32" y="428.10" width="11.42" height="7.56" fill="#220604"/>
<rect x="179.44" y="428.10" width="11.42" height="7.56" fill="#0b203a"/>
<rect x="190.56" y="428.10" width="11.42" height="7.56" fill="#0b203a"/>
<rect x="201.68" y="428.10" width="11.42" height="7.56" fill="#220604"/>
<text x="39.60" y="434.33" font-size="7.0" text-anchor="end" fill="#231f20" font-style="italic">vha-11</text>
<line x1="43.40" y1="431.73" x2="45.80" y2="431.73" stroke="#444" stroke-width="0.5"/>
<rect x="46.00" y="435.36" width="11.42" height="7.56" fill="#220604"/>
<rect x="57.12" y="435.36" width="11.42" height="7.56" fill="#370a06"/>
<rect x="68.24" y="435.36" width="11.42" height="7.56" fill="#0b203a"/>
<rect x="79.36" y="435.36" width="11.42" height="7.56" fill="#081423"/>
<rect x="90.48" y="435.36" width="11.42" height="7.56" fill="#7e1a0c"/>
<rect x="101.60" y="435.36" width="11.42" height="7.56" fill="#0b203a"/>
<rect x="112.72" y="435.36" width="11.42" height="7.56" fill="#220604"/>
<rect x="123.84" y="435.36" width="11.42" height="7.56" fill="#7e1a0c"/>
<rect x="134.96" y="435.36" width="11.42" height="7.56" fill="#05080e"/>
<rect x="146.08" y="435.36" width="11.42" height="7.56" fill="#0b203a"/>
<rect x="157.20" y="435.36" width="11.42" height="7.56" fill="#081423"/>
<rect x="168.32" y="435.36" width="11.42" height="7.56" fill="#370a06"/>
<rect x="179.44" y="435.36" width="11.42" height="7.56" fill="#174e87"/>
<rect x="190.56" y="435.36" width="11.42" height="7.56" fill="#0e2e55"/>
<rect x="201.68" y="435.36" width="11.42" height="7.56" fill="#220604"/>
<text x="39.60" y="441.59" font-size="7.0" text-anchor="end" fill="#231f20" font-style="italic">mob-2</text>
<line x1="43.40" y1="438.99" x2="45.80" y2="438.99" stroke="#444" stroke-width="0.5"/>
<rect x="46.00" y="442.62" width="11.42" height="7.56" fill="#081423"/>
<rect x="57.12" y="442.62" width="11.42" height="7.56" fill="#4c0f08"/>
<rect x="68.24" y="442.62" width="11.42" height="7.56" fill="#103864"/>
<rect x="79.36" y="442.62" width="11.42" height="7.56" fill="#4c0f08"/>
<rect x="90.48" y="442.62" width="11.42" height="7.56" fill="#0e2e55"/>
<rect x="101.60" y="442.62" width="11.42" height="7.56" fill="#081423"/>
<rect x="112.72" y="442.62" width="11.42" height="7.56" fill="#831b0c"/>
<rect x="123.84" y="442.62" width="11.42" height="7.56" fill="#05080e"/>
<rect x="134.96" y="442.62" width="11.42" height="7.56" fill="#220604"/>
<rect x="146.08" y="442.62" width="11.42" height="7.56" fill="#0b203a"/>
<rect x="157.20" y="442.62" width="11.42" height="7.56" fill="#0b203a"/>
<rect x="168.32" y="442.62" width="11.42" height="7.56" fill="#081423"/>
<rect x="179.44" y="442.62" width="11.42" height="7.56" fill="#0b203a"/>
<rect x="190.56" y="442.62" width="11.42" height="7.56" fill="#0b203a"/>
<rect x="201.68" y="442.62" width="11.42" height="7.56" fill="#081423"/>
<text x="39.60" y="448.85" font-size="7.0" text-anchor="end" fill="#231f20" font-style="italic">abts-1</text>
<line x1="43.40" y1="446.25" x2="45.80" y2="446.25" stroke="#444" stroke-width="0.5"/>
<rect x="46.00" y="449.88" width="11.42" height="7.56" fill="#103864"/>
<rect x="57.12" y="449.88" width="11.42" height="7.56" fill="#220604"/>
<rect x="68.24" y="449.88" width="11.42" height="7.56" fill="#0b203a"/>
<rect x="79.36" y="449.88" width="11.42" height="7.56" fill="#05080e"/>
<rect x="90.48" y="449.88" width="11.42" height="7.56" fill="#0e2e55"/>
<rect x="101.60" y="449.88" width="11.42" height="7.56" fill="#0b203a"/>
<rect x="112.72" y="449.88" width="11.42" height="7.56" fill="#05080e"/>
<rect x="123.84" y="449.88" width="11.42" height="7.56" fill="#0b203a"/>
<rect x="134.96" y="449.88" width="11.42" height="7.56" fill="#6a160a"/>
<rect x="146.08" y="449.88" width="11.42" height="7.56" fill="#0b203a"/>
<rect x="157.20" y="449.88" width="11.42" height="7.56" fill="#081423"/>
<rect x="168.32" y="449.88" width="11.42" height="7.56" fill="#0b203a"/>
<rect x="179.44" y="449.88" width="11.42" height="7.56" fill="#0b203a"/>
<rect x="190.56" y="449.88" width="11.42" height="7.56" fill="#0e2e55"/>
<rect x="201.68" y="449.88" width="11.42" height="7.56" fill="#081423"/>
<text x="39.60" y="456.11" font-size="7.0" text-anchor="end" fill="#231f20" font-style="italic">unc-89</text>
<line x1="43.40" y1="453.51" x2="45.80" y2="453.51" stroke="#444" stroke-width="0.5"/>
<rect x="46.00" y="457.14" width="11.42" height="7.56" fill="#0b203a"/>
<rect x="57.12" y="457.14" width="11.42" height="7.56" fill="#220604"/>
<rect x="68.24" y="457.14" width="11.42" height="7.56" fill="#134174"/>
<rect x="79.36" y="457.14" width="11.42" height="7.56" fill="#7e1a0c"/>
<rect x="90.48" y="457.14" width="11.42" height="7.56" fill="#b02610"/>
<rect x="101.60" y="457.14" width="11.42" height="7.56" fill="#7e1a0c"/>
<rect x="112.72" y="457.14" width="11.42" height="7.56" fill="#060e18"/>
<rect x="123.84" y="457.14" width="11.42" height="7.56" fill="#0b203a"/>
<rect x="134.96" y="457.14" width="11.42" height="7.56" fill="#4c0f08"/>
<rect x="146.08" y="457.14" width="11.42" height="7.56" fill="#0b203a"/>
<rect x="157.20" y="457.14" width="11.42" height="7.56" fill="#081423"/>
<rect x="168.32" y="457.14" width="11.42" height="7.56" fill="#081423"/>
<rect x="179.44" y="457.14" width="11.42" height="7.56" fill="#174e87"/>
<rect x="190.56" y="457.14" width="11.42" height="7.56" fill="#0b203a"/>
<rect x="201.68" y="457.14" width="11.42" height="7.56" fill="#0e2e55"/>
<text x="39.60" y="463.37" font-size="7.0" text-anchor="end" fill="#231f20" font-style="italic">miz-1</text>
<line x1="43.40" y1="460.77" x2="45.80" y2="460.77" stroke="#444" stroke-width="0.5"/>
<rect x="46.00" y="464.40" width="11.42" height="7.56" fill="#0e2e55"/>
<rect x="57.12" y="464.40" width="11.42" height="7.56" fill="#370a06"/>
<rect x="68.24" y="464.40" width="11.42" height="7.56" fill="#220604"/>
<rect x="79.36" y="464.40" width="11.42" height="7.56" fill="#370a06"/>
<rect x="90.48" y="464.40" width="11.42" height="7.56" fill="#7e1a0c"/>
<rect x="101.60" y="464.40" width="11.42" height="7.56" fill="#7e1a0c"/>
<rect x="112.72" y="464.40" width="11.42" height="7.56" fill="#ff3c14"/>
<rect x="123.84" y="464.40" width="11.42" height="7.56" fill="#060e18"/>
<rect x="134.96" y="464.40" width="11.42" height="7.56" fill="#370a06"/>
<rect x="146.08" y="464.40" width="11.42" height="7.56" fill="#0e2e55"/>
<rect x="157.20" y="464.40" width="11.42" height="7.56" fill="#220604"/>
<rect x="168.32" y="464.40" width="11.42" height="7.56" fill="#05080e"/>
<rect x="179.44" y="464.40" width="11.42" height="7.56" fill="#0e2e55"/>
<rect x="190.56" y="464.40" width="11.42" height="7.56" fill="#0e2e55"/>
<rect x="201.68" y="464.40" width="11.42" height="7.56" fill="#0b203a"/>
<text x="39.60" y="470.63" font-size="7.0" text-anchor="end" fill="#231f20" font-style="italic">ret-1</text>
<line x1="43.40" y1="468.03" x2="45.80" y2="468.03" stroke="#444" stroke-width="0.5"/>
<rect x="46.00" y="471.66" width="11.42" height="7.56" fill="#103864"/>
<rect x="57.12" y="471.66" width="11.42" height="7.56" fill="#220604"/>
<rect x="68.24" y="471.66" width="11.42" height="7.56" fill="#081423"/>
<rect x="79.36" y="471.66" width="11.42" height="7.56" fill="#97200e"/>
<rect x="90.48" y="471.66" width="11.42" height="7.56" fill="#7e1a0c"/>
<rect x="101.60" y="471.66" width="11.42" height="7.56" fill="#7e1a0c"/>
<rect x="112.72" y="471.66" width="11.42" height="7.56" fill="#7e1a0c"/>
<rect x="123.84" y="471.66" width="11.42" height="7.56" fill="#081423"/>
<rect x="134.96" y="471.66" width="11.42" height="7.56" fill="#05080e"/>
<rect x="146.08" y="471.66" width="11.42" height="7.56" fill="#0b203a"/>
<rect x="157.20" y="471.66" width="11.42" height="7.56" fill="#081423"/>
<rect x="168.32" y="471.66" width="11.42" height="7.56" fill="#081423"/>
<rect x="179.44" y="471.66" width="11.42" height="7.56" fill="#0b203a"/>
<rect x="190.56" y="471.66" width="11.42" height="7.56" fill="#103864"/>
<rect x="201.68" y="471.66" width="11.42" height="7.56" fill="#081423"/>
<text x="39.60" y="477.89" font-size="7.0" text-anchor="end" fill="#231f20" font-style="italic">F25B5.3</text>
<line x1="43.40" y1="475.29" x2="45.80" y2="475.29" stroke="#444" stroke-width="0.5"/>
<rect x="46.00" y="478.92" width="11.42" height="7.56" fill="#081423"/>
<rect x="57.12" y="478.92" width="11.42" height="7.56" fill="#220604"/>
<rect x="68.24" y="478.92" width="11.42" height="7.56" fill="#370a06"/>
<rect x="79.36" y="478.92" width="11.42" height="7.56" fill="#97200e"/>
<rect x="90.48" y="478.92" width="11.42" height="7.56" fill="#370a06"/>
<rect x="101.60" y="478.92" width="11.42" height="7.56" fill="#0b203a"/>
<rect x="112.72" y="478.92" width="11.42" height="7.56" fill="#7e1a0c"/>
<rect x="123.84" y="478.92" width="11.42" height="7.56" fill="#081423"/>
<rect x="134.96" y="478.92" width="11.42" height="7.56" fill="#05080e"/>
<rect x="146.08" y="478.92" width="11.42" height="7.56" fill="#081423"/>
<rect x="157.20" y="478.92" width="11.42" height="7.56" fill="#081423"/>
<rect x="168.32" y="478.92" width="11.42" height="7.56" fill="#081423"/>
<rect x="179.44" y="478.92" width="11.42" height="7.56" fill="#0b203a"/>
<rect x="190.56" y="478.92" width="11.42" height="7.56" fill="#081423"/>
<rect x="201.68" y="478.92" width="11.42" height="7.56" fill="#081423"/>
<text x="39.60" y="485.15" font-size="7.0" text-anchor="end" fill="#231f20" font-style="italic">let-607</text>
<line x1="43.40" y1="482.55" x2="45.80" y2="482.55" stroke="#444" stroke-width="0.5"/>
<rect x="46.00" y="486.18" width="11.42" height="7.56" fill="#0b203a"/>
<rect x="57.12" y="486.18" width="11.42" height="7.56" fill="#220604"/>
<rect x="68.24" y="486.18" width="11.42" height="7.56" fill="#220604"/>
<rect x="79.36" y="486.18" width="11.42" height="7.56" fill="#370a06"/>
<rect x="90.48" y="486.18" width="11.42" height="7.56" fill="#220604"/>
<rect x="101.60" y="486.18" width="11.42" height="7.56" fill="#220604"/>
<rect x="112.72" y="486.18" width="11.42" height="7.56" fill="#7e1a0c"/>
<rect x="123.84" y="486.18" width="11.42" height="7.56" fill="#05080e"/>
<rect x="134.96" y="486.18" width="11.42" height="7.56" fill="#220604"/>
<rect x="146.08" y="486.18" width="11.42" height="7.56" fill="#05080e"/>
<rect x="157.20" y="486.18" width="11.42" height="7.56" fill="#05080e"/>
<rect x="168.32" y="486.18" width="11.42" height="7.56" fill="#220604"/>
<rect x="179.44" y="486.18" width="11.42" height="7.56" fill="#0e2e55"/>
<rect x="190.56" y="486.18" width="11.42" height="7.56" fill="#0e2e55"/>
<rect x="201.68" y="486.18" width="11.42" height="7.56" fill="#081423"/>
<text x="39.60" y="492.41" font-size="7.0" text-anchor="end" fill="#231f20" font-style="italic">gei-4</text>
<line x1="43.40" y1="489.81" x2="45.80" y2="489.81" stroke="#444" stroke-width="0.5"/>
<line x1="51.56" y1="493.44" x2="51.56" y2="496.04" stroke="#444" stroke-width="0.5"/>
<text x="54.26" y="499.74" font-size="7.6" text-anchor="end" fill="#231f20" transform="rotate(-90 54.26 499.74)">Coelomocyte</text>
<line x1="62.68" y1="493.44" x2="62.68" y2="496.04" stroke="#444" stroke-width="0.5"/>
<text x="65.38" y="499.74" font-size="7.6" text-anchor="end" fill="#231f20" transform="rotate(-90 65.38 499.74)">Excretory gland/DTC</text>
<line x1="73.80" y1="493.44" x2="73.80" y2="496.04" stroke="#444" stroke-width="0.5"/>
<text x="76.50" y="499.74" font-size="7.6" text-anchor="end" fill="#231f20" transform="rotate(-90 76.50 499.74)">Glia</text>
<line x1="84.92" y1="493.44" x2="84.92" y2="496.04" stroke="#444" stroke-width="0.5"/>
<text x="87.62" y="499.74" font-size="7.6" text-anchor="end" fill="#231f20" transform="rotate(-90 87.62 499.74)">Gonadal sheath</text>
<line x1="96.04" y1="493.44" x2="96.04" y2="496.04" stroke="#444" stroke-width="0.5"/>
<text x="98.74" y="499.74" font-size="7.6" text-anchor="end" fill="#231f20" transform="rotate(-90 98.74 499.74)">Hypodermis</text>
<line x1="107.16" y1="493.44" x2="107.16" y2="496.04" stroke="#444" stroke-width="0.5"/>
<text x="109.86" y="499.74" font-size="7.6" text-anchor="end" fill="#231f20" transform="rotate(-90 109.86 499.74)">Intestine</text>
<line x1="118.28" y1="493.44" x2="118.28" y2="496.04" stroke="#444" stroke-width="0.5"/>
<text x="120.98" y="499.74" font-size="7.6" text-anchor="end" fill="#231f20" transform="rotate(-90 120.98 499.74)">Muscle</text>
<line x1="129.40" y1="493.44" x2="129.40" y2="496.04" stroke="#444" stroke-width="0.5"/>
<text x="132.10" y="499.74" font-size="7.6" text-anchor="end" fill="#231f20" transform="rotate(-90 132.10 499.74)">Neuron</text>
<line x1="140.52" y1="493.44" x2="140.52" y2="496.04" stroke="#444" stroke-width="0.5"/>
<text x="143.22" y="499.74" font-size="7.6" text-anchor="end" fill="#231f20" transform="rotate(-90 143.22 499.74)">Pharynx</text>
<line x1="151.64" y1="493.44" x2="151.64" y2="496.04" stroke="#444" stroke-width="0.5"/>
<text x="154.34" y="499.74" font-size="7.6" text-anchor="end" fill="#231f20" transform="rotate(-90 154.34 499.74)">Spermatheca</text>
<line x1="162.76" y1="493.44" x2="162.76" y2="496.04" stroke="#444" stroke-width="0.5"/>
<text x="165.46" y="499.74" font-size="7.6" text-anchor="end" fill="#231f20" transform="rotate(-90 165.46 499.74)">Uterineseam</text>
<line x1="173.88" y1="493.44" x2="173.88" y2="496.04" stroke="#444" stroke-width="0.5"/>
<text x="176.58" y="499.74" font-size="7.6" text-anchor="end" fill="#231f20" transform="rotate(-90 176.58 499.74)">Vulva/uterus</text>
<line x1="185.00" y1="493.44" x2="185.00" y2="496.04" stroke="#444" stroke-width="0.5"/>
<text x="187.70" y="499.74" font-size="7.6" text-anchor="end" fill="#231f20" transform="rotate(-90 187.70 499.74)">Germline</text>
<line x1="196.12" y1="493.44" x2="196.12" y2="496.04" stroke="#444" stroke-width="0.5"/>
<text x="198.82" y="499.74" font-size="7.6" text-anchor="end" fill="#231f20" transform="rotate(-90 198.82 499.74)">Sperm</text>
<line x1="207.24" y1="493.44" x2="207.24" y2="496.04" stroke="#444" stroke-width="0.5"/>
<text x="209.94" y="499.74" font-size="7.6" text-anchor="end" fill="#231f20" transform="rotate(-90 209.94 499.74)">Embryonic</text>
<text x="225.00" y="10.70" font-size="13.2" text-anchor="start" fill="#000" font-weight="bold">c</text>
<defs><linearGradient id="cbc" x1="0" x2="1" y1="0" y2="0"><stop offset="0" stop-color="#f0401a"/><stop offset="0.25" stop-color="#8a2010"/><stop offset="0.5" stop-color="#050505"/><stop offset="0.75" stop-color="#10355e"/><stop offset="1" stop-color="#1f6cb8"/></linearGradient></defs>
<rect x="292.90" y="17.00" width="50.31" height="49.80" fill="#180808"/>
<rect x="292.90" y="17.00" width="17.07" height="8.60" fill="#b02610"/>
<rect x="309.67" y="17.00" width="17.07" height="8.60" fill="#4c0f08"/>
<rect x="326.44" y="17.00" width="17.07" height="8.60" fill="#0a1a2e"/>
<text x="287.90" y="23.75" font-size="7.0" text-anchor="end" fill="#231f20" font-style="italic">let-23</text>
<line x1="289.90" y1="21.15" x2="292.30" y2="21.15" stroke="#555" stroke-width="0.5"/>
<rect x="292.90" y="25.30" width="17.07" height="8.60" fill="#df3312"/>
<rect x="309.67" y="25.30" width="17.07" height="8.60" fill="#7e1a0c"/>
<rect x="326.44" y="25.30" width="17.07" height="8.60" fill="#0b203a"/>
<text x="287.90" y="32.05" font-size="7.0" text-anchor="end" fill="#231f20" font-style="italic">frm-7</text>
<line x1="289.90" y1="29.45" x2="292.30" y2="29.45" stroke="#555" stroke-width="0.5"/>
<rect x="292.90" y="33.60" width="17.07" height="8.60" fill="#7e1a0c"/>
<rect x="309.67" y="33.60" width="17.07" height="8.60" fill="#65140a"/>
<rect x="326.44" y="33.60" width="17.07" height="8.60" fill="#220604"/>
<text x="287.90" y="40.35" font-size="7.0" text-anchor="end" fill="#231f20" font-style="italic">Y105E8A.25</text>
<line x1="289.90" y1="37.75" x2="292.30" y2="37.75" stroke="#555" stroke-width="0.5"/>
<rect x="292.90" y="41.90" width="17.07" height="8.60" fill="#060e18"/>
<rect x="309.67" y="41.90" width="17.07" height="8.60" fill="#97200e"/>
<rect x="326.44" y="41.90" width="17.07" height="8.60" fill="#b02610"/>
<text x="287.90" y="48.65" font-size="7.0" text-anchor="end" fill="#231f20" font-style="italic">ret-1</text>
<line x1="289.90" y1="46.05" x2="292.30" y2="46.05" stroke="#555" stroke-width="0.5"/>
<rect x="292.90" y="50.20" width="17.07" height="8.60" fill="#0e2e55"/>
<rect x="309.67" y="50.20" width="17.07" height="8.60" fill="#0a1a2e"/>
<rect x="326.44" y="50.20" width="17.07" height="8.60" fill="#220604"/>
<text x="287.90" y="56.95" font-size="7.0" text-anchor="end" fill="#231f20" font-style="italic">plin-1</text>
<line x1="289.90" y1="54.35" x2="292.30" y2="54.35" stroke="#555" stroke-width="0.5"/>
<rect x="292.90" y="58.50" width="17.07" height="8.60" fill="#060e18"/>
<rect x="309.67" y="58.50" width="17.07" height="8.60" fill="#060e18"/>
<rect x="326.44" y="58.50" width="17.07" height="8.60" fill="#220604"/>
<text x="287.90" y="65.25" font-size="7.0" text-anchor="end" fill="#231f20" font-style="italic">egl-45</text>
<line x1="289.90" y1="62.65" x2="292.30" y2="62.65" stroke="#555" stroke-width="0.5"/>
<text x="301.28" y="14.60" font-size="7.2" text-anchor="middle" fill="#231f20">D1</text>
<text x="316.25" y="14.60" font-size="7.2" text-anchor="middle" fill="#231f20">D6</text>
<text x="334.82" y="14.60" font-size="7.2" text-anchor="middle" fill="#231f20">D12/14</text>
<rect x="293.20" y="69.10" width="50.71" height="3.40" fill="url(#cbc)" stroke="#bbb" stroke-width="0.3"/>
<line x1="305.88" y1="69.10" x2="305.88" y2="72.50" stroke="#000" stroke-width="0.4"/>
<line x1="318.56" y1="69.10" x2="318.56" y2="72.50" stroke="#000" stroke-width="0.4"/>
<line x1="331.23" y1="69.10" x2="331.23" y2="72.50" stroke="#000" stroke-width="0.4"/>
<text x="295.70" y="79.40" font-size="7.9" text-anchor="end" fill="#231f20" transform="rotate(-45 295.70 79.40)">−0.4</text>
<text x="308.43" y="79.40" font-size="7.9" text-anchor="end" fill="#231f20" transform="rotate(-45 308.43 79.40)">−0.2</text>
<text x="321.15" y="79.40" font-size="7.9" text-anchor="end" fill="#231f20" transform="rotate(-45 321.15 79.40)">0</text>
<text x="333.88" y="79.40" font-size="7.9" text-anchor="end" fill="#231f20" transform="rotate(-45 333.88 79.40)">0.2</text>
<text x="346.61" y="79.40" font-size="7.9" text-anchor="end" fill="#231f20" transform="rotate(-45 346.61 79.40)">0.4</text>
<text x="237.30" y="41.90" font-size="9.0" text-anchor="middle" fill="#231f20" transform="rotate(-90 237.30 41.90)">Intestine</text>
<line x1="241.60" y1="18.00" x2="241.60" y2="65.80" stroke="#8a8a8a" stroke-width="0.6"/>
<rect x="406.20" y="17.10" width="50.31" height="49.80" fill="#180808"/>
<rect x="406.20" y="17.10" width="17.07" height="8.60" fill="#d83112"/>
<rect x="422.97" y="17.10" width="17.07" height="8.60" fill="#d83112"/>
<rect x="439.74" y="17.10" width="17.07" height="8.60" fill="#060e18"/>
<text x="401.20" y="23.85" font-size="7.0" text-anchor="end" fill="#231f20">tir-1</text>
<line x1="403.20" y1="21.25" x2="405.60" y2="21.25" stroke="#555" stroke-width="0.5"/>
<rect x="406.20" y="25.40" width="17.07" height="8.60" fill="#4c0f08"/>
<rect x="422.97" y="25.40" width="17.07" height="8.60" fill="#07101d"/>
<rect x="439.74" y="25.40" width="17.07" height="8.60" fill="#1b5a9a"/>
<text x="401.20" y="32.15" font-size="7.0" text-anchor="end" fill="#231f20">sms-1</text>
<line x1="403.20" y1="29.55" x2="405.60" y2="29.55" stroke="#555" stroke-width="0.5"/>
<rect x="406.20" y="33.70" width="17.07" height="8.60" fill="#65140a"/>
<rect x="422.97" y="33.70" width="17.07" height="8.60" fill="#7e1a0c"/>
<rect x="439.74" y="33.70" width="17.07" height="8.60" fill="#220604"/>
<text x="401.20" y="40.45" font-size="7.0" text-anchor="end" fill="#231f20">tos-1</text>
<line x1="403.20" y1="37.85" x2="405.60" y2="37.85" stroke="#555" stroke-width="0.5"/>
<rect x="406.20" y="42.00" width="17.07" height="8.60" fill="#b02610"/>
<rect x="422.97" y="42.00" width="17.07" height="8.60" fill="#881c0d"/>
<rect x="439.74" y="42.00" width="17.07" height="8.60" fill="#2a0805"/>
<text x="401.20" y="48.75" font-size="7.0" text-anchor="end" fill="#231f20">gap-2</text>
<line x1="403.20" y1="46.15" x2="405.60" y2="46.15" stroke="#555" stroke-width="0.5"/>
<rect x="406.20" y="50.30" width="17.07" height="8.60" fill="#370a06"/>
<rect x="422.97" y="50.30" width="17.07" height="8.60" fill="#060e18"/>
<rect x="439.74" y="50.30" width="17.07" height="8.60" fill="#134174"/>
<text x="401.20" y="57.05" font-size="7.0" text-anchor="end" fill="#231f20">ccg-1</text>
<line x1="403.20" y1="54.45" x2="405.60" y2="54.45" stroke="#555" stroke-width="0.5"/>
<rect x="406.20" y="58.60" width="17.07" height="8.60" fill="#0c2748"/>
<rect x="422.97" y="58.60" width="17.07" height="8.60" fill="#1a0504"/>
<rect x="439.74" y="58.60" width="17.07" height="8.60" fill="#370a06"/>
<text x="401.20" y="65.35" font-size="7.0" text-anchor="end" fill="#231f20" font-style="italic">hum-7</text>
<line x1="403.20" y1="62.75" x2="405.60" y2="62.75" stroke="#555" stroke-width="0.5"/>
<text x="414.58" y="14.70" font-size="7.2" text-anchor="middle" fill="#231f20">D1</text>
<text x="429.56" y="14.70" font-size="7.2" text-anchor="middle" fill="#231f20">D6</text>
<text x="448.12" y="14.70" font-size="7.2" text-anchor="middle" fill="#231f20">D12/14</text>
<rect x="406.50" y="69.20" width="50.71" height="3.40" fill="url(#cbc)" stroke="#bbb" stroke-width="0.3"/>
<line x1="419.18" y1="69.20" x2="419.18" y2="72.60" stroke="#000" stroke-width="0.4"/>
<line x1="431.86" y1="69.20" x2="431.86" y2="72.60" stroke="#000" stroke-width="0.4"/>
<line x1="444.53" y1="69.20" x2="444.53" y2="72.60" stroke="#000" stroke-width="0.4"/>
<text x="409.00" y="79.50" font-size="7.9" text-anchor="end" fill="#231f20" transform="rotate(-45 409.00 79.50)">−0.4</text>
<text x="421.73" y="79.50" font-size="7.9" text-anchor="end" fill="#231f20" transform="rotate(-45 421.73 79.50)">−0.2</text>
<text x="434.45" y="79.50" font-size="7.9" text-anchor="end" fill="#231f20" transform="rotate(-45 434.45 79.50)">0</text>
<text x="447.18" y="79.50" font-size="7.9" text-anchor="end" fill="#231f20" transform="rotate(-45 447.18 79.50)">0.2</text>
<text x="459.91" y="79.50" font-size="7.9" text-anchor="end" fill="#231f20" transform="rotate(-45 459.91 79.50)">0.4</text>
<text x="365.80" y="42.00" font-size="9.0" text-anchor="middle" fill="#231f20" transform="rotate(-90 365.80 42.00)">Pharynx</text>
<line x1="372.10" y1="18.10" x2="372.10" y2="65.90" stroke="#8a8a8a" stroke-width="0.6"/>
<rect x="516.10" y="17.36" width="50.31" height="49.80" fill="#180808"/>
<rect x="516.10" y="17.36" width="17.07" height="8.60" fill="#7e1a0c"/>
<rect x="532.87" y="17.36" width="17.07" height="8.60" fill="#370a06"/>
<rect x="549.64" y="17.36" width="17.07" height="8.60" fill="#0c2748"/>
<text x="511.10" y="24.11" font-size="7.0" text-anchor="end" fill="#231f20" font-style="italic">unc-51</text>
<line x1="513.10" y1="21.51" x2="515.50" y2="21.51" stroke="#555" stroke-width="0.5"/>
<rect x="516.10" y="25.66" width="17.07" height="8.60" fill="#97200e"/>
<rect x="532.87" y="25.66" width="17.07" height="8.60" fill="#4c0f08"/>
<rect x="549.64" y="25.66" width="17.07" height="8.60" fill="#0e2e55"/>
<text x="511.10" y="32.41" font-size="7.0" text-anchor="end" fill="#231f20" font-style="italic">ctn-1</text>
<line x1="513.10" y1="29.81" x2="515.50" y2="29.81" stroke="#555" stroke-width="0.5"/>
<rect x="516.10" y="33.96" width="17.07" height="8.60" fill="#881c0d"/>
<rect x="532.87" y="33.96" width="17.07" height="8.60" fill="#150504"/>
<rect x="549.64" y="33.96" width="17.07" height="8.60" fill="#0f325b"/>
<text x="511.10" y="40.71" font-size="7.0" text-anchor="end" fill="#231f20" font-style="italic">unc-79</text>
<line x1="513.10" y1="38.11" x2="515.50" y2="38.11" stroke="#555" stroke-width="0.5"/>
<rect x="516.10" y="42.26" width="17.07" height="8.60" fill="#4c0f08"/>
<rect x="532.87" y="42.26" width="17.07" height="8.60" fill="#2a0805"/>
<rect x="549.64" y="42.26" width="17.07" height="8.60" fill="#0b203a"/>
<text x="511.10" y="49.01" font-size="7.0" text-anchor="end" fill="#231f20" font-style="italic">egl-30</text>
<line x1="513.10" y1="46.41" x2="515.50" y2="46.41" stroke="#555" stroke-width="0.5"/>
<rect x="516.10" y="50.56" width="17.07" height="8.60" fill="#150504"/>
<rect x="532.87" y="50.56" width="17.07" height="8.60" fill="#060c14"/>
<rect x="549.64" y="50.56" width="17.07" height="8.60" fill="#4c0f08"/>
<text x="511.10" y="57.31" font-size="7.0" text-anchor="end" fill="#231f20" font-style="italic">vgln-1</text>
<line x1="513.10" y1="54.71" x2="515.50" y2="54.71" stroke="#555" stroke-width="0.5"/>
<rect x="516.10" y="58.86" width="17.07" height="8.60" fill="#0a1a2e"/>
<rect x="532.87" y="58.86" width="17.07" height="8.60" fill="#060c14"/>
<rect x="549.64" y="58.86" width="17.07" height="8.60" fill="#1d0604"/>
<text x="511.10" y="65.61" font-size="7.0" text-anchor="end" fill="#231f20" font-style="italic">imb-3</text>
<line x1="513.10" y1="63.01" x2="515.50" y2="63.01" stroke="#555" stroke-width="0.5"/>
<text x="524.49" y="14.96" font-size="7.2" text-anchor="middle" fill="#231f20">D1</text>
<text x="539.46" y="14.96" font-size="7.2" text-anchor="middle" fill="#231f20">D6</text>
<text x="558.02" y="14.96" font-size="7.2" text-anchor="middle" fill="#231f20">D12/14</text>
<rect x="516.40" y="69.46" width="50.71" height="3.40" fill="url(#cbc)" stroke="#bbb" stroke-width="0.3"/>
<line x1="529.08" y1="69.46" x2="529.08" y2="72.86" stroke="#000" stroke-width="0.4"/>
<line x1="541.75" y1="69.46" x2="541.75" y2="72.86" stroke="#000" stroke-width="0.4"/>
<line x1="554.43" y1="69.46" x2="554.43" y2="72.86" stroke="#000" stroke-width="0.4"/>
<text x="518.90" y="79.76" font-size="7.9" text-anchor="end" fill="#231f20" transform="rotate(-45 518.90 79.76)">−0.4</text>
<text x="531.63" y="79.76" font-size="7.9" text-anchor="end" fill="#231f20" transform="rotate(-45 531.63 79.76)">−0.2</text>
<text x="544.36" y="79.76" font-size="7.9" text-anchor="end" fill="#231f20" transform="rotate(-45 544.36 79.76)">0</text>
<text x="557.08" y="79.76" font-size="7.9" text-anchor="end" fill="#231f20" transform="rotate(-45 557.08 79.76)">0.2</text>
<text x="569.81" y="79.76" font-size="7.9" text-anchor="end" fill="#231f20" transform="rotate(-45 569.81 79.76)">0.4</text>
<text x="478.50" y="42.26" font-size="9.0" text-anchor="middle" fill="#231f20" transform="rotate(-90 478.50 42.26)">Neuron</text>
<line x1="483.40" y1="18.36" x2="483.40" y2="66.16" stroke="#8a8a8a" stroke-width="0.6"/>
<rect x="628.70" y="19.60" width="50.31" height="49.80" fill="#180808"/>
<rect x="628.70" y="19.60" width="17.07" height="8.60" fill="#4c0f08"/>
<rect x="645.47" y="19.60" width="17.07" height="8.60" fill="#1d0604"/>
<rect x="662.24" y="19.60" width="17.07" height="8.60" fill="#081423"/>
<text x="623.70" y="26.35" font-size="7.0" text-anchor="end" fill="#231f20" font-style="italic">pck-2</text>
<line x1="625.70" y1="23.75" x2="628.10" y2="23.75" stroke="#555" stroke-width="0.5"/>
<rect x="628.70" y="27.90" width="17.07" height="8.60" fill="#060e18"/>
<rect x="645.47" y="27.90" width="17.07" height="8.60" fill="#091628"/>
<rect x="662.24" y="27.90" width="17.07" height="8.60" fill="#103864"/>
<text x="623.70" y="34.65" font-size="7.0" text-anchor="end" fill="#231f20" font-style="italic">daf-2</text>
<line x1="625.70" y1="32.05" x2="628.10" y2="32.05" stroke="#555" stroke-width="0.5"/>
<rect x="628.70" y="36.20" width="17.07" height="8.60" fill="#d83112"/>
<rect x="645.47" y="36.20" width="17.07" height="8.60" fill="#b02610"/>
<rect x="662.24" y="36.20" width="17.07" height="8.60" fill="#2a0805"/>
<text x="623.70" y="42.95" font-size="7.0" text-anchor="end" fill="#231f20" font-style="italic">miz-1</text>
<line x1="625.70" y1="40.35" x2="628.10" y2="40.35" stroke="#555" stroke-width="0.5"/>
<rect x="628.70" y="44.50" width="17.07" height="8.60" fill="#4c0f08"/>
<rect x="645.47" y="44.50" width="17.07" height="8.60" fill="#2a0805"/>
<rect x="662.24" y="44.50" width="17.07" height="8.60" fill="#0a1a2e"/>
<text x="623.70" y="51.25" font-size="7.0" text-anchor="end" fill="#231f20" font-style="italic">nurf-1</text>
<line x1="625.70" y1="48.65" x2="628.10" y2="48.65" stroke="#555" stroke-width="0.5"/>
<rect x="628.70" y="52.80" width="17.07" height="8.60" fill="#07101d"/>
<rect x="645.47" y="52.80" width="17.07" height="8.60" fill="#05080e"/>
<rect x="662.24" y="52.80" width="17.07" height="8.60" fill="#4c0f08"/>
<text x="623.70" y="59.55" font-size="7.0" text-anchor="end" fill="#231f20" font-style="italic">act-4</text>
<line x1="625.70" y1="56.95" x2="628.10" y2="56.95" stroke="#555" stroke-width="0.5"/>
<rect x="628.70" y="61.10" width="17.07" height="8.60" fill="#370a06"/>
<rect x="645.47" y="61.10" width="17.07" height="8.60" fill="#4c0f08"/>
<rect x="662.24" y="61.10" width="17.07" height="8.60" fill="#b02610"/>
<text x="623.70" y="67.85" font-size="7.0" text-anchor="end" fill="#231f20" font-style="italic">msa-1</text>
<line x1="625.70" y1="65.25" x2="628.10" y2="65.25" stroke="#555" stroke-width="0.5"/>
<text x="637.09" y="17.20" font-size="7.2" text-anchor="middle" fill="#231f20">D1</text>
<text x="652.06" y="17.20" font-size="7.2" text-anchor="middle" fill="#231f20">D6</text>
<text x="670.62" y="17.20" font-size="7.2" text-anchor="middle" fill="#231f20">D12/14</text>
<rect x="629.00" y="71.70" width="50.71" height="3.40" fill="url(#cbc)" stroke="#bbb" stroke-width="0.3"/>
<line x1="641.68" y1="71.70" x2="641.68" y2="75.10" stroke="#000" stroke-width="0.4"/>
<line x1="654.36" y1="71.70" x2="654.36" y2="75.10" stroke="#000" stroke-width="0.4"/>
<line x1="667.03" y1="71.70" x2="667.03" y2="75.10" stroke="#000" stroke-width="0.4"/>
<text x="631.50" y="82.00" font-size="7.9" text-anchor="end" fill="#231f20" transform="rotate(-45 631.50 82.00)">−0.4</text>
<text x="644.23" y="82.00" font-size="7.9" text-anchor="end" fill="#231f20" transform="rotate(-45 644.23 82.00)">−0.2</text>
<text x="656.96" y="82.00" font-size="7.9" text-anchor="end" fill="#231f20" transform="rotate(-45 656.96 82.00)">0</text>
<text x="669.68" y="82.00" font-size="7.9" text-anchor="end" fill="#231f20" transform="rotate(-45 669.68 82.00)">0.2</text>
<text x="682.41" y="82.00" font-size="7.9" text-anchor="end" fill="#231f20" transform="rotate(-45 682.41 82.00)">0.4</text>
<text x="590.00" y="44.50" font-size="9.0" text-anchor="middle" fill="#231f20" transform="rotate(-90 590.00 44.50)">Hypodermis</text>
<line x1="596.50" y1="20.60" x2="596.50" y2="68.40" stroke="#8a8a8a" stroke-width="0.6"/>
<rect x="292.70" y="104.90" width="50.31" height="49.80" fill="#180808"/>
<rect x="292.70" y="104.90" width="17.07" height="8.60" fill="#370a06"/>
<rect x="309.47" y="104.90" width="17.07" height="8.60" fill="#120504"/>
<rect x="326.24" y="104.90" width="17.07" height="8.60" fill="#134174"/>
<text x="287.70" y="111.65" font-size="7.0" text-anchor="end" fill="#231f20" font-style="italic">scm-1</text>
<line x1="289.70" y1="109.05" x2="292.10" y2="109.05" stroke="#555" stroke-width="0.5"/>
<rect x="292.70" y="113.20" width="17.07" height="8.60" fill="#881c0d"/>
<rect x="309.47" y="113.20" width="17.07" height="8.60" fill="#2a0805"/>
<rect x="326.24" y="113.20" width="17.07" height="8.60" fill="#0a1a2e"/>
<text x="287.70" y="119.95" font-size="7.0" text-anchor="end" fill="#231f20" font-style="italic">pygl-1</text>
<line x1="289.70" y1="117.35" x2="292.10" y2="117.35" stroke="#555" stroke-width="0.5"/>
<rect x="292.70" y="121.50" width="17.07" height="8.60" fill="#4c0f08"/>
<rect x="309.47" y="121.50" width="17.07" height="8.60" fill="#4c0f08"/>
<rect x="326.24" y="121.50" width="17.07" height="8.60" fill="#060e18"/>
<text x="287.70" y="128.25" font-size="7.0" text-anchor="end" fill="#231f20" font-style="italic">puf-9</text>
<line x1="289.70" y1="125.65" x2="292.10" y2="125.65" stroke="#555" stroke-width="0.5"/>
<rect x="292.70" y="129.80" width="17.07" height="8.60" fill="#0d2b50"/>
<rect x="309.47" y="129.80" width="17.07" height="8.60" fill="#060d16"/>
<rect x="326.24" y="129.80" width="17.07" height="8.60" fill="#370a06"/>
<text x="287.70" y="136.55" font-size="7.0" text-anchor="end" fill="#231f20" font-style="italic">plin-1</text>
<line x1="289.70" y1="133.95" x2="292.10" y2="133.95" stroke="#555" stroke-width="0.5"/>
<rect x="292.70" y="138.10" width="17.07" height="8.60" fill="#2a0805"/>
<rect x="309.47" y="138.10" width="17.07" height="8.60" fill="#370a06"/>
<rect x="326.24" y="138.10" width="17.07" height="8.60" fill="#4c0f08"/>
<text x="287.70" y="144.85" font-size="7.0" text-anchor="end" fill="#231f20" font-style="italic">hmr-1</text>
<line x1="289.70" y1="142.25" x2="292.10" y2="142.25" stroke="#555" stroke-width="0.5"/>
<rect x="292.70" y="146.40" width="17.07" height="8.60" fill="#060d16"/>
<rect x="309.47" y="146.40" width="17.07" height="8.60" fill="#060d16"/>
<rect x="326.24" y="146.40" width="17.07" height="8.60" fill="#7e1a0c"/>
<text x="287.70" y="153.15" font-size="7.0" text-anchor="end" fill="#231f20" font-style="italic">act-4</text>
<line x1="289.70" y1="150.55" x2="292.10" y2="150.55" stroke="#555" stroke-width="0.5"/>
<text x="301.08" y="102.50" font-size="7.2" text-anchor="middle" fill="#231f20">D1</text>
<text x="316.06" y="102.50" font-size="7.2" text-anchor="middle" fill="#231f20">D6</text>
<text x="334.62" y="102.50" font-size="7.2" text-anchor="middle" fill="#231f20">D12/14</text>
<rect x="293.00" y="157.00" width="50.71" height="3.40" fill="url(#cbc)" stroke="#bbb" stroke-width="0.3"/>
<line x1="305.68" y1="157.00" x2="305.68" y2="160.40" stroke="#000" stroke-width="0.4"/>
<line x1="318.36" y1="157.00" x2="318.36" y2="160.40" stroke="#000" stroke-width="0.4"/>
<line x1="331.03" y1="157.00" x2="331.03" y2="160.40" stroke="#000" stroke-width="0.4"/>
<text x="295.50" y="167.30" font-size="7.9" text-anchor="end" fill="#231f20" transform="rotate(-45 295.50 167.30)">−0.4</text>
<text x="308.23" y="167.30" font-size="7.9" text-anchor="end" fill="#231f20" transform="rotate(-45 308.23 167.30)">−0.2</text>
<text x="320.95" y="167.30" font-size="7.9" text-anchor="end" fill="#231f20" transform="rotate(-45 320.95 167.30)">0</text>
<text x="333.68" y="167.30" font-size="7.9" text-anchor="end" fill="#231f20" transform="rotate(-45 333.68 167.30)">0.2</text>
<text x="346.41" y="167.30" font-size="7.9" text-anchor="end" fill="#231f20" transform="rotate(-45 346.41 167.30)">0.4</text>
<text x="237.40" y="129.80" font-size="9.0" text-anchor="middle" fill="#231f20" transform="rotate(-90 237.40 129.80)">Muscle</text>
<line x1="241.60" y1="105.90" x2="241.60" y2="153.70" stroke="#8a8a8a" stroke-width="0.6"/>
<rect x="406.10" y="104.00" width="50.31" height="49.80" fill="#180808"/>
<rect x="406.10" y="104.00" width="17.07" height="8.60" fill="#4c0f08"/>
<rect x="422.87" y="104.00" width="17.07" height="8.60" fill="#65140a"/>
<rect x="439.64" y="104.00" width="17.07" height="8.60" fill="#060e18"/>
<text x="401.10" y="110.75" font-size="7.0" text-anchor="end" fill="#231f20" font-style="italic">pezo-1</text>
<line x1="403.10" y1="108.15" x2="405.50" y2="108.15" stroke="#555" stroke-width="0.5"/>
<rect x="406.10" y="112.30" width="17.07" height="8.60" fill="#4c0f08"/>
<rect x="422.87" y="112.30" width="17.07" height="8.60" fill="#4c0f08"/>
<rect x="439.64" y="112.30" width="17.07" height="8.60" fill="#0c2748"/>
<text x="401.10" y="119.05" font-size="7.0" text-anchor="end" fill="#231f20" font-style="italic">edc-4</text>
<line x1="403.10" y1="116.45" x2="405.50" y2="116.45" stroke="#555" stroke-width="0.5"/>
<rect x="406.10" y="120.60" width="17.07" height="8.60" fill="#6f170b"/>
<rect x="422.87" y="120.60" width="17.07" height="8.60" fill="#881c0d"/>
<rect x="439.64" y="120.60" width="17.07" height="8.60" fill="#0e2e55"/>
<text x="401.10" y="127.35" font-size="7.0" text-anchor="end" fill="#231f20" font-style="italic">magu-4</text>
<line x1="403.10" y1="124.75" x2="405.50" y2="124.75" stroke="#555" stroke-width="0.5"/>
<rect x="406.10" y="128.90" width="17.07" height="8.60" fill="#103864"/>
<rect x="422.87" y="128.90" width="17.07" height="8.60" fill="#091628"/>
<rect x="439.64" y="128.90" width="17.07" height="8.60" fill="#370a06"/>
<text x="401.10" y="135.65" font-size="7.0" text-anchor="end" fill="#231f20" font-style="italic">ccg-1</text>
<line x1="403.10" y1="133.05" x2="405.50" y2="133.05" stroke="#555" stroke-width="0.5"/>
<rect x="406.10" y="137.20" width="17.07" height="8.60" fill="#103864"/>
<rect x="422.87" y="137.20" width="17.07" height="8.60" fill="#103864"/>
<rect x="439.64" y="137.20" width="17.07" height="8.60" fill="#7e1a0c"/>
<text x="401.10" y="143.95" font-size="7.0" text-anchor="end" fill="#231f20" font-style="italic">unc-43</text>
<line x1="403.10" y1="141.35" x2="405.50" y2="141.35" stroke="#555" stroke-width="0.5"/>
<rect x="406.10" y="145.50" width="17.07" height="8.60" fill="#060d16"/>
<rect x="422.87" y="145.50" width="17.07" height="8.60" fill="#2a0805"/>
<rect x="439.64" y="145.50" width="17.07" height="8.60" fill="#b02610"/>
<text x="401.10" y="152.25" font-size="7.0" text-anchor="end" fill="#231f20" font-style="italic">pqn-15</text>
<line x1="403.10" y1="149.65" x2="405.50" y2="149.65" stroke="#555" stroke-width="0.5"/>
<text x="414.49" y="101.60" font-size="7.2" text-anchor="middle" fill="#231f20">D1</text>
<text x="429.45" y="101.60" font-size="7.2" text-anchor="middle" fill="#231f20">D6</text>
<text x="448.03" y="101.60" font-size="7.2" text-anchor="middle" fill="#231f20">D12/14</text>
<rect x="406.40" y="156.10" width="50.71" height="3.40" fill="url(#cbc)" stroke="#bbb" stroke-width="0.3"/>
<line x1="419.08" y1="156.10" x2="419.08" y2="159.50" stroke="#000" stroke-width="0.4"/>
<line x1="431.76" y1="156.10" x2="431.76" y2="159.50" stroke="#000" stroke-width="0.4"/>
<line x1="444.43" y1="156.10" x2="444.43" y2="159.50" stroke="#000" stroke-width="0.4"/>
<text x="408.90" y="166.40" font-size="7.9" text-anchor="end" fill="#231f20" transform="rotate(-45 408.90 166.40)">−0.4</text>
<text x="421.63" y="166.40" font-size="7.9" text-anchor="end" fill="#231f20" transform="rotate(-45 421.63 166.40)">−0.2</text>
<text x="434.36" y="166.40" font-size="7.9" text-anchor="end" fill="#231f20" transform="rotate(-45 434.36 166.40)">0</text>
<text x="447.08" y="166.40" font-size="7.9" text-anchor="end" fill="#231f20" transform="rotate(-45 447.08 166.40)">0.2</text>
<text x="459.81" y="166.40" font-size="7.9" text-anchor="end" fill="#231f20" transform="rotate(-45 459.81 166.40)">0.4</text>
<text x="365.60" y="128.90" font-size="9.0" text-anchor="middle" fill="#231f20" transform="rotate(-90 365.60 128.90)">Spermtheca</text>
<line x1="372.10" y1="105.00" x2="372.10" y2="152.80" stroke="#8a8a8a" stroke-width="0.6"/>
<rect x="516.00" y="105.20" width="50.31" height="49.80" fill="#180808"/>
<rect x="516.00" y="105.20" width="17.07" height="8.60" fill="#d83112"/>
<rect x="532.77" y="105.20" width="17.07" height="8.60" fill="#370a06"/>
<rect x="549.54" y="105.20" width="17.07" height="8.60" fill="#060d16"/>
<text x="511.00" y="111.95" font-size="7.0" text-anchor="end" fill="#231f20" font-style="italic">frm-10</text>
<line x1="513.00" y1="109.35" x2="515.40" y2="109.35" stroke="#555" stroke-width="0.5"/>
<rect x="516.00" y="113.50" width="17.07" height="8.60" fill="#1b5a9a"/>
<rect x="532.77" y="113.50" width="17.07" height="8.60" fill="#a6240f"/>
<rect x="549.54" y="113.50" width="17.07" height="8.60" fill="#060d16"/>
<text x="511.00" y="120.25" font-size="7.0" text-anchor="end" fill="#231f20" font-style="italic">pek-1</text>
<line x1="513.00" y1="117.65" x2="515.40" y2="117.65" stroke="#555" stroke-width="0.5"/>
<rect x="516.00" y="121.80" width="17.07" height="8.60" fill="#7e1a0c"/>
<rect x="532.77" y="121.80" width="17.07" height="8.60" fill="#2a0805"/>
<rect x="549.54" y="121.80" width="17.07" height="8.60" fill="#0c2748"/>
<text x="511.00" y="128.55" font-size="7.0" text-anchor="end" fill="#231f20" font-style="italic">clp-7</text>
<line x1="513.00" y1="125.95" x2="515.40" y2="125.95" stroke="#555" stroke-width="0.5"/>
<rect x="516.00" y="130.10" width="17.07" height="8.60" fill="#060d16"/>
<rect x="532.77" y="130.10" width="17.07" height="8.60" fill="#060d16"/>
<rect x="549.54" y="130.10" width="17.07" height="8.60" fill="#97200e"/>
<text x="511.00" y="136.85" font-size="7.0" text-anchor="end" fill="#231f20" font-style="italic">mbl-1</text>
<line x1="513.00" y1="134.25" x2="515.40" y2="134.25" stroke="#555" stroke-width="0.5"/>
<rect x="516.00" y="138.40" width="17.07" height="8.60" fill="#05080e"/>
<rect x="532.77" y="138.40" width="17.07" height="8.60" fill="#2a0805"/>
<rect x="549.54" y="138.40" width="17.07" height="8.60" fill="#6f170b"/>
<text x="511.00" y="145.15" font-size="7.0" text-anchor="end" fill="#231f20" font-style="italic">rlbp-1</text>
<line x1="513.00" y1="142.55" x2="515.40" y2="142.55" stroke="#555" stroke-width="0.5"/>
<rect x="516.00" y="146.70" width="17.07" height="8.60" fill="#07101d"/>
<rect x="532.77" y="146.70" width="17.07" height="8.60" fill="#07101d"/>
<rect x="549.54" y="146.70" width="17.07" height="8.60" fill="#b02610"/>
<text x="511.00" y="153.45" font-size="7.0" text-anchor="end" fill="#231f20" font-style="italic">mbl-1</text>
<line x1="513.00" y1="150.85" x2="515.40" y2="150.85" stroke="#555" stroke-width="0.5"/>
<text x="524.38" y="102.80" font-size="7.2" text-anchor="middle" fill="#231f20">D1</text>
<text x="539.36" y="102.80" font-size="7.2" text-anchor="middle" fill="#231f20">D6</text>
<text x="557.92" y="102.80" font-size="7.2" text-anchor="middle" fill="#231f20">D12/14</text>
<rect x="516.30" y="157.30" width="50.71" height="3.40" fill="url(#cbc)" stroke="#bbb" stroke-width="0.3"/>
<line x1="528.98" y1="157.30" x2="528.98" y2="160.70" stroke="#000" stroke-width="0.4"/>
<line x1="541.65" y1="157.30" x2="541.65" y2="160.70" stroke="#000" stroke-width="0.4"/>
<line x1="554.33" y1="157.30" x2="554.33" y2="160.70" stroke="#000" stroke-width="0.4"/>
<text x="518.80" y="167.60" font-size="7.9" text-anchor="end" fill="#231f20" transform="rotate(-45 518.80 167.60)">−0.4</text>
<text x="531.53" y="167.60" font-size="7.9" text-anchor="end" fill="#231f20" transform="rotate(-45 531.53 167.60)">−0.2</text>
<text x="544.25" y="167.60" font-size="7.9" text-anchor="end" fill="#231f20" transform="rotate(-45 544.25 167.60)">0</text>
<text x="556.98" y="167.60" font-size="7.9" text-anchor="end" fill="#231f20" transform="rotate(-45 556.98 167.60)">0.2</text>
<text x="569.71" y="167.60" font-size="7.9" text-anchor="end" fill="#231f20" transform="rotate(-45 569.71 167.60)">0.4</text>
<text x="478.50" y="130.10" font-size="9.0" text-anchor="middle" fill="#231f20" transform="rotate(-90 478.50 130.10)" textLength="52" lengthAdjust="spacingAndGlyphs">Vulva/uterus</text>
<line x1="483.40" y1="106.20" x2="483.40" y2="154.00" stroke="#8a8a8a" stroke-width="0.6"/>
<rect x="628.30" y="105.20" width="50.31" height="49.80" fill="#180808"/>
<rect x="628.30" y="105.20" width="17.07" height="8.60" fill="#4c0f08"/>
<rect x="645.07" y="105.20" width="17.07" height="8.60" fill="#2a0805"/>
<rect x="661.84" y="105.20" width="17.07" height="8.60" fill="#0c2748"/>
<text x="623.30" y="111.95" font-size="7.0" text-anchor="end" fill="#231f20" font-style="italic">daf-2</text>
<line x1="625.30" y1="109.35" x2="627.70" y2="109.35" stroke="#555" stroke-width="0.5"/>
<rect x="628.30" y="113.50" width="17.07" height="8.60" fill="#4c0f08"/>
<rect x="645.07" y="113.50" width="17.07" height="8.60" fill="#370a06"/>
<rect x="661.84" y="113.50" width="17.07" height="8.60" fill="#0e2e55"/>
<text x="623.30" y="120.25" font-size="7.0" text-anchor="end" fill="#231f20" font-style="italic">crh-1</text>
<line x1="625.30" y1="117.65" x2="627.70" y2="117.65" stroke="#555" stroke-width="0.5"/>
<rect x="628.30" y="121.80" width="17.07" height="8.60" fill="#4c0f08"/>
<rect x="645.07" y="121.80" width="17.07" height="8.60" fill="#2f0905"/>
<rect x="661.84" y="121.80" width="17.07" height="8.60" fill="#0c2748"/>
<text x="623.30" y="128.55" font-size="7.0" text-anchor="end" fill="#231f20" font-style="italic">daf-16</text>
<line x1="625.30" y1="125.95" x2="627.70" y2="125.95" stroke="#555" stroke-width="0.5"/>
<rect x="628.30" y="130.10" width="17.07" height="8.60" fill="#370a06"/>
<rect x="645.07" y="130.10" width="17.07" height="8.60" fill="#220604"/>
<rect x="661.84" y="130.10" width="17.07" height="8.60" fill="#134174"/>
<text x="623.30" y="136.85" font-size="7.0" text-anchor="end" fill="#231f20" font-style="italic">ccr-4</text>
<line x1="625.30" y1="134.25" x2="627.70" y2="134.25" stroke="#555" stroke-width="0.5"/>
<rect x="628.30" y="138.40" width="17.07" height="8.60" fill="#0a1a2e"/>
<rect x="645.07" y="138.40" width="17.07" height="8.60" fill="#091628"/>
<rect x="661.84" y="138.40" width="17.07" height="8.60" fill="#060d16"/>
<text x="623.30" y="145.15" font-size="7.0" text-anchor="end" fill="#231f20" font-style="italic">vha-11</text>
<line x1="625.30" y1="142.55" x2="627.70" y2="142.55" stroke="#555" stroke-width="0.5"/>
<rect x="628.30" y="146.70" width="17.07" height="8.60" fill="#a6240f"/>
<rect x="645.07" y="146.70" width="17.07" height="8.60" fill="#a6240f"/>
<rect x="661.84" y="146.70" width="17.07" height="8.60" fill="#ff3c14"/>
<text x="623.30" y="153.45" font-size="7.0" text-anchor="end" fill="#231f20" font-style="italic">ddl-3</text>
<line x1="625.30" y1="150.85" x2="627.70" y2="150.85" stroke="#555" stroke-width="0.5"/>
<text x="636.68" y="102.80" font-size="7.2" text-anchor="middle" fill="#231f20">D1</text>
<text x="651.65" y="102.80" font-size="7.2" text-anchor="middle" fill="#231f20">D6</text>
<text x="670.22" y="102.80" font-size="7.2" text-anchor="middle" fill="#231f20">D12/14</text>
<rect x="628.60" y="157.30" width="50.71" height="3.40" fill="url(#cbc)" stroke="#bbb" stroke-width="0.3"/>
<line x1="641.28" y1="157.30" x2="641.28" y2="160.70" stroke="#000" stroke-width="0.4"/>
<line x1="653.95" y1="157.30" x2="653.95" y2="160.70" stroke="#000" stroke-width="0.4"/>
<line x1="666.63" y1="157.30" x2="666.63" y2="160.70" stroke="#000" stroke-width="0.4"/>
<text x="631.10" y="167.60" font-size="7.9" text-anchor="end" fill="#231f20" transform="rotate(-45 631.10 167.60)">−0.4</text>
<text x="643.83" y="167.60" font-size="7.9" text-anchor="end" fill="#231f20" transform="rotate(-45 643.83 167.60)">−0.2</text>
<text x="656.55" y="167.60" font-size="7.9" text-anchor="end" fill="#231f20" transform="rotate(-45 656.55 167.60)">0</text>
<text x="669.28" y="167.60" font-size="7.9" text-anchor="end" fill="#231f20" transform="rotate(-45 669.28 167.60)">0.2</text>
<text x="682.01" y="167.60" font-size="7.9" text-anchor="end" fill="#231f20" transform="rotate(-45 682.01 167.60)">0.4</text>
<text x="590.30" y="130.10" font-size="9.0" text-anchor="middle" fill="#231f20" transform="rotate(-90 590.30 130.10)">Germline</text>
<line x1="596.50" y1="106.20" x2="596.50" y2="154.00" stroke="#8a8a8a" stroke-width="0.6"/>
<text x="225.00" y="197.00" font-size="13.2" text-anchor="start" fill="#000" font-weight="bold">d</text>
<line x1="272.60" y1="295.00" x2="272.60" y2="221.00" stroke="#333" stroke-width="0.6"/>
<line x1="269.30" y1="295.00" x2="272.60" y2="295.00" stroke="#333" stroke-width="0.6"/>
<text x="265.90" y="297.60" font-size="7.4" text-anchor="end" fill="#231f20">0</text>
<line x1="269.30" y1="280.30" x2="272.60" y2="280.30" stroke="#333" stroke-width="0.6"/>
<text x="265.90" y="282.90" font-size="7.4" text-anchor="end" fill="#231f20">20</text>
<line x1="269.30" y1="265.60" x2="272.60" y2="265.60" stroke="#333" stroke-width="0.6"/>
<text x="265.90" y="268.20" font-size="7.4" text-anchor="end" fill="#231f20">40</text>
<line x1="269.30" y1="250.90" x2="272.60" y2="250.90" stroke="#333" stroke-width="0.6"/>
<text x="265.90" y="253.50" font-size="7.4" text-anchor="end" fill="#231f20">60</text>
<line x1="269.30" y1="236.20" x2="272.60" y2="236.20" stroke="#333" stroke-width="0.6"/>
<text x="265.90" y="238.80" font-size="7.4" text-anchor="end" fill="#231f20">80</text>
<line x1="269.30" y1="221.50" x2="272.60" y2="221.50" stroke="#333" stroke-width="0.6"/>
<text x="265.90" y="224.10" font-size="7.4" text-anchor="end" fill="#231f20">100</text>
<text x="236.40" y="257.40" font-size="9.0" text-anchor="middle" fill="#231f20" transform="rotate(-90 236.40 257.40)">Total age-related</text>
<text x="247.40" y="257.40" font-size="9.0" text-anchor="middle" fill="#231f20" transform="rotate(-90 247.40 257.40)" textLength="35.5" lengthAdjust="spacing">APAs (%)</text>
<line x1="272.60" y1="295.00" x2="534.60" y2="295.00" stroke="#333" stroke-width="0.6"/>
<rect x="274.30" y="231.06" width="6.20" height="63.95" fill="#0f5c98" stroke="#0a0a0a" stroke-width="0.7"/>
<line x1="277.40" y1="295.00" x2="277.40" y2="297.50" stroke="#333" stroke-width="0.5"/>
<text x="279.70" y="301.80" font-size="7.4" text-anchor="end" fill="#231f20" transform="rotate(-90 279.70 301.80)">Pharynx</text>
<rect x="282.77" y="226.20" width="6.20" height="68.80" fill="#0f5c98" stroke="#0a0a0a" stroke-width="0.7"/>
<line x1="285.87" y1="295.00" x2="285.87" y2="297.50" stroke="#333" stroke-width="0.5"/>
<text x="288.17" y="301.80" font-size="7.4" text-anchor="end" fill="#231f20" transform="rotate(-90 288.17 301.80)">Neuron</text>
<rect x="291.24" y="235.02" width="6.20" height="59.98" fill="#0f5c98" stroke="#0a0a0a" stroke-width="0.7"/>
<line x1="294.34" y1="295.00" x2="294.34" y2="297.50" stroke="#333" stroke-width="0.5"/>
<text x="296.64" y="301.80" font-size="7.4" text-anchor="end" fill="#231f20" transform="rotate(-90 296.64 301.80)">Hypodermis</text>
<rect x="299.71" y="229.07" width="6.20" height="65.93" fill="#0f5c98" stroke="#0a0a0a" stroke-width="0.7"/>
<line x1="302.81" y1="295.00" x2="302.81" y2="297.50" stroke="#333" stroke-width="0.5"/>
<text x="305.11" y="301.80" font-size="7.4" text-anchor="end" fill="#231f20" transform="rotate(-90 305.11 301.80)">Intestine</text>
<rect x="308.18" y="236.49" width="6.20" height="58.51" fill="#0f5c98" stroke="#0a0a0a" stroke-width="0.7"/>
<line x1="311.28" y1="295.00" x2="311.28" y2="297.50" stroke="#333" stroke-width="0.5"/>
<text x="313.58" y="301.80" font-size="7.4" text-anchor="end" fill="#231f20" transform="rotate(-90 313.58 301.80)">Vulva/uterus</text>
<rect x="316.65" y="238.63" width="6.20" height="56.37" fill="#0f5c98" stroke="#0a0a0a" stroke-width="0.7"/>
<line x1="319.75" y1="295.00" x2="319.75" y2="297.50" stroke="#333" stroke-width="0.5"/>
<text x="322.05" y="301.80" font-size="7.4" text-anchor="end" fill="#231f20" transform="rotate(-90 322.05 301.80)">Muscle</text>
<rect x="325.12" y="226.13" width="6.20" height="68.87" fill="#0f5c98" stroke="#0a0a0a" stroke-width="0.7"/>
<line x1="328.22" y1="295.00" x2="328.22" y2="297.50" stroke="#333" stroke-width="0.5"/>
<text x="330.52" y="301.80" font-size="7.4" text-anchor="end" fill="#231f20" transform="rotate(-90 330.52 301.80)">Germline</text>
<text x="302.81" y="216.90" font-size="8.6" text-anchor="middle" fill="#231f20" font-style="italic">WT</text>
<rect x="341.75" y="273.46" width="6.20" height="21.54" fill="#0f5c98" stroke="#0a0a0a" stroke-width="0.7"/>
<line x1="344.85" y1="295.00" x2="344.85" y2="297.50" stroke="#333" stroke-width="0.5"/>
<text x="347.15" y="301.80" font-size="7.4" text-anchor="end" fill="#231f20" transform="rotate(-90 347.15 301.80)">Pharynx</text>
<rect x="350.22" y="282.36" width="6.20" height="12.64" fill="#0f5c98" stroke="#0a0a0a" stroke-width="0.7"/>
<line x1="353.32" y1="295.00" x2="353.32" y2="297.50" stroke="#333" stroke-width="0.5"/>
<text x="355.62" y="301.80" font-size="7.4" text-anchor="end" fill="#231f20" transform="rotate(-90 355.62 301.80)">Neuron</text>
<rect x="358.69" y="276.26" width="6.20" height="18.74" fill="#0f5c98" stroke="#0a0a0a" stroke-width="0.7"/>
<line x1="361.79" y1="295.00" x2="361.79" y2="297.50" stroke="#333" stroke-width="0.5"/>
<text x="364.09" y="301.80" font-size="7.4" text-anchor="end" fill="#231f20" transform="rotate(-90 364.09 301.80)">Hypodermis</text>
<rect x="367.16" y="281.26" width="6.20" height="13.74" fill="#0f5c98" stroke="#0a0a0a" stroke-width="0.7"/>
<line x1="370.26" y1="295.00" x2="370.26" y2="297.50" stroke="#333" stroke-width="0.5"/>
<text x="372.56" y="301.80" font-size="7.4" text-anchor="end" fill="#231f20" transform="rotate(-90 372.56 301.80)">Intestine</text>
<rect x="375.63" y="286.03" width="6.20" height="8.97" fill="#0f5c98" stroke="#0a0a0a" stroke-width="0.7"/>
<line x1="378.73" y1="295.00" x2="378.73" y2="297.50" stroke="#333" stroke-width="0.5"/>
<text x="381.03" y="301.80" font-size="7.4" text-anchor="end" fill="#231f20" transform="rotate(-90 381.03 301.80)">Vulva/uterus</text>
<rect x="384.10" y="276.26" width="6.20" height="18.74" fill="#0f5c98" stroke="#0a0a0a" stroke-width="0.7"/>
<line x1="387.20" y1="295.00" x2="387.20" y2="297.50" stroke="#333" stroke-width="0.5"/>
<text x="389.50" y="301.80" font-size="7.4" text-anchor="end" fill="#231f20" transform="rotate(-90 389.50 301.80)">Muscle</text>
<rect x="392.57" y="274.27" width="6.20" height="20.73" fill="#0f5c98" stroke="#0a0a0a" stroke-width="0.7"/>
<line x1="395.67" y1="295.00" x2="395.67" y2="297.50" stroke="#333" stroke-width="0.5"/>
<text x="397.97" y="301.80" font-size="7.4" text-anchor="end" fill="#231f20" transform="rotate(-90 397.97 301.80)">Germline</text>
<text x="370.26" y="216.90" font-size="8.6" text-anchor="middle" fill="#231f20" font-style="italic">daf-2 (lf)</text>
<rect x="409.20" y="289.34" width="6.20" height="5.66" fill="#0f5c98" stroke="#0a0a0a" stroke-width="0.7"/>
<line x1="412.30" y1="295.00" x2="412.30" y2="297.50" stroke="#333" stroke-width="0.5"/>
<text x="414.60" y="301.80" font-size="7.4" text-anchor="end" fill="#231f20" transform="rotate(-90 414.60 301.80)">Pharynx</text>
<rect x="417.67" y="274.86" width="6.20" height="20.14" fill="#0f5c98" stroke="#0a0a0a" stroke-width="0.7"/>
<line x1="420.77" y1="295.00" x2="420.77" y2="297.50" stroke="#333" stroke-width="0.5"/>
<text x="423.07" y="301.80" font-size="7.4" text-anchor="end" fill="#231f20" transform="rotate(-90 423.07 301.80)">Neuron</text>
<rect x="426.14" y="281.55" width="6.20" height="13.45" fill="#0f5c98" stroke="#0a0a0a" stroke-width="0.7"/>
<line x1="429.24" y1="295.00" x2="429.24" y2="297.50" stroke="#333" stroke-width="0.5"/>
<text x="431.54" y="301.80" font-size="7.4" text-anchor="end" fill="#231f20" transform="rotate(-90 431.54 301.80)">Hypodermis</text>
<rect x="434.61" y="281.04" width="6.20" height="13.96" fill="#0f5c98" stroke="#0a0a0a" stroke-width="0.7"/>
<line x1="437.71" y1="295.00" x2="437.71" y2="297.50" stroke="#333" stroke-width="0.5"/>
<text x="440.01" y="301.80" font-size="7.4" text-anchor="end" fill="#231f20" transform="rotate(-90 440.01 301.80)">Intestine</text>
<rect x="443.08" y="290.22" width="6.20" height="4.78" fill="#0f5c98" stroke="#0a0a0a" stroke-width="0.7"/>
<line x1="446.18" y1="295.00" x2="446.18" y2="297.50" stroke="#333" stroke-width="0.5"/>
<text x="448.48" y="301.80" font-size="7.4" text-anchor="end" fill="#231f20" transform="rotate(-90 448.48 301.80)">Vulva/uterus</text>
<rect x="451.55" y="278.46" width="6.20" height="16.54" fill="#0f5c98" stroke="#0a0a0a" stroke-width="0.7"/>
<line x1="454.65" y1="295.00" x2="454.65" y2="297.50" stroke="#333" stroke-width="0.5"/>
<text x="456.95" y="301.80" font-size="7.4" text-anchor="end" fill="#231f20" transform="rotate(-90 456.95 301.80)">Muscle</text>
<rect x="460.02" y="274.27" width="6.20" height="20.73" fill="#0f5c98" stroke="#0a0a0a" stroke-width="0.7"/>
<line x1="463.12" y1="295.00" x2="463.12" y2="297.50" stroke="#333" stroke-width="0.5"/>
<text x="465.42" y="301.80" font-size="7.4" text-anchor="end" fill="#231f20" transform="rotate(-90 465.42 301.80)">Germline</text>
<text x="437.71" y="216.90" font-size="8.6" text-anchor="middle" fill="#231f20" font-style="italic">lipl-4 Tg</text>
<rect x="476.65" y="284.34" width="6.20" height="10.66" fill="#0f5c98" stroke="#0a0a0a" stroke-width="0.7"/>
<line x1="479.75" y1="295.00" x2="479.75" y2="297.50" stroke="#333" stroke-width="0.5"/>
<text x="482.05" y="301.80" font-size="7.4" text-anchor="end" fill="#231f20" transform="rotate(-90 482.05 301.80)">Pharynx</text>
<rect x="485.12" y="277.87" width="6.20" height="17.13" fill="#0f5c98" stroke="#0a0a0a" stroke-width="0.7"/>
<line x1="488.22" y1="295.00" x2="488.22" y2="297.50" stroke="#333" stroke-width="0.5"/>
<text x="490.52" y="301.80" font-size="7.4" text-anchor="end" fill="#231f20" transform="rotate(-90 490.52 301.80)">Neuron</text>
<rect x="493.59" y="272.29" width="6.20" height="22.71" fill="#0f5c98" stroke="#0a0a0a" stroke-width="0.7"/>
<line x1="496.69" y1="295.00" x2="496.69" y2="297.50" stroke="#333" stroke-width="0.5"/>
<text x="498.99" y="301.80" font-size="7.4" text-anchor="end" fill="#231f20" transform="rotate(-90 498.99 301.80)">Hypodermis</text>
<rect x="502.06" y="283.24" width="6.20" height="11.76" fill="#0f5c98" stroke="#0a0a0a" stroke-width="0.7"/>
<line x1="505.16" y1="295.00" x2="505.16" y2="297.50" stroke="#333" stroke-width="0.5"/>
<text x="507.46" y="301.80" font-size="7.4" text-anchor="end" fill="#231f20" transform="rotate(-90 507.46 301.80)">Intestine</text>
<rect x="510.53" y="280.67" width="6.20" height="14.33" fill="#0f5c98" stroke="#0a0a0a" stroke-width="0.7"/>
<line x1="513.63" y1="295.00" x2="513.63" y2="297.50" stroke="#333" stroke-width="0.5"/>
<text x="515.93" y="301.80" font-size="7.4" text-anchor="end" fill="#231f20" transform="rotate(-90 515.93 301.80)">Vulva/uterus</text>
<rect x="519.00" y="277.36" width="6.20" height="17.64" fill="#0f5c98" stroke="#0a0a0a" stroke-width="0.7"/>
<line x1="522.10" y1="295.00" x2="522.10" y2="297.50" stroke="#333" stroke-width="0.5"/>
<text x="524.40" y="301.80" font-size="7.4" text-anchor="end" fill="#231f20" transform="rotate(-90 524.40 301.80)">Muscle</text>
<rect x="527.47" y="277.36" width="6.20" height="17.64" fill="#0f5c98" stroke="#0a0a0a" stroke-width="0.7"/>
<line x1="530.57" y1="295.00" x2="530.57" y2="297.50" stroke="#333" stroke-width="0.5"/>
<text x="532.87" y="301.80" font-size="7.4" text-anchor="end" fill="#231f20" transform="rotate(-90 532.87 301.80)">Germline</text>
<text x="505.16" y="216.90" font-size="8.6" text-anchor="middle" fill="#231f20" font-style="italic">rsks-1 (lf)</text>
<line x1="336.54" y1="295.00" x2="336.54" y2="297.50" stroke="#333" stroke-width="0.5"/>
<line x1="403.99" y1="295.00" x2="403.99" y2="297.50" stroke="#333" stroke-width="0.5"/>
<line x1="471.44" y1="295.00" x2="471.44" y2="297.50" stroke="#333" stroke-width="0.5"/>
<text x="550.10" y="197.40" font-size="13.2" text-anchor="start" fill="#000" font-weight="bold">e</text>
<defs><pattern id="pOB" width="2.4" height="2.4" patternUnits="userSpaceOnUse"><rect width="2.4" height="2.4" fill="#e0a010"/><rect width="1.2" height="1.2" fill="#1565c8"/><rect x="1.2" y="1.2" width="1.2" height="1.2" fill="#1565c8"/></pattern><pattern id="pPB" width="2.4" height="2.4" patternUnits="userSpaceOnUse"><rect width="2.4" height="2.4" fill="#9a1890"/><rect width="1.2" height="1.2" fill="#1a50d0"/><rect x="1.2" y="1.2" width="1.2" height="1.2" fill="#1a50d0"/></pattern><pattern id="pMO" width="2.4" height="2.4" patternUnits="userSpaceOnUse"><rect width="2.4" height="2.4" fill="#b01870"/><rect width="1.2" height="1.2" fill="#e0a010"/><rect x="1.2" y="1.2" width="1.2" height="1.2" fill="#e0a010"/></pattern><clipPath id="halfR"><rect x="0" y="-5" width="5" height="10"/></clipPath></defs>
<circle cx="565.80" cy="201.20" r="3.5" fill="#e6e6e6" stroke="#666" stroke-width="0.5"/>
<circle cx="575.12" cy="201.20" r="3.5" fill="#e6e6e6" stroke="#666" stroke-width="0.5"/>
<circle cx="584.44" cy="201.20" r="3.5" fill="#e6e6e6" stroke="#666" stroke-width="0.5"/>
<circle cx="593.76" cy="201.20" r="3.5" fill="#e6e6e6" stroke="#666" stroke-width="0.5"/>
<circle cx="603.08" cy="201.20" r="3.5" fill="#e6e6e6"/>
<path d="M603.08,197.70 A3.5,3.5 0 0 1 603.08,204.70 Z" fill="#1565d0"/>
<circle cx="603.08" cy="201.20" r="3.5" fill="none" stroke="#555" stroke-width="0.5"/>
<circle cx="612.40" cy="201.20" r="3.5" fill="#1565d0" stroke="#3a3a3a" stroke-width="0.5"/>
<circle cx="621.72" cy="201.20" r="3.5" fill="#1565d0" stroke="#3a3a3a" stroke-width="0.5"/>
<circle cx="631.04" cy="201.20" r="3.5" fill="#1565d0" stroke="#3a3a3a" stroke-width="0.5"/>
<circle cx="640.36" cy="201.20" r="3.5" fill="#1565d0" stroke="#3a3a3a" stroke-width="0.5"/>
<circle cx="649.68" cy="201.20" r="3.5" fill="#e0a010" stroke="#3a3a3a" stroke-width="0.5"/>
<circle cx="565.80" cy="210.51" r="3.5" fill="#e0a010" stroke="#3a3a3a" stroke-width="0.5"/>
<circle cx="575.12" cy="210.51" r="3.5" fill="#e0a010" stroke="#3a3a3a" stroke-width="0.5"/>
<clipPath id="cd1"><circle cx="584.44" cy="210.51" r="3.5"/></clipPath><g clip-path="url(#cd1)"><rect x="579.94" y="206.01" width="9.00" height="9.00" fill="#cf9200"/><rect x="579.69" y="205.76" width="1.90" height="1.90" fill="#0c58b8"/><rect x="579.69" y="209.56" width="1.90" height="1.90" fill="#0c58b8"/><rect x="579.69" y="213.36" width="1.90" height="1.90" fill="#0c58b8"/><rect x="581.59" y="207.66" width="1.90" height="1.90" fill="#0c58b8"/><rect x="581.59" y="211.46" width="1.90" height="1.90" fill="#0c58b8"/><rect x="583.49" y="205.76" width="1.90" height="1.90" fill="#0c58b8"/><rect x="583.49" y="209.56" width="1.90" height="1.90" fill="#0c58b8"/><rect x="583.49" y="213.36" width="1.90" height="1.90" fill="#0c58b8"/><rect x="585.39" y="207.66" width="1.90" height="1.90" fill="#0c58b8"/><rect x="585.39" y="211.46" width="1.90" height="1.90" fill="#0c58b8"/><rect x="587.29" y="205.76" width="1.90" height="1.90" fill="#0c58b8"/><rect x="587.29" y="209.56" width="1.90" height="1.90" fill="#0c58b8"/><rect x="587.29" y="213.36" width="1.90" height="1.90" fill="#0c58b8"/></g>
<circle cx="584.44" cy="210.51" r="3.5" fill="none" stroke="#333" stroke-width="0.5"/>
<clipPath id="cd2"><circle cx="593.76" cy="210.51" r="3.5"/></clipPath><g clip-path="url(#cd2)"><rect x="589.26" y="206.01" width="9.00" height="9.00" fill="#cf9200"/><rect x="589.01" y="205.76" width="1.90" height="1.90" fill="#0c58b8"/><rect x="589.01" y="209.56" width="1.90" height="1.90" fill="#0c58b8"/><rect x="589.01" y="213.36" width="1.90" height="1.90" fill="#0c58b8"/><rect x="590.91" y="207.66" width="1.90" height="1.90" fill="#0c58b8"/><rect x="590.91" y="211.46" width="1.90" height="1.90" fill="#0c58b8"/><rect x="592.81" y="205.76" width="1.90" height="1.90" fill="#0c58b8"/><rect x="592.81" y="209.56" width="1.90" height="1.90" fill="#0c58b8"/><rect x="592.81" y="213.36" width="1.90" height="1.90" fill="#0c58b8"/><rect x="594.71" y="207.66" width="1.90" height="1.90" fill="#0c58b8"/><rect x="594.71" y="211.46" width="1.90" height="1.90" fill="#0c58b8"/><rect x="596.61" y="205.76" width="1.90" height="1.90" fill="#0c58b8"/><rect x="596.61" y="209.56" width="1.90" height="1.90" fill="#0c58b8"/><rect x="596.61" y="213.36" width="1.90" height="1.90" fill="#0c58b8"/></g>
<circle cx="593.76" cy="210.51" r="3.5" fill="none" stroke="#333" stroke-width="0.5"/>
<clipPath id="cd3"><circle cx="603.08" cy="210.51" r="3.5"/></clipPath><g clip-path="url(#cd3)"><rect x="598.58" y="206.01" width="9.00" height="9.00" fill="#cf9200"/><rect x="598.33" y="205.76" width="1.90" height="1.90" fill="#0c58b8"/><rect x="598.33" y="209.56" width="1.90" height="1.90" fill="#0c58b8"/><rect x="598.33" y="213.36" width="1.90" height="1.90" fill="#0c58b8"/><rect x="600.23" y="207.66" width="1.90" height="1.90" fill="#0c58b8"/><rect x="600.23" y="211.46" width="1.90" height="1.90" fill="#0c58b8"/><rect x="602.13" y="205.76" width="1.90" height="1.90" fill="#0c58b8"/><rect x="602.13" y="209.56" width="1.90" height="1.90" fill="#0c58b8"/><rect x="602.13" y="213.36" width="1.90" height="1.90" fill="#0c58b8"/><rect x="604.03" y="207.66" width="1.90" height="1.90" fill="#0c58b8"/><rect x="604.03" y="211.46" width="1.90" height="1.90" fill="#0c58b8"/><rect x="605.93" y="205.76" width="1.90" height="1.90" fill="#0c58b8"/><rect x="605.93" y="209.56" width="1.90" height="1.90" fill="#0c58b8"/><rect x="605.93" y="213.36" width="1.90" height="1.90" fill="#0c58b8"/></g>
<circle cx="603.08" cy="210.51" r="3.5" fill="none" stroke="#333" stroke-width="0.5"/>
<clipPath id="cd4"><circle cx="612.40" cy="210.51" r="3.5"/></clipPath><g clip-path="url(#cd4)"><rect x="607.90" y="206.01" width="9.00" height="9.00" fill="#cf9200"/><rect x="607.65" y="205.76" width="1.90" height="1.90" fill="#0c58b8"/><rect x="607.65" y="209.56" width="1.90" height="1.90" fill="#0c58b8"/><rect x="607.65" y="213.36" width="1.90" height="1.90" fill="#0c58b8"/><rect x="609.55" y="207.66" width="1.90" height="1.90" fill="#0c58b8"/><rect x="609.55" y="211.46" width="1.90" height="1.90" fill="#0c58b8"/><rect x="611.45" y="205.76" width="1.90" height="1.90" fill="#0c58b8"/><rect x="611.45" y="209.56" width="1.90" height="1.90" fill="#0c58b8"/><rect x="611.45" y="213.36" width="1.90" height="1.90" fill="#0c58b8"/><rect x="613.35" y="207.66" width="1.90" height="1.90" fill="#0c58b8"/><rect x="613.35" y="211.46" width="1.90" height="1.90" fill="#0c58b8"/><rect x="615.25" y="205.76" width="1.90" height="1.90" fill="#0c58b8"/><rect x="615.25" y="209.56" width="1.90" height="1.90" fill="#0c58b8"/><rect x="615.25" y="213.36" width="1.90" height="1.90" fill="#0c58b8"/></g>
<circle cx="612.40" cy="210.51" r="3.5" fill="none" stroke="#333" stroke-width="0.5"/>
<clipPath id="cd5"><circle cx="621.72" cy="210.51" r="3.5"/></clipPath><g clip-path="url(#cd5)"><rect x="617.22" y="206.01" width="9.00" height="9.00" fill="#cf9200"/><rect x="616.97" y="205.76" width="1.90" height="1.90" fill="#0c58b8"/><rect x="616.97" y="209.56" width="1.90" height="1.90" fill="#0c58b8"/><rect x="616.97" y="213.36" width="1.90" height="1.90" fill="#0c58b8"/><rect x="618.87" y="207.66" width="1.90" height="1.90" fill="#0c58b8"/><rect x="618.87" y="211.46" width="1.90" height="1.90" fill="#0c58b8"/><rect x="620.77" y="205.76" width="1.90" height="1.90" fill="#0c58b8"/><rect x="620.77" y="209.56" width="1.90" height="1.90" fill="#0c58b8"/><rect x="620.77" y="213.36" width="1.90" height="1.90" fill="#0c58b8"/><rect x="622.67" y="207.66" width="1.90" height="1.90" fill="#0c58b8"/><rect x="622.67" y="211.46" width="1.90" height="1.90" fill="#0c58b8"/><rect x="624.57" y="205.76" width="1.90" height="1.90" fill="#0c58b8"/><rect x="624.57" y="209.56" width="1.90" height="1.90" fill="#0c58b8"/><rect x="624.57" y="213.36" width="1.90" height="1.90" fill="#0c58b8"/></g>
<circle cx="621.72" cy="210.51" r="3.5" fill="none" stroke="#333" stroke-width="0.5"/>
<clipPath id="cd6"><circle cx="631.04" cy="210.51" r="3.5"/></clipPath><g clip-path="url(#cd6)"><rect x="626.54" y="206.01" width="9.00" height="9.00" fill="#cf9200"/><rect x="626.29" y="205.76" width="1.90" height="1.90" fill="#0c58b8"/><rect x="626.29" y="209.56" width="1.90" height="1.90" fill="#0c58b8"/><rect x="626.29" y="213.36" width="1.90" height="1.90" fill="#0c58b8"/><rect x="628.19" y="207.66" width="1.90" height="1.90" fill="#0c58b8"/><rect x="628.19" y="211.46" width="1.90" height="1.90" fill="#0c58b8"/><rect x="630.09" y="205.76" width="1.90" height="1.90" fill="#0c58b8"/><rect x="630.09" y="209.56" width="1.90" height="1.90" fill="#0c58b8"/><rect x="630.09" y="213.36" width="1.90" height="1.90" fill="#0c58b8"/><rect x="631.99" y="207.66" width="1.90" height="1.90" fill="#0c58b8"/><rect x="631.99" y="211.46" width="1.90" height="1.90" fill="#0c58b8"/><rect x="633.89" y="205.76" width="1.90" height="1.90" fill="#0c58b8"/><rect x="633.89" y="209.56" width="1.90" height="1.90" fill="#0c58b8"/><rect x="633.89" y="213.36" width="1.90" height="1.90" fill="#0c58b8"/></g>
<circle cx="631.04" cy="210.51" r="3.5" fill="none" stroke="#333" stroke-width="0.5"/>
<clipPath id="cd7"><circle cx="640.36" cy="210.51" r="3.5"/></clipPath><g clip-path="url(#cd7)"><rect x="635.86" y="206.01" width="9.00" height="9.00" fill="#cf9200"/><rect x="635.61" y="205.76" width="1.90" height="1.90" fill="#0c58b8"/><rect x="635.61" y="209.56" width="1.90" height="1.90" fill="#0c58b8"/><rect x="635.61" y="213.36" width="1.90" height="1.90" fill="#0c58b8"/><rect x="637.51" y="207.66" width="1.90" height="1.90" fill="#0c58b8"/><rect x="637.51" y="211.46" width="1.90" height="1.90" fill="#0c58b8"/><rect x="639.41" y="205.76" width="1.90" height="1.90" fill="#0c58b8"/><rect x="639.41" y="209.56" width="1.90" height="1.90" fill="#0c58b8"/><rect x="639.41" y="213.36" width="1.90" height="1.90" fill="#0c58b8"/><rect x="641.31" y="207.66" width="1.90" height="1.90" fill="#0c58b8"/><rect x="641.31" y="211.46" width="1.90" height="1.90" fill="#0c58b8"/><rect x="643.21" y="205.76" width="1.90" height="1.90" fill="#0c58b8"/><rect x="643.21" y="209.56" width="1.90" height="1.90" fill="#0c58b8"/><rect x="643.21" y="213.36" width="1.90" height="1.90" fill="#0c58b8"/></g>
<circle cx="640.36" cy="210.51" r="3.5" fill="none" stroke="#333" stroke-width="0.5"/>
<clipPath id="cd8"><circle cx="649.68" cy="210.51" r="3.5"/></clipPath><g clip-path="url(#cd8)"><rect x="645.18" y="206.01" width="9.00" height="9.00" fill="#cf9200"/><rect x="644.93" y="205.76" width="1.90" height="1.90" fill="#0c58b8"/><rect x="644.93" y="209.56" width="1.90" height="1.90" fill="#0c58b8"/><rect x="644.93" y="213.36" width="1.90" height="1.90" fill="#0c58b8"/><rect x="646.83" y="207.66" width="1.90" height="1.90" fill="#0c58b8"/><rect x="646.83" y="211.46" width="1.90" height="1.90" fill="#0c58b8"/><rect x="648.73" y="205.76" width="1.90" height="1.90" fill="#0c58b8"/><rect x="648.73" y="209.56" width="1.90" height="1.90" fill="#0c58b8"/><rect x="648.73" y="213.36" width="1.90" height="1.90" fill="#0c58b8"/><rect x="650.63" y="207.66" width="1.90" height="1.90" fill="#0c58b8"/><rect x="650.63" y="211.46" width="1.90" height="1.90" fill="#0c58b8"/><rect x="652.53" y="205.76" width="1.90" height="1.90" fill="#0c58b8"/><rect x="652.53" y="209.56" width="1.90" height="1.90" fill="#0c58b8"/><rect x="652.53" y="213.36" width="1.90" height="1.90" fill="#0c58b8"/></g>
<circle cx="649.68" cy="210.51" r="3.5" fill="none" stroke="#333" stroke-width="0.5"/>
<clipPath id="cd9"><circle cx="565.80" cy="219.82" r="3.5"/></clipPath><g clip-path="url(#cd9)"><rect x="561.30" y="215.32" width="9.00" height="9.00" fill="#cf9200"/><rect x="561.05" y="215.07" width="1.90" height="1.90" fill="#0c58b8"/><rect x="561.05" y="218.87" width="1.90" height="1.90" fill="#0c58b8"/><rect x="561.05" y="222.67" width="1.90" height="1.90" fill="#0c58b8"/><rect x="562.95" y="216.97" width="1.90" height="1.90" fill="#0c58b8"/><rect x="562.95" y="220.77" width="1.90" height="1.90" fill="#0c58b8"/><rect x="564.85" y="215.07" width="1.90" height="1.90" fill="#0c58b8"/><rect x="564.85" y="218.87" width="1.90" height="1.90" fill="#0c58b8"/><rect x="564.85" y="222.67" width="1.90" height="1.90" fill="#0c58b8"/><rect x="566.75" y="216.97" width="1.90" height="1.90" fill="#0c58b8"/><rect x="566.75" y="220.77" width="1.90" height="1.90" fill="#0c58b8"/><rect x="568.65" y="215.07" width="1.90" height="1.90" fill="#0c58b8"/><rect x="568.65" y="218.87" width="1.90" height="1.90" fill="#0c58b8"/><rect x="568.65" y="222.67" width="1.90" height="1.90" fill="#0c58b8"/></g>
<circle cx="565.80" cy="219.82" r="3.5" fill="none" stroke="#333" stroke-width="0.5"/>
<clipPath id="cd10"><circle cx="575.12" cy="219.82" r="3.5"/></clipPath><g clip-path="url(#cd10)"><rect x="570.62" y="215.32" width="9.00" height="9.00" fill="#cf9200"/><rect x="570.37" y="215.07" width="1.90" height="1.90" fill="#0c58b8"/><rect x="570.37" y="218.87" width="1.90" height="1.90" fill="#0c58b8"/><rect x="570.37" y="222.67" width="1.90" height="1.90" fill="#0c58b8"/><rect x="572.27" y="216.97" width="1.90" height="1.90" fill="#0c58b8"/><rect x="572.27" y="220.77" width="1.90" height="1.90" fill="#0c58b8"/><rect x="574.17" y="215.07" width="1.90" height="1.90" fill="#0c58b8"/><rect x="574.17" y="218.87" width="1.90" height="1.90" fill="#0c58b8"/><rect x="574.17" y="222.67" width="1.90" height="1.90" fill="#0c58b8"/><rect x="576.07" y="216.97" width="1.90" height="1.90" fill="#0c58b8"/><rect x="576.07" y="220.77" width="1.90" height="1.90" fill="#0c58b8"/><rect x="577.97" y="215.07" width="1.90" height="1.90" fill="#0c58b8"/><rect x="577.97" y="218.87" width="1.90" height="1.90" fill="#0c58b8"/><rect x="577.97" y="222.67" width="1.90" height="1.90" fill="#0c58b8"/></g>
<circle cx="575.12" cy="219.82" r="3.5" fill="none" stroke="#333" stroke-width="0.5"/>
<clipPath id="cd11"><circle cx="584.44" cy="219.82" r="3.5"/></clipPath><g clip-path="url(#cd11)"><rect x="579.94" y="215.32" width="9.00" height="9.00" fill="#cf9200"/><rect x="579.69" y="215.07" width="1.90" height="1.90" fill="#0c58b8"/><rect x="579.69" y="218.87" width="1.90" height="1.90" fill="#0c58b8"/><rect x="579.69" y="222.67" width="1.90" height="1.90" fill="#0c58b8"/><rect x="581.59" y="216.97" width="1.90" height="1.90" fill="#0c58b8"/><rect x="581.59" y="220.77" width="1.90" height="1.90" fill="#0c58b8"/><rect x="583.49" y="215.07" width="1.90" height="1.90" fill="#0c58b8"/><rect x="583.49" y="218.87" width="1.90" height="1.90" fill="#0c58b8"/><rect x="583.49" y="222.67" width="1.90" height="1.90" fill="#0c58b8"/><rect x="585.39" y="216.97" width="1.90" height="1.90" fill="#0c58b8"/><rect x="585.39" y="220.77" width="1.90" height="1.90" fill="#0c58b8"/><rect x="587.29" y="215.07" width="1.90" height="1.90" fill="#0c58b8"/><rect x="587.29" y="218.87" width="1.90" height="1.90" fill="#0c58b8"/><rect x="587.29" y="222.67" width="1.90" height="1.90" fill="#0c58b8"/></g>
<circle cx="584.44" cy="219.82" r="3.5" fill="none" stroke="#333" stroke-width="0.5"/>
<clipPath id="cd12"><circle cx="593.76" cy="219.82" r="3.5"/></clipPath><g clip-path="url(#cd12)"><rect x="589.26" y="215.32" width="9.00" height="9.00" fill="#cf9200"/><rect x="589.01" y="215.07" width="1.90" height="1.90" fill="#0c58b8"/><rect x="589.01" y="218.87" width="1.90" height="1.90" fill="#0c58b8"/><rect x="589.01" y="222.67" width="1.90" height="1.90" fill="#0c58b8"/><rect x="590.91" y="216.97" width="1.90" height="1.90" fill="#0c58b8"/><rect x="590.91" y="220.77" width="1.90" height="1.90" fill="#0c58b8"/><rect x="592.81" y="215.07" width="1.90" height="1.90" fill="#0c58b8"/><rect x="592.81" y="218.87" width="1.90" height="1.90" fill="#0c58b8"/><rect x="592.81" y="222.67" width="1.90" height="1.90" fill="#0c58b8"/><rect x="594.71" y="216.97" width="1.90" height="1.90" fill="#0c58b8"/><rect x="594.71" y="220.77" width="1.90" height="1.90" fill="#0c58b8"/><rect x="596.61" y="215.07" width="1.90" height="1.90" fill="#0c58b8"/><rect x="596.61" y="218.87" width="1.90" height="1.90" fill="#0c58b8"/><rect x="596.61" y="222.67" width="1.90" height="1.90" fill="#0c58b8"/></g>
<circle cx="593.76" cy="219.82" r="3.5" fill="none" stroke="#333" stroke-width="0.5"/>
<clipPath id="cd13"><circle cx="603.08" cy="219.82" r="3.5"/></clipPath><g clip-path="url(#cd13)"><rect x="598.58" y="215.32" width="9.00" height="9.00" fill="#cf9200"/><rect x="598.33" y="215.07" width="1.90" height="1.90" fill="#0c58b8"/><rect x="598.33" y="218.87" width="1.90" height="1.90" fill="#0c58b8"/><rect x="598.33" y="222.67" width="1.90" height="1.90" fill="#0c58b8"/><rect x="600.23" y="216.97" width="1.90" height="1.90" fill="#0c58b8"/><rect x="600.23" y="220.77" width="1.90" height="1.90" fill="#0c58b8"/><rect x="602.13" y="215.07" width="1.90" height="1.90" fill="#0c58b8"/><rect x="602.13" y="218.87" width="1.90" height="1.90" fill="#0c58b8"/><rect x="602.13" y="222.67" width="1.90" height="1.90" fill="#0c58b8"/><rect x="604.03" y="216.97" width="1.90" height="1.90" fill="#0c58b8"/><rect x="604.03" y="220.77" width="1.90" height="1.90" fill="#0c58b8"/><rect x="605.93" y="215.07" width="1.90" height="1.90" fill="#0c58b8"/><rect x="605.93" y="218.87" width="1.90" height="1.90" fill="#0c58b8"/><rect x="605.93" y="222.67" width="1.90" height="1.90" fill="#0c58b8"/></g>
<circle cx="603.08" cy="219.82" r="3.5" fill="none" stroke="#333" stroke-width="0.5"/>
<clipPath id="cd14"><circle cx="612.40" cy="219.82" r="3.5"/></clipPath><g clip-path="url(#cd14)"><rect x="607.90" y="215.32" width="9.00" height="9.00" fill="#cf9200"/><rect x="607.65" y="215.07" width="1.90" height="1.90" fill="#0c58b8"/><rect x="607.65" y="218.87" width="1.90" height="1.90" fill="#0c58b8"/><rect x="607.65" y="222.67" width="1.90" height="1.90" fill="#0c58b8"/><rect x="609.55" y="216.97" width="1.90" height="1.90" fill="#0c58b8"/><rect x="609.55" y="220.77" width="1.90" height="1.90" fill="#0c58b8"/><rect x="611.45" y="215.07" width="1.90" height="1.90" fill="#0c58b8"/><rect x="611.45" y="218.87" width="1.90" height="1.90" fill="#0c58b8"/><rect x="611.45" y="222.67" width="1.90" height="1.90" fill="#0c58b8"/><rect x="613.35" y="216.97" width="1.90" height="1.90" fill="#0c58b8"/><rect x="613.35" y="220.77" width="1.90" height="1.90" fill="#0c58b8"/><rect x="615.25" y="215.07" width="1.90" height="1.90" fill="#0c58b8"/><rect x="615.25" y="218.87" width="1.90" height="1.90" fill="#0c58b8"/><rect x="615.25" y="222.67" width="1.90" height="1.90" fill="#0c58b8"/></g>
<circle cx="612.40" cy="219.82" r="3.5" fill="none" stroke="#333" stroke-width="0.5"/>
<clipPath id="cd15"><circle cx="621.72" cy="219.82" r="3.5"/></clipPath><g clip-path="url(#cd15)"><rect x="617.22" y="215.32" width="9.00" height="9.00" fill="#cf9200"/><rect x="616.97" y="215.07" width="1.90" height="1.90" fill="#0c58b8"/><rect x="616.97" y="218.87" width="1.90" height="1.90" fill="#0c58b8"/><rect x="616.97" y="222.67" width="1.90" height="1.90" fill="#0c58b8"/><rect x="618.87" y="216.97" width="1.90" height="1.90" fill="#0c58b8"/><rect x="618.87" y="220.77" width="1.90" height="1.90" fill="#0c58b8"/><rect x="620.77" y="215.07" width="1.90" height="1.90" fill="#0c58b8"/><rect x="620.77" y="218.87" width="1.90" height="1.90" fill="#0c58b8"/><rect x="620.77" y="222.67" width="1.90" height="1.90" fill="#0c58b8"/><rect x="622.67" y="216.97" width="1.90" height="1.90" fill="#0c58b8"/><rect x="622.67" y="220.77" width="1.90" height="1.90" fill="#0c58b8"/><rect x="624.57" y="215.07" width="1.90" height="1.90" fill="#0c58b8"/><rect x="624.57" y="218.87" width="1.90" height="1.90" fill="#0c58b8"/><rect x="624.57" y="222.67" width="1.90" height="1.90" fill="#0c58b8"/></g>
<circle cx="621.72" cy="219.82" r="3.5" fill="none" stroke="#333" stroke-width="0.5"/>
<clipPath id="cd16"><circle cx="631.04" cy="219.82" r="3.5"/></clipPath><g clip-path="url(#cd16)"><rect x="626.54" y="215.32" width="9.00" height="9.00" fill="#cf9200"/><rect x="626.29" y="215.07" width="1.90" height="1.90" fill="#0c58b8"/><rect x="626.29" y="218.87" width="1.90" height="1.90" fill="#0c58b8"/><rect x="626.29" y="222.67" width="1.90" height="1.90" fill="#0c58b8"/><rect x="628.19" y="216.97" width="1.90" height="1.90" fill="#0c58b8"/><rect x="628.19" y="220.77" width="1.90" height="1.90" fill="#0c58b8"/><rect x="630.09" y="215.07" width="1.90" height="1.90" fill="#0c58b8"/><rect x="630.09" y="218.87" width="1.90" height="1.90" fill="#0c58b8"/><rect x="630.09" y="222.67" width="1.90" height="1.90" fill="#0c58b8"/><rect x="631.99" y="216.97" width="1.90" height="1.90" fill="#0c58b8"/><rect x="631.99" y="220.77" width="1.90" height="1.90" fill="#0c58b8"/><rect x="633.89" y="215.07" width="1.90" height="1.90" fill="#0c58b8"/><rect x="633.89" y="218.87" width="1.90" height="1.90" fill="#0c58b8"/><rect x="633.89" y="222.67" width="1.90" height="1.90" fill="#0c58b8"/></g>
<circle cx="631.04" cy="219.82" r="3.5" fill="none" stroke="#333" stroke-width="0.5"/>
<clipPath id="cd17"><circle cx="640.36" cy="219.82" r="3.5"/></clipPath><g clip-path="url(#cd17)"><rect x="635.86" y="215.32" width="9.00" height="9.00" fill="#cf9200"/><rect x="635.61" y="215.07" width="1.90" height="1.90" fill="#0c58b8"/><rect x="635.61" y="218.87" width="1.90" height="1.90" fill="#0c58b8"/><rect x="635.61" y="222.67" width="1.90" height="1.90" fill="#0c58b8"/><rect x="637.51" y="216.97" width="1.90" height="1.90" fill="#0c58b8"/><rect x="637.51" y="220.77" width="1.90" height="1.90" fill="#0c58b8"/><rect x="639.41" y="215.07" width="1.90" height="1.90" fill="#0c58b8"/><rect x="639.41" y="218.87" width="1.90" height="1.90" fill="#0c58b8"/><rect x="639.41" y="222.67" width="1.90" height="1.90" fill="#0c58b8"/><rect x="641.31" y="216.97" width="1.90" height="1.90" fill="#0c58b8"/><rect x="641.31" y="220.77" width="1.90" height="1.90" fill="#0c58b8"/><rect x="643.21" y="215.07" width="1.90" height="1.90" fill="#0c58b8"/><rect x="643.21" y="218.87" width="1.90" height="1.90" fill="#0c58b8"/><rect x="643.21" y="222.67" width="1.90" height="1.90" fill="#0c58b8"/></g>
<circle cx="640.36" cy="219.82" r="3.5" fill="none" stroke="#333" stroke-width="0.5"/>
<clipPath id="cd18"><circle cx="649.68" cy="219.82" r="3.5"/></clipPath><g clip-path="url(#cd18)"><rect x="645.18" y="215.32" width="9.00" height="9.00" fill="#cf9200"/><rect x="644.93" y="215.07" width="1.90" height="1.90" fill="#0c58b8"/><rect x="644.93" y="218.87" width="1.90" height="1.90" fill="#0c58b8"/><rect x="644.93" y="222.67" width="1.90" height="1.90" fill="#0c58b8"/><rect x="646.83" y="216.97" width="1.90" height="1.90" fill="#0c58b8"/><rect x="646.83" y="220.77" width="1.90" height="1.90" fill="#0c58b8"/><rect x="648.73" y="215.07" width="1.90" height="1.90" fill="#0c58b8"/><rect x="648.73" y="218.87" width="1.90" height="1.90" fill="#0c58b8"/><rect x="648.73" y="222.67" width="1.90" height="1.90" fill="#0c58b8"/><rect x="650.63" y="216.97" width="1.90" height="1.90" fill="#0c58b8"/><rect x="650.63" y="220.77" width="1.90" height="1.90" fill="#0c58b8"/><rect x="652.53" y="215.07" width="1.90" height="1.90" fill="#0c58b8"/><rect x="652.53" y="218.87" width="1.90" height="1.90" fill="#0c58b8"/><rect x="652.53" y="222.67" width="1.90" height="1.90" fill="#0c58b8"/></g>
<circle cx="649.68" cy="219.82" r="3.5" fill="none" stroke="#333" stroke-width="0.5"/>
<clipPath id="cd19"><circle cx="565.80" cy="229.13" r="3.5"/></clipPath><g clip-path="url(#cd19)"><rect x="561.30" y="224.63" width="9.00" height="9.00" fill="#cf9200"/><rect x="561.05" y="224.38" width="1.90" height="1.90" fill="#0c58b8"/><rect x="561.05" y="228.18" width="1.90" height="1.90" fill="#0c58b8"/><rect x="561.05" y="231.98" width="1.90" height="1.90" fill="#0c58b8"/><rect x="562.95" y="226.28" width="1.90" height="1.90" fill="#0c58b8"/><rect x="562.95" y="230.08" width="1.90" height="1.90" fill="#0c58b8"/><rect x="564.85" y="224.38" width="1.90" height="1.90" fill="#0c58b8"/><rect x="564.85" y="228.18" width="1.90" height="1.90" fill="#0c58b8"/><rect x="564.85" y="231.98" width="1.90" height="1.90" fill="#0c58b8"/><rect x="566.75" y="226.28" width="1.90" height="1.90" fill="#0c58b8"/><rect x="566.75" y="230.08" width="1.90" height="1.90" fill="#0c58b8"/><rect x="568.65" y="224.38" width="1.90" height="1.90" fill="#0c58b8"/><rect x="568.65" y="228.18" width="1.90" height="1.90" fill="#0c58b8"/><rect x="568.65" y="231.98" width="1.90" height="1.90" fill="#0c58b8"/></g>
<circle cx="565.80" cy="229.13" r="3.5" fill="none" stroke="#333" stroke-width="0.5"/>
<clipPath id="cd20"><circle cx="575.12" cy="229.13" r="3.5"/></clipPath><g clip-path="url(#cd20)"><rect x="570.62" y="224.63" width="9.00" height="9.00" fill="#cf9200"/><rect x="570.37" y="224.38" width="1.90" height="1.90" fill="#0c58b8"/><rect x="570.37" y="228.18" width="1.90" height="1.90" fill="#0c58b8"/><rect x="570.37" y="231.98" width="1.90" height="1.90" fill="#0c58b8"/><rect x="572.27" y="226.28" width="1.90" height="1.90" fill="#0c58b8"/><rect x="572.27" y="230.08" width="1.90" height="1.90" fill="#0c58b8"/><rect x="574.17" y="224.38" width="1.90" height="1.90" fill="#0c58b8"/><rect x="574.17" y="228.18" width="1.90" height="1.90" fill="#0c58b8"/><rect x="574.17" y="231.98" width="1.90" height="1.90" fill="#0c58b8"/><rect x="576.07" y="226.28" width="1.90" height="1.90" fill="#0c58b8"/><rect x="576.07" y="230.08" width="1.90" height="1.90" fill="#0c58b8"/><rect x="577.97" y="224.38" width="1.90" height="1.90" fill="#0c58b8"/><rect x="577.97" y="228.18" width="1.90" height="1.90" fill="#0c58b8"/><rect x="577.97" y="231.98" width="1.90" height="1.90" fill="#0c58b8"/></g>
<circle cx="575.12" cy="229.13" r="3.5" fill="none" stroke="#333" stroke-width="0.5"/>
<clipPath id="cd21"><circle cx="584.44" cy="229.13" r="3.5"/></clipPath><g clip-path="url(#cd21)"><rect x="579.94" y="224.63" width="9.00" height="9.00" fill="#cf9200"/><rect x="579.69" y="224.38" width="1.90" height="1.90" fill="#0c58b8"/><rect x="579.69" y="228.18" width="1.90" height="1.90" fill="#0c58b8"/><rect x="579.69" y="231.98" width="1.90" height="1.90" fill="#0c58b8"/><rect x="581.59" y="226.28" width="1.90" height="1.90" fill="#0c58b8"/><rect x="581.59" y="230.08" width="1.90" height="1.90" fill="#0c58b8"/><rect x="583.49" y="224.38" width="1.90" height="1.90" fill="#0c58b8"/><rect x="583.49" y="228.18" width="1.90" height="1.90" fill="#0c58b8"/><rect x="583.49" y="231.98" width="1.90" height="1.90" fill="#0c58b8"/><rect x="585.39" y="226.28" width="1.90" height="1.90" fill="#0c58b8"/><rect x="585.39" y="230.08" width="1.90" height="1.90" fill="#0c58b8"/><rect x="587.29" y="224.38" width="1.90" height="1.90" fill="#0c58b8"/><rect x="587.29" y="228.18" width="1.90" height="1.90" fill="#0c58b8"/><rect x="587.29" y="231.98" width="1.90" height="1.90" fill="#0c58b8"/></g>
<circle cx="584.44" cy="229.13" r="3.5" fill="none" stroke="#333" stroke-width="0.5"/>
<clipPath id="cd22"><circle cx="593.76" cy="229.13" r="3.5"/></clipPath><g clip-path="url(#cd22)"><rect x="589.26" y="224.63" width="9.00" height="9.00" fill="#cf9200"/><rect x="589.01" y="224.38" width="1.90" height="1.90" fill="#0c58b8"/><rect x="589.01" y="228.18" width="1.90" height="1.90" fill="#0c58b8"/><rect x="589.01" y="231.98" width="1.90" height="1.90" fill="#0c58b8"/><rect x="590.91" y="226.28" width="1.90" height="1.90" fill="#0c58b8"/><rect x="590.91" y="230.08" width="1.90" height="1.90" fill="#0c58b8"/><rect x="592.81" y="224.38" width="1.90" height="1.90" fill="#0c58b8"/><rect x="592.81" y="228.18" width="1.90" height="1.90" fill="#0c58b8"/><rect x="592.81" y="231.98" width="1.90" height="1.90" fill="#0c58b8"/><rect x="594.71" y="226.28" width="1.90" height="1.90" fill="#0c58b8"/><rect x="594.71" y="230.08" width="1.90" height="1.90" fill="#0c58b8"/><rect x="596.61" y="224.38" width="1.90" height="1.90" fill="#0c58b8"/><rect x="596.61" y="228.18" width="1.90" height="1.90" fill="#0c58b8"/><rect x="596.61" y="231.98" width="1.90" height="1.90" fill="#0c58b8"/></g>
<circle cx="593.76" cy="229.13" r="3.5" fill="none" stroke="#333" stroke-width="0.5"/>
<clipPath id="cd23"><circle cx="603.08" cy="229.13" r="3.5"/></clipPath><g clip-path="url(#cd23)"><rect x="598.58" y="224.63" width="9.00" height="9.00" fill="#cf9200"/><rect x="598.33" y="224.38" width="1.90" height="1.90" fill="#0c58b8"/><rect x="598.33" y="228.18" width="1.90" height="1.90" fill="#0c58b8"/><rect x="598.33" y="231.98" width="1.90" height="1.90" fill="#0c58b8"/><rect x="600.23" y="226.28" width="1.90" height="1.90" fill="#0c58b8"/><rect x="600.23" y="230.08" width="1.90" height="1.90" fill="#0c58b8"/><rect x="602.13" y="224.38" width="1.90" height="1.90" fill="#0c58b8"/><rect x="602.13" y="228.18" width="1.90" height="1.90" fill="#0c58b8"/><rect x="602.13" y="231.98" width="1.90" height="1.90" fill="#0c58b8"/><rect x="604.03" y="226.28" width="1.90" height="1.90" fill="#0c58b8"/><rect x="604.03" y="230.08" width="1.90" height="1.90" fill="#0c58b8"/><rect x="605.93" y="224.38" width="1.90" height="1.90" fill="#0c58b8"/><rect x="605.93" y="228.18" width="1.90" height="1.90" fill="#0c58b8"/><rect x="605.93" y="231.98" width="1.90" height="1.90" fill="#0c58b8"/></g>
<clipPath id="cd24"><path d="M603.08,225.63 A3.5,3.5 0 0 1 603.08,232.63 Z"/></clipPath><g clip-path="url(#cd24)"><rect x="598.58" y="224.63" width="9.00" height="9.00" fill="#8a0a7a"/><rect x="598.33" y="224.38" width="1.90" height="1.90" fill="#1c4cc8"/><rect x="598.33" y="228.18" width="1.90" height="1.90" fill="#1c4cc8"/><rect x="598.33" y="231.98" width="1.90" height="1.90" fill="#1c4cc8"/><rect x="600.23" y="226.28" width="1.90" height="1.90" fill="#1c4cc8"/><rect x="600.23" y="230.08" width="1.90" height="1.90" fill="#1c4cc8"/><rect x="602.13" y="224.38" width="1.90" height="1.90" fill="#1c4cc8"/><rect x="602.13" y="228.18" width="1.90" height="1.90" fill="#1c4cc8"/><rect x="602.13" y="231.98" width="1.90" height="1.90" fill="#1c4cc8"/><rect x="604.03" y="226.28" width="1.90" height="1.90" fill="#1c4cc8"/><rect x="604.03" y="230.08" width="1.90" height="1.90" fill="#1c4cc8"/><rect x="605.93" y="224.38" width="1.90" height="1.90" fill="#1c4cc8"/><rect x="605.93" y="228.18" width="1.90" height="1.90" fill="#1c4cc8"/><rect x="605.93" y="231.98" width="1.90" height="1.90" fill="#1c4cc8"/></g>
<circle cx="603.08" cy="229.13" r="3.5" fill="none" stroke="#333" stroke-width="0.5"/>
<clipPath id="cd25"><circle cx="612.40" cy="229.13" r="3.5"/></clipPath><g clip-path="url(#cd25)"><rect x="607.90" y="224.63" width="9.00" height="9.00" fill="#8a0a7a"/><rect x="607.65" y="224.38" width="1.90" height="1.90" fill="#1c4cc8"/><rect x="607.65" y="228.18" width="1.90" height="1.90" fill="#1c4cc8"/><rect x="607.65" y="231.98" width="1.90" height="1.90" fill="#1c4cc8"/><rect x="609.55" y="226.28" width="1.90" height="1.90" fill="#1c4cc8"/><rect x="609.55" y="230.08" width="1.90" height="1.90" fill="#1c4cc8"/><rect x="611.45" y="224.38" width="1.90" height="1.90" fill="#1c4cc8"/><rect x="611.45" y="228.18" width="1.90" height="1.90" fill="#1c4cc8"/><rect x="611.45" y="231.98" width="1.90" height="1.90" fill="#1c4cc8"/><rect x="613.35" y="226.28" width="1.90" height="1.90" fill="#1c4cc8"/><rect x="613.35" y="230.08" width="1.90" height="1.90" fill="#1c4cc8"/><rect x="615.25" y="224.38" width="1.90" height="1.90" fill="#1c4cc8"/><rect x="615.25" y="228.18" width="1.90" height="1.90" fill="#1c4cc8"/><rect x="615.25" y="231.98" width="1.90" height="1.90" fill="#1c4cc8"/></g>
<circle cx="612.40" cy="229.13" r="3.5" fill="none" stroke="#333" stroke-width="0.5"/>
<clipPath id="cd26"><circle cx="621.72" cy="229.13" r="3.5"/></clipPath><g clip-path="url(#cd26)"><rect x="617.22" y="224.63" width="9.00" height="9.00" fill="#8a0a7a"/><rect x="616.97" y="224.38" width="1.90" height="1.90" fill="#1c4cc8"/><rect x="616.97" y="228.18" width="1.90" height="1.90" fill="#1c4cc8"/><rect x="616.97" y="231.98" width="1.90" height="1.90" fill="#1c4cc8"/><rect x="618.87" y="226.28" width="1.90" height="1.90" fill="#1c4cc8"/><rect x="618.87" y="230.08" width="1.90" height="1.90" fill="#1c4cc8"/><rect x="620.77" y="224.38" width="1.90" height="1.90" fill="#1c4cc8"/><rect x="620.77" y="228.18" width="1.90" height="1.90" fill="#1c4cc8"/><rect x="620.77" y="231.98" width="1.90" height="1.90" fill="#1c4cc8"/><rect x="622.67" y="226.28" width="1.90" height="1.90" fill="#1c4cc8"/><rect x="622.67" y="230.08" width="1.90" height="1.90" fill="#1c4cc8"/><rect x="624.57" y="224.38" width="1.90" height="1.90" fill="#1c4cc8"/><rect x="624.57" y="228.18" width="1.90" height="1.90" fill="#1c4cc8"/><rect x="624.57" y="231.98" width="1.90" height="1.90" fill="#1c4cc8"/></g>
<circle cx="621.72" cy="229.13" r="3.5" fill="none" stroke="#333" stroke-width="0.5"/>
<clipPath id="cd27"><circle cx="631.04" cy="229.13" r="3.5"/></clipPath><g clip-path="url(#cd27)"><rect x="626.54" y="224.63" width="9.00" height="9.00" fill="#8a0a7a"/><rect x="626.29" y="224.38" width="1.90" height="1.90" fill="#1c4cc8"/><rect x="626.29" y="228.18" width="1.90" height="1.90" fill="#1c4cc8"/><rect x="626.29" y="231.98" width="1.90" height="1.90" fill="#1c4cc8"/><rect x="628.19" y="226.28" width="1.90" height="1.90" fill="#1c4cc8"/><rect x="628.19" y="230.08" width="1.90" height="1.90" fill="#1c4cc8"/><rect x="630.09" y="224.38" width="1.90" height="1.90" fill="#1c4cc8"/><rect x="630.09" y="228.18" width="1.90" height="1.90" fill="#1c4cc8"/><rect x="630.09" y="231.98" width="1.90" height="1.90" fill="#1c4cc8"/><rect x="631.99" y="226.28" width="1.90" height="1.90" fill="#1c4cc8"/><rect x="631.99" y="230.08" width="1.90" height="1.90" fill="#1c4cc8"/><rect x="633.89" y="224.38" width="1.90" height="1.90" fill="#1c4cc8"/><rect x="633.89" y="228.18" width="1.90" height="1.90" fill="#1c4cc8"/><rect x="633.89" y="231.98" width="1.90" height="1.90" fill="#1c4cc8"/></g>
<circle cx="631.04" cy="229.13" r="3.5" fill="none" stroke="#333" stroke-width="0.5"/>
<clipPath id="cd28"><circle cx="640.36" cy="229.13" r="3.5"/></clipPath><g clip-path="url(#cd28)"><rect x="635.86" y="224.63" width="9.00" height="9.00" fill="#8a0a7a"/><rect x="635.61" y="224.38" width="1.90" height="1.90" fill="#1c4cc8"/><rect x="635.61" y="228.18" width="1.90" height="1.90" fill="#1c4cc8"/><rect x="635.61" y="231.98" width="1.90" height="1.90" fill="#1c4cc8"/><rect x="637.51" y="226.28" width="1.90" height="1.90" fill="#1c4cc8"/><rect x="637.51" y="230.08" width="1.90" height="1.90" fill="#1c4cc8"/><rect x="639.41" y="224.38" width="1.90" height="1.90" fill="#1c4cc8"/><rect x="639.41" y="228.18" width="1.90" height="1.90" fill="#1c4cc8"/><rect x="639.41" y="231.98" width="1.90" height="1.90" fill="#1c4cc8"/><rect x="641.31" y="226.28" width="1.90" height="1.90" fill="#1c4cc8"/><rect x="641.31" y="230.08" width="1.90" height="1.90" fill="#1c4cc8"/><rect x="643.21" y="224.38" width="1.90" height="1.90" fill="#1c4cc8"/><rect x="643.21" y="228.18" width="1.90" height="1.90" fill="#1c4cc8"/><rect x="643.21" y="231.98" width="1.90" height="1.90" fill="#1c4cc8"/></g>
<circle cx="640.36" cy="229.13" r="3.5" fill="none" stroke="#333" stroke-width="0.5"/>
<clipPath id="cd29"><circle cx="649.68" cy="229.13" r="3.5"/></clipPath><g clip-path="url(#cd29)"><rect x="645.18" y="224.63" width="9.00" height="9.00" fill="#8a0a7a"/><rect x="644.93" y="224.38" width="1.90" height="1.90" fill="#1c4cc8"/><rect x="644.93" y="228.18" width="1.90" height="1.90" fill="#1c4cc8"/><rect x="644.93" y="231.98" width="1.90" height="1.90" fill="#1c4cc8"/><rect x="646.83" y="226.28" width="1.90" height="1.90" fill="#1c4cc8"/><rect x="646.83" y="230.08" width="1.90" height="1.90" fill="#1c4cc8"/><rect x="648.73" y="224.38" width="1.90" height="1.90" fill="#1c4cc8"/><rect x="648.73" y="228.18" width="1.90" height="1.90" fill="#1c4cc8"/><rect x="648.73" y="231.98" width="1.90" height="1.90" fill="#1c4cc8"/><rect x="650.63" y="226.28" width="1.90" height="1.90" fill="#1c4cc8"/><rect x="650.63" y="230.08" width="1.90" height="1.90" fill="#1c4cc8"/><rect x="652.53" y="224.38" width="1.90" height="1.90" fill="#1c4cc8"/><rect x="652.53" y="228.18" width="1.90" height="1.90" fill="#1c4cc8"/><rect x="652.53" y="231.98" width="1.90" height="1.90" fill="#1c4cc8"/></g>
<circle cx="649.68" cy="229.13" r="3.5" fill="none" stroke="#333" stroke-width="0.5"/>
<clipPath id="cd30"><circle cx="565.80" cy="238.44" r="3.5"/></clipPath><g clip-path="url(#cd30)"><rect x="561.30" y="233.94" width="9.00" height="9.00" fill="#8a0a7a"/><rect x="561.05" y="233.69" width="1.90" height="1.90" fill="#1c4cc8"/><rect x="561.05" y="237.49" width="1.90" height="1.90" fill="#1c4cc8"/><rect x="561.05" y="241.29" width="1.90" height="1.90" fill="#1c4cc8"/><rect x="562.95" y="235.59" width="1.90" height="1.90" fill="#1c4cc8"/><rect x="562.95" y="239.39" width="1.90" height="1.90" fill="#1c4cc8"/><rect x="564.85" y="233.69" width="1.90" height="1.90" fill="#1c4cc8"/><rect x="564.85" y="237.49" width="1.90" height="1.90" fill="#1c4cc8"/><rect x="564.85" y="241.29" width="1.90" height="1.90" fill="#1c4cc8"/><rect x="566.75" y="235.59" width="1.90" height="1.90" fill="#1c4cc8"/><rect x="566.75" y="239.39" width="1.90" height="1.90" fill="#1c4cc8"/><rect x="568.65" y="233.69" width="1.90" height="1.90" fill="#1c4cc8"/><rect x="568.65" y="237.49" width="1.90" height="1.90" fill="#1c4cc8"/><rect x="568.65" y="241.29" width="1.90" height="1.90" fill="#1c4cc8"/></g>
<circle cx="565.80" cy="238.44" r="3.5" fill="none" stroke="#333" stroke-width="0.5"/>
<clipPath id="cd31"><circle cx="575.12" cy="238.44" r="3.5"/></clipPath><g clip-path="url(#cd31)"><rect x="570.62" y="233.94" width="9.00" height="9.00" fill="#8a0a7a"/><rect x="570.37" y="233.69" width="1.90" height="1.90" fill="#1c4cc8"/><rect x="570.37" y="237.49" width="1.90" height="1.90" fill="#1c4cc8"/><rect x="570.37" y="241.29" width="1.90" height="1.90" fill="#1c4cc8"/><rect x="572.27" y="235.59" width="1.90" height="1.90" fill="#1c4cc8"/><rect x="572.27" y="239.39" width="1.90" height="1.90" fill="#1c4cc8"/><rect x="574.17" y="233.69" width="1.90" height="1.90" fill="#1c4cc8"/><rect x="574.17" y="237.49" width="1.90" height="1.90" fill="#1c4cc8"/><rect x="574.17" y="241.29" width="1.90" height="1.90" fill="#1c4cc8"/><rect x="576.07" y="235.59" width="1.90" height="1.90" fill="#1c4cc8"/><rect x="576.07" y="239.39" width="1.90" height="1.90" fill="#1c4cc8"/><rect x="577.97" y="233.69" width="1.90" height="1.90" fill="#1c4cc8"/><rect x="577.97" y="237.49" width="1.90" height="1.90" fill="#1c4cc8"/><rect x="577.97" y="241.29" width="1.90" height="1.90" fill="#1c4cc8"/></g>
<circle cx="575.12" cy="238.44" r="3.5" fill="none" stroke="#333" stroke-width="0.5"/>
<clipPath id="cd32"><circle cx="584.44" cy="238.44" r="3.5"/></clipPath><g clip-path="url(#cd32)"><rect x="579.94" y="233.94" width="9.00" height="9.00" fill="#a00a68"/><rect x="579.69" y="233.69" width="1.90" height="1.90" fill="#d69200"/><rect x="579.69" y="237.49" width="1.90" height="1.90" fill="#d69200"/><rect x="579.69" y="241.29" width="1.90" height="1.90" fill="#d69200"/><rect x="581.59" y="235.59" width="1.90" height="1.90" fill="#d69200"/><rect x="581.59" y="239.39" width="1.90" height="1.90" fill="#d69200"/><rect x="583.49" y="233.69" width="1.90" height="1.90" fill="#d69200"/><rect x="583.49" y="237.49" width="1.90" height="1.90" fill="#d69200"/><rect x="583.49" y="241.29" width="1.90" height="1.90" fill="#d69200"/><rect x="585.39" y="235.59" width="1.90" height="1.90" fill="#d69200"/><rect x="585.39" y="239.39" width="1.90" height="1.90" fill="#d69200"/><rect x="587.29" y="233.69" width="1.90" height="1.90" fill="#d69200"/><rect x="587.29" y="237.49" width="1.90" height="1.90" fill="#d69200"/><rect x="587.29" y="241.29" width="1.90" height="1.90" fill="#d69200"/></g>
<circle cx="584.44" cy="238.44" r="3.5" fill="none" stroke="#333" stroke-width="0.5"/>
<clipPath id="cd33"><circle cx="593.76" cy="238.44" r="3.5"/></clipPath><g clip-path="url(#cd33)"><rect x="589.26" y="233.94" width="9.00" height="9.00" fill="#a00a68"/><rect x="589.01" y="233.69" width="1.90" height="1.90" fill="#d69200"/><rect x="589.01" y="237.49" width="1.90" height="1.90" fill="#d69200"/><rect x="589.01" y="241.29" width="1.90" height="1.90" fill="#d69200"/><rect x="590.91" y="235.59" width="1.90" height="1.90" fill="#d69200"/><rect x="590.91" y="239.39" width="1.90" height="1.90" fill="#d69200"/><rect x="592.81" y="233.69" width="1.90" height="1.90" fill="#d69200"/><rect x="592.81" y="237.49" width="1.90" height="1.90" fill="#d69200"/><rect x="592.81" y="241.29" width="1.90" height="1.90" fill="#d69200"/><rect x="594.71" y="235.59" width="1.90" height="1.90" fill="#d69200"/><rect x="594.71" y="239.39" width="1.90" height="1.90" fill="#d69200"/><rect x="596.61" y="233.69" width="1.90" height="1.90" fill="#d69200"/><rect x="596.61" y="237.49" width="1.90" height="1.90" fill="#d69200"/><rect x="596.61" y="241.29" width="1.90" height="1.90" fill="#d69200"/></g>
<circle cx="593.76" cy="238.44" r="3.5" fill="none" stroke="#333" stroke-width="0.5"/>
<clipPath id="cd34"><circle cx="603.08" cy="238.44" r="3.5"/></clipPath><g clip-path="url(#cd34)"><rect x="598.58" y="233.94" width="9.00" height="9.00" fill="#a00a68"/><rect x="598.33" y="233.69" width="1.90" height="1.90" fill="#d69200"/><rect x="598.33" y="237.49" width="1.90" height="1.90" fill="#d69200"/><rect x="598.33" y="241.29" width="1.90" height="1.90" fill="#d69200"/><rect x="600.23" y="235.59" width="1.90" height="1.90" fill="#d69200"/><rect x="600.23" y="239.39" width="1.90" height="1.90" fill="#d69200"/><rect x="602.13" y="233.69" width="1.90" height="1.90" fill="#d69200"/><rect x="602.13" y="237.49" width="1.90" height="1.90" fill="#d69200"/><rect x="602.13" y="241.29" width="1.90" height="1.90" fill="#d69200"/><rect x="604.03" y="235.59" width="1.90" height="1.90" fill="#d69200"/><rect x="604.03" y="239.39" width="1.90" height="1.90" fill="#d69200"/><rect x="605.93" y="233.69" width="1.90" height="1.90" fill="#d69200"/><rect x="605.93" y="237.49" width="1.90" height="1.90" fill="#d69200"/><rect x="605.93" y="241.29" width="1.90" height="1.90" fill="#d69200"/></g>
<circle cx="603.08" cy="238.44" r="3.5" fill="none" stroke="#333" stroke-width="0.5"/>
<clipPath id="cd35"><circle cx="612.40" cy="238.44" r="3.5"/></clipPath><g clip-path="url(#cd35)"><rect x="607.90" y="233.94" width="9.00" height="9.00" fill="#a00a68"/><rect x="607.65" y="233.69" width="1.90" height="1.90" fill="#d69200"/><rect x="607.65" y="237.49" width="1.90" height="1.90" fill="#d69200"/><rect x="607.65" y="241.29" width="1.90" height="1.90" fill="#d69200"/><rect x="609.55" y="235.59" width="1.90" height="1.90" fill="#d69200"/><rect x="609.55" y="239.39" width="1.90" height="1.90" fill="#d69200"/><rect x="611.45" y="233.69" width="1.90" height="1.90" fill="#d69200"/><rect x="611.45" y="237.49" width="1.90" height="1.90" fill="#d69200"/><rect x="611.45" y="241.29" width="1.90" height="1.90" fill="#d69200"/><rect x="613.35" y="235.59" width="1.90" height="1.90" fill="#d69200"/><rect x="613.35" y="239.39" width="1.90" height="1.90" fill="#d69200"/><rect x="615.25" y="233.69" width="1.90" height="1.90" fill="#d69200"/><rect x="615.25" y="237.49" width="1.90" height="1.90" fill="#d69200"/><rect x="615.25" y="241.29" width="1.90" height="1.90" fill="#d69200"/></g>
<circle cx="612.40" cy="238.44" r="3.5" fill="none" stroke="#333" stroke-width="0.5"/>
<clipPath id="cd36"><circle cx="621.72" cy="238.44" r="3.5"/></clipPath><g clip-path="url(#cd36)"><rect x="617.22" y="233.94" width="9.00" height="9.00" fill="#a00a68"/><rect x="616.97" y="233.69" width="1.90" height="1.90" fill="#d69200"/><rect x="616.97" y="237.49" width="1.90" height="1.90" fill="#d69200"/><rect x="616.97" y="241.29" width="1.90" height="1.90" fill="#d69200"/><rect x="618.87" y="235.59" width="1.90" height="1.90" fill="#d69200"/><rect x="618.87" y="239.39" width="1.90" height="1.90" fill="#d69200"/><rect x="620.77" y="233.69" width="1.90" height="1.90" fill="#d69200"/><rect x="620.77" y="237.49" width="1.90" height="1.90" fill="#d69200"/><rect x="620.77" y="241.29" width="1.90" height="1.90" fill="#d69200"/><rect x="622.67" y="235.59" width="1.90" height="1.90" fill="#d69200"/><rect x="622.67" y="239.39" width="1.90" height="1.90" fill="#d69200"/><rect x="624.57" y="233.69" width="1.90" height="1.90" fill="#d69200"/><rect x="624.57" y="237.49" width="1.90" height="1.90" fill="#d69200"/><rect x="624.57" y="241.29" width="1.90" height="1.90" fill="#d69200"/></g>
<circle cx="621.72" cy="238.44" r="3.5" fill="none" stroke="#333" stroke-width="0.5"/>
<clipPath id="cd37"><circle cx="631.04" cy="238.44" r="3.5"/></clipPath><g clip-path="url(#cd37)"><rect x="626.54" y="233.94" width="9.00" height="9.00" fill="#a00a68"/><rect x="626.29" y="233.69" width="1.90" height="1.90" fill="#d69200"/><rect x="626.29" y="237.49" width="1.90" height="1.90" fill="#d69200"/><rect x="626.29" y="241.29" width="1.90" height="1.90" fill="#d69200"/><rect x="628.19" y="235.59" width="1.90" height="1.90" fill="#d69200"/><rect x="628.19" y="239.39" width="1.90" height="1.90" fill="#d69200"/><rect x="630.09" y="233.69" width="1.90" height="1.90" fill="#d69200"/><rect x="630.09" y="237.49" width="1.90" height="1.90" fill="#d69200"/><rect x="630.09" y="241.29" width="1.90" height="1.90" fill="#d69200"/><rect x="631.99" y="235.59" width="1.90" height="1.90" fill="#d69200"/><rect x="631.99" y="239.39" width="1.90" height="1.90" fill="#d69200"/><rect x="633.89" y="233.69" width="1.90" height="1.90" fill="#d69200"/><rect x="633.89" y="237.49" width="1.90" height="1.90" fill="#d69200"/><rect x="633.89" y="241.29" width="1.90" height="1.90" fill="#d69200"/></g>
<circle cx="631.04" cy="238.44" r="3.5" fill="none" stroke="#333" stroke-width="0.5"/>
<circle cx="640.36" cy="238.44" r="3.5" fill="#5e5e5e" stroke="#3a3a3a" stroke-width="0.5"/>
<circle cx="649.68" cy="238.44" r="3.5" fill="#5e5e5e" stroke="#3a3a3a" stroke-width="0.5"/>
<circle cx="565.80" cy="247.75" r="3.5" fill="#5e5e5e" stroke="#3a3a3a" stroke-width="0.5"/>
<circle cx="575.12" cy="247.75" r="3.5" fill="#5e5e5e" stroke="#3a3a3a" stroke-width="0.5"/>
<circle cx="584.44" cy="247.75" r="3.5" fill="#5e5e5e" stroke="#3a3a3a" stroke-width="0.5"/>
<circle cx="593.76" cy="247.75" r="3.5" fill="#5e5e5e" stroke="#3a3a3a" stroke-width="0.5"/>
<circle cx="603.08" cy="247.75" r="3.5" fill="#5e5e5e" stroke="#3a3a3a" stroke-width="0.5"/>
<circle cx="612.40" cy="247.75" r="3.5" fill="#5e5e5e" stroke="#3a3a3a" stroke-width="0.5"/>
<circle cx="621.72" cy="247.75" r="3.5" fill="#5e5e5e" stroke="#3a3a3a" stroke-width="0.5"/>
<circle cx="631.04" cy="247.75" r="3.5" fill="#5e5e5e" stroke="#3a3a3a" stroke-width="0.5"/>
<circle cx="640.36" cy="247.75" r="3.5" fill="#5e5e5e" stroke="#3a3a3a" stroke-width="0.5"/>
<circle cx="649.68" cy="247.75" r="3.5" fill="#5e5e5e" stroke="#3a3a3a" stroke-width="0.5"/>
<circle cx="565.80" cy="257.06" r="3.5" fill="#5e5e5e" stroke="#3a3a3a" stroke-width="0.5"/>
<circle cx="575.12" cy="257.06" r="3.5" fill="#5e5e5e" stroke="#3a3a3a" stroke-width="0.5"/>
<circle cx="584.44" cy="257.06" r="3.5" fill="#5e5e5e" stroke="#3a3a3a" stroke-width="0.5"/>
<circle cx="593.76" cy="257.06" r="3.5" fill="#5e5e5e" stroke="#3a3a3a" stroke-width="0.5"/>
<circle cx="603.08" cy="257.06" r="3.5" fill="#5e5e5e" stroke="#3a3a3a" stroke-width="0.5"/>
<circle cx="612.40" cy="257.06" r="3.5" fill="#5e5e5e" stroke="#3a3a3a" stroke-width="0.5"/>
<circle cx="621.72" cy="257.06" r="3.5" fill="#5e5e5e" stroke="#3a3a3a" stroke-width="0.5"/>
<circle cx="631.04" cy="257.06" r="3.5" fill="#5e5e5e" stroke="#3a3a3a" stroke-width="0.5"/>
<circle cx="640.36" cy="257.06" r="3.5" fill="#5e5e5e" stroke="#3a3a3a" stroke-width="0.5"/>
<circle cx="649.68" cy="257.06" r="3.5" fill="#5e5e5e" stroke="#3a3a3a" stroke-width="0.5"/>
<circle cx="565.80" cy="266.37" r="3.5" fill="#5e5e5e" stroke="#3a3a3a" stroke-width="0.5"/>
<circle cx="575.12" cy="266.37" r="3.5" fill="#5e5e5e" stroke="#3a3a3a" stroke-width="0.5"/>
<circle cx="584.44" cy="266.37" r="3.5" fill="#5e5e5e" stroke="#3a3a3a" stroke-width="0.5"/>
<circle cx="593.76" cy="266.37" r="3.5" fill="#5e5e5e" stroke="#3a3a3a" stroke-width="0.5"/>
<circle cx="603.08" cy="266.37" r="3.5" fill="#5e5e5e" stroke="#3a3a3a" stroke-width="0.5"/>
<circle cx="612.40" cy="266.37" r="3.5" fill="#5e5e5e" stroke="#3a3a3a" stroke-width="0.5"/>
<circle cx="621.72" cy="266.37" r="3.5" fill="#5e5e5e" stroke="#3a3a3a" stroke-width="0.5"/>
<circle cx="631.04" cy="266.37" r="3.5" fill="#5e5e5e" stroke="#3a3a3a" stroke-width="0.5"/>
<circle cx="640.36" cy="266.37" r="3.5" fill="#5e5e5e" stroke="#3a3a3a" stroke-width="0.5"/>
<circle cx="649.68" cy="266.37" r="3.5" fill="#5e5e5e" stroke="#3a3a3a" stroke-width="0.5"/>
<circle cx="565.80" cy="275.68" r="3.5" fill="#5e5e5e" stroke="#3a3a3a" stroke-width="0.5"/>
<circle cx="575.12" cy="275.68" r="3.5" fill="#5e5e5e" stroke="#3a3a3a" stroke-width="0.5"/>
<circle cx="584.44" cy="275.68" r="3.5" fill="#5e5e5e" stroke="#3a3a3a" stroke-width="0.5"/>
<circle cx="593.76" cy="275.68" r="3.5" fill="#5e5e5e" stroke="#3a3a3a" stroke-width="0.5"/>
<circle cx="603.08" cy="275.68" r="3.5" fill="#5e5e5e" stroke="#3a3a3a" stroke-width="0.5"/>
<circle cx="612.40" cy="275.68" r="3.5" fill="#5e5e5e" stroke="#3a3a3a" stroke-width="0.5"/>
<circle cx="621.72" cy="275.68" r="3.5" fill="#5e5e5e" stroke="#3a3a3a" stroke-width="0.5"/>
<circle cx="631.04" cy="275.68" r="3.5" fill="#5e5e5e" stroke="#3a3a3a" stroke-width="0.5"/>
<circle cx="640.36" cy="275.68" r="3.5" fill="#5e5e5e" stroke="#3a3a3a" stroke-width="0.5"/>
<circle cx="649.68" cy="275.68" r="3.5" fill="#5e5e5e" stroke="#3a3a3a" stroke-width="0.5"/>
<circle cx="565.80" cy="284.99" r="3.5" fill="#5e5e5e" stroke="#3a3a3a" stroke-width="0.5"/>
<circle cx="575.12" cy="284.99" r="3.5" fill="#5e5e5e" stroke="#3a3a3a" stroke-width="0.5"/>
<circle cx="584.44" cy="284.99" r="3.5" fill="#5e5e5e" stroke="#3a3a3a" stroke-width="0.5"/>
<circle cx="593.76" cy="284.99" r="3.5" fill="#5e5e5e" stroke="#3a3a3a" stroke-width="0.5"/>
<circle cx="603.08" cy="284.99" r="3.5" fill="#5e5e5e" stroke="#3a3a3a" stroke-width="0.5"/>
<circle cx="612.40" cy="284.99" r="3.5" fill="#5e5e5e" stroke="#3a3a3a" stroke-width="0.5"/>
<circle cx="621.72" cy="284.99" r="3.5" fill="#5e5e5e" stroke="#3a3a3a" stroke-width="0.5"/>
<circle cx="631.04" cy="284.99" r="3.5" fill="#5e5e5e" stroke="#3a3a3a" stroke-width="0.5"/>
<circle cx="640.36" cy="284.99" r="3.5" fill="#5e5e5e" stroke="#3a3a3a" stroke-width="0.5"/>
<circle cx="649.68" cy="284.99" r="3.5" fill="#5e5e5e" stroke="#3a3a3a" stroke-width="0.5"/>
<text x="563.40" y="298.30" font-size="7.5" text-anchor="start" fill="#231f20"><tspan font-style="italic">n</tspan> = 67, neuron</text>
<rect x="563.50" y="301.80" width="4.40" height="3.20" fill="#ffffff" stroke="#2a2a2a" stroke-width="0.7" rx="0.7"/>
<text x="572.00" y="306.00" font-size="7.5" text-anchor="start" fill="#231f20">No suppression</text>
<rect x="563.50" y="309.40" width="4.40" height="3.20" fill="#1565c8" stroke="#2a2a2a" stroke-width="0.7" rx="0.7"/>
<text x="572.00" y="313.60" font-size="7.5" text-anchor="start" fill="#231f20">Supression in <tspan font-style="italic">lipl-4 Tg</tspan> only</text>
<rect x="563.50" y="317.00" width="4.40" height="3.20" fill="#a0107a" stroke="#2a2a2a" stroke-width="0.7" rx="0.7"/>
<text x="572.00" y="321.20" font-size="7.5" text-anchor="start" fill="#231f20">Supression in <tspan font-style="italic">rsks-1(lf)</tspan> only</text>
<rect x="563.50" y="324.60" width="4.40" height="3.20" fill="#e0a010" stroke="#2a2a2a" stroke-width="0.7" rx="0.7"/>
<text x="572.00" y="328.80" font-size="7.5" text-anchor="start" fill="#231f20">Supression in <tspan font-style="italic">daf-2(lf)</tspan> only</text>
<rect x="563.50" y="332.20" width="4.40" height="3.20" fill="#5020a8" stroke="#2a2a2a" stroke-width="0.7" rx="0.7"/>
<text x="572.00" y="336.40" font-size="7.5" text-anchor="start" fill="#231f20">Supression in <tspan font-style="italic">lipl-4 Tg</tspan> &amp; <tspan font-style="italic">rsks-1(lf)</tspan></text>
<rect x="563.50" y="339.80" width="4.40" height="3.20" fill="#66703c" stroke="#2a2a2a" stroke-width="0.7" rx="0.7"/>
<text x="572.00" y="344.00" font-size="7.5" text-anchor="start" fill="#231f20">Supression in <tspan font-style="italic">lipl-4 Tg</tspan> &amp; <tspan font-style="italic">daf-2(lf)</tspan></text>
<rect x="563.50" y="347.40" width="4.40" height="3.20" fill="#c02030" stroke="#2a2a2a" stroke-width="0.7" rx="0.7"/>
<text x="572.00" y="351.60" font-size="7.5" text-anchor="start" fill="#231f20">Supression in <tspan font-style="italic">daf-2(lf)</tspan> &amp; <tspan font-style="italic">rsks-1(lf)</tspan></text>
<rect x="563.50" y="355.00" width="4.40" height="3.20" fill="#5a5a5a" stroke="#2a2a2a" stroke-width="0.7" rx="0.7"/>
<text x="572.00" y="359.20" font-size="7.5" text-anchor="start" fill="#231f20">Supression in all three</text>
<text x="225.00" y="383.80" font-size="13.2" text-anchor="start" fill="#000" font-weight="bold">f</text>
<text x="239.40" y="382.60" font-size="9.0" text-anchor="start" fill="#231f20"><tspan font-style="italic">hlh-30</tspan> in neuron</text>
<line x1="260.90" y1="434.80" x2="260.90" y2="539.60" stroke="#555" stroke-width="0.8"/>
<line x1="261.30" y1="539.80" x2="447.82" y2="539.80" stroke="#b8b8b8" stroke-width="1.0"/>
<line x1="257.90" y1="454.30" x2="260.90" y2="454.30" stroke="#555" stroke-width="0.6"/>
<text x="255.30" y="456.90" font-size="7.5" text-anchor="end" fill="#231f20">0.5</text>
<line x1="257.90" y1="481.30" x2="260.90" y2="481.30" stroke="#555" stroke-width="0.6"/>
<text x="255.30" y="483.90" font-size="7.5" text-anchor="end" fill="#231f20">0</text>
<line x1="257.90" y1="508.30" x2="260.90" y2="508.30" stroke="#555" stroke-width="0.6"/>
<text x="255.30" y="510.90" font-size="7.5" text-anchor="end" fill="#231f20">−0.5</text>
<line x1="257.90" y1="535.30" x2="260.90" y2="535.30" stroke="#555" stroke-width="0.6"/>
<text x="255.30" y="537.90" font-size="7.5" text-anchor="end" fill="#231f20">−1.0</text>
<text x="231.80" y="488.50" font-size="9.0" text-anchor="middle" fill="#231f20" transform="rotate(-90 231.80 488.50)">APA preference score</text>
<line x1="269.70" y1="460.24" x2="269.70" y2="511.54" stroke="#666" stroke-width="1.0"/>
<rect x="264.50" y="481.30" width="10.40" height="15.12" fill="#c8c8c8" stroke="#444" stroke-width="0.6"/>
<line x1="285.12" y1="438.10" x2="285.12" y2="535.30" stroke="#aaa" stroke-width="1.0"/>
<rect x="279.92" y="471.58" width="10.40" height="27.54" fill="#bcbcbc" stroke="#444" stroke-width="0.6"/>
<line x1="300.54" y1="438.10" x2="300.54" y2="519.10" stroke="#555" stroke-width="1.0"/>
<rect x="295.34" y="455.92" width="10.40" height="25.38" fill="#606060" stroke="#444" stroke-width="0.6"/>
<line x1="315.96" y1="462.40" x2="315.96" y2="517.48" stroke="#888" stroke-width="1.0"/>
<rect x="310.76" y="481.30" width="10.40" height="15.12" fill="#a8c0f0" stroke="#444" stroke-width="0.6"/>
<line x1="331.38" y1="467.80" x2="331.38" y2="514.78" stroke="#666" stroke-width="1.0"/>
<rect x="326.18" y="481.30" width="10.40" height="15.12" fill="#3070e0" stroke="#444" stroke-width="0.6"/>
<line x1="346.80" y1="438.10" x2="346.80" y2="519.10" stroke="#777" stroke-width="1.0"/>
<rect x="341.60" y="455.92" width="10.40" height="28.62" fill="#1c3fa0" stroke="#444" stroke-width="0.6"/>
<line x1="362.22" y1="453.22" x2="362.22" y2="527.20" stroke="#555" stroke-width="1.0"/>
<rect x="357.02" y="481.30" width="10.40" height="19.44" fill="#f0d890" stroke="#444" stroke-width="0.6"/>
<line x1="377.64" y1="455.92" x2="377.64" y2="525.58" stroke="#444" stroke-width="1.0"/>
<rect x="372.44" y="481.30" width="10.40" height="18.36" fill="#d8a010" stroke="#444" stroke-width="0.6"/>
<line x1="393.06" y1="459.70" x2="393.06" y2="518.56" stroke="#666" stroke-width="1.0"/>
<rect x="387.86" y="481.30" width="10.40" height="15.12" fill="#806010" stroke="#444" stroke-width="0.6"/>
<line x1="408.48" y1="455.38" x2="408.48" y2="535.30" stroke="#555" stroke-width="1.0"/>
<rect x="403.28" y="481.30" width="10.40" height="22.14" fill="#e0a0e0" stroke="#444" stroke-width="0.6"/>
<line x1="423.90" y1="451.06" x2="423.90" y2="535.30" stroke="#999" stroke-width="1.0"/>
<rect x="418.70" y="481.30" width="10.40" height="22.14" fill="#9010b0" stroke="#444" stroke-width="0.6"/>
<line x1="439.32" y1="477.52" x2="439.32" y2="492.64" stroke="#555" stroke-width="1.0"/>
<rect x="434.12" y="481.30" width="10.40" height="4.86" fill="#5a1a6a" stroke="#444" stroke-width="0.6"/>
<path fill="none" stroke="#6a6a6a" stroke-opacity="0.8" stroke-width="0.75" d="M264.4 472.2h0.8M274.0 509.6h0.8M271.1 484.0h0.8M270.8 472.1h0.8M266.4 447.6h0.8M272.7 481.5h0.8M266.1 477.9h0.8M270.6 438.5h0.8M272.0 495.8h0.8M275.5 471.8h0.8M272.3 503.5h0.8M269.2 503.5h0.8M264.9 438.7h0.8M264.2 471.8h0.8M273.9 481.5h0.8M268.7 497.7h0.8M272.2 481.5h0.8M263.9 503.2h0.8M274.2 471.9h0.8M265.6 496.7h0.8M271.2 454.9h0.8M265.5 484.8h0.8M274.4 481.5h0.8M270.0 483.3h0.8M274.3 438.5h0.8M266.9 482.8h0.8M269.0 503.1h0.8M275.2 461.3h0.8M274.1 503.1h0.8M264.3 503.2h0.8M269.4 519.4h0.8M275.8 519.6h0.8M272.6 471.8h0.8M273.7 438.7h0.8M267.8 519.3h0.8M271.6 438.7h0.8M273.9 535.7h0.8M269.2 493.8h0.8M274.7 490.4h0.8M263.4 481.7h0.8M265.4 438.7h0.8M267.4 503.3h0.8M264.6 481.6h0.8M269.8 438.6h0.8M272.2 472.0h0.8M275.4 481.7h0.8M266.3 472.2h0.8M274.9 503.2h0.8M265.1 503.2h0.8M266.3 462.3h0.8M269.5 491.5h0.8M268.9 503.7h0.8M264.7 503.4h0.8M267.5 472.2h0.8M276.0 472.2h0.8M264.4 535.7h0.8M264.1 503.3h0.8M273.3 479.4h0.8M269.1 519.7h0.8M266.7 481.5h0.8M264.6 481.8h0.8M268.8 535.7h0.8M272.4 535.7h0.8M263.9 472.0h0.8M271.9 438.5h0.8M284.6 438.6h0.8M291.1 472.1h0.8M282.1 482.5h0.8M283.6 454.9h0.8M279.2 438.5h0.8M286.2 447.8h0.8M287.9 519.4h0.8M283.0 497.8h0.8M279.2 503.2h0.8M286.6 449.0h0.8M285.4 482.2h0.8M289.0 457.5h0.8M287.6 519.4h0.8M283.3 438.7h0.8M286.8 519.5h0.8M278.7 503.3h0.8M287.7 494.5h0.8M288.2 503.5h0.8M288.1 438.6h0.8M285.0 519.3h0.8M288.6 471.9h0.8M280.5 503.5h0.8M286.0 519.6h0.8M287.4 438.6h0.8M285.3 503.4h0.8M290.2 472.1h0.8M278.8 535.5h0.8M284.5 519.3h0.8M281.4 438.5h0.8M291.0 438.5h0.8M290.1 519.5h0.8M284.9 438.5h0.8M284.5 438.5h0.8M282.7 438.6h0.8M288.1 535.5h0.8M290.2 524.0h0.8M283.5 519.6h0.8M283.3 535.7h0.8M279.9 438.7h0.8M290.3 507.9h0.8M281.1 438.5h0.8M289.2 535.5h0.8M285.8 519.3h0.8M284.5 438.5h0.8M280.4 494.4h0.8M284.8 523.3h0.8M291.3 438.5h0.8M285.9 503.4h0.8M281.3 438.6h0.8M281.8 487.4h0.8M281.7 454.9h0.8M288.4 481.5h0.8M285.2 535.7h0.8M282.1 519.6h0.8M291.0 472.0h0.8M279.4 450.9h0.8M284.8 503.1h0.8M290.7 438.5h0.8M290.8 452.5h0.8M285.4 438.6h0.8M287.0 535.6h0.8M284.7 496.9h0.8M290.6 519.6h0.8M281.9 447.8h0.8M279.5 503.5h0.8M281.5 481.7h0.8M291.1 447.7h0.8M281.7 519.5h0.8M282.6 535.6h0.8M284.1 471.9h0.8M281.6 503.1h0.8M287.5 447.7h0.8M285.2 519.4h0.8M289.3 535.7h0.8M282.5 438.5h0.8M280.5 503.1h0.8M280.5 438.5h0.8M290.3 438.5h0.8M291.1 464.5h0.8M281.3 503.7h0.8M279.5 463.2h0.8M282.9 454.8h0.8M283.2 438.6h0.8M290.7 523.7h0.8M289.3 454.6h0.8M283.5 438.5h0.8M283.5 516.9h0.8M284.0 532.8h0.8M280.3 485.2h0.8M288.3 535.7h0.8M282.4 502.7h0.8M282.3 475.7h0.8M288.4 438.7h0.8M290.4 474.1h0.8M291.1 438.5h0.8M282.1 498.1h0.8M289.1 535.7h0.8M288.5 490.7h0.8M283.3 447.8h0.8M282.9 438.5h0.8M291.0 449.8h0.8M285.1 438.7h0.8M284.0 472.1h0.8M287.3 519.4h0.8M286.0 519.6h0.8M297.3 519.6h0.8M301.6 438.5h0.8M302.1 464.0h0.8M305.0 471.8h0.8M296.5 438.7h0.8M305.7 472.3h0.8M297.4 519.5h0.8M301.5 461.9h0.8M296.7 454.9h0.8M296.7 503.2h0.8M296.4 447.6h0.8M301.2 438.5h0.8M301.2 438.5h0.8M303.1 438.6h0.8M306.4 438.6h0.8M299.5 481.8h0.8M298.9 438.8h0.8M294.1 519.6h0.8M304.4 485.2h0.8M296.2 519.5h0.8M305.9 481.6h0.8M300.6 503.4h0.8M306.1 438.5h0.8M306.6 471.8h0.8M306.7 438.5h0.8M299.1 438.5h0.8M297.6 471.5h0.8M296.7 452.3h0.8M294.6 503.1h0.8M304.9 519.7h0.8M302.2 503.3h0.8M299.6 471.9h0.8M302.1 472.2h0.8M300.0 519.4h0.8M295.7 472.1h0.8M300.7 438.5h0.8M303.6 503.5h0.8M300.6 474.3h0.8M304.8 508.5h0.8M306.0 479.7h0.8M304.0 506.1h0.8M298.8 514.2h0.8M297.0 469.4h0.8M300.6 519.7h0.8M297.7 502.6h0.8M296.4 447.9h0.8M296.2 535.6h0.8M302.0 454.4h0.8M301.6 519.5h0.8M306.5 511.0h0.8M297.5 471.9h0.8M299.8 454.6h0.8M304.7 519.7h0.8M301.7 503.1h0.8M294.5 447.9h0.8M300.7 503.3h0.8M297.3 508.8h0.8M298.7 438.7h0.8M301.6 454.8h0.8M300.2 438.5h0.8M304.2 503.1h0.8M302.4 438.7h0.8M299.8 454.6h0.8M297.5 460.1h0.8M297.1 481.7h0.8M301.2 519.7h0.8M296.9 508.0h0.8M305.6 447.9h0.8M302.8 456.1h0.8M300.1 519.4h0.8M303.1 447.6h0.8M297.7 461.9h0.8M297.5 519.5h0.8M294.2 535.7h0.8M306.3 438.5h0.8M298.7 465.7h0.8M302.2 438.5h0.8M300.1 503.1h0.8M304.8 463.0h0.8M297.5 481.3h0.8M294.4 519.7h0.8M302.3 438.5h0.8M301.7 519.7h0.8M305.6 519.4h0.8M306.3 519.3h0.8M294.5 438.7h0.8M302.2 453.7h0.8M298.2 519.6h0.8M297.7 438.6h0.8M306.6 454.8h0.8M294.4 519.4h0.8M314.0 471.9h0.8M320.7 481.8h0.8M309.5 519.6h0.8M309.5 519.3h0.8M311.9 471.9h0.8M312.5 502.3h0.8M317.7 472.1h0.8M319.7 519.4h0.8M320.6 513.1h0.8M316.0 438.6h0.8M315.5 519.6h0.8M317.9 519.4h0.8M318.1 447.8h0.8M312.5 492.7h0.8M315.6 493.6h0.8M320.4 438.6h0.8M311.2 477.7h0.8M314.6 512.3h0.8M318.8 474.1h0.8M314.6 472.2h0.8M318.0 491.6h0.8M317.3 472.1h0.8M315.1 519.3h0.8M312.4 519.5h0.8M318.0 477.4h0.8M317.7 480.4h0.8M317.6 519.4h0.8M317.5 472.0h0.8M311.8 503.1h0.8M315.8 519.5h0.8M316.5 515.8h0.8M316.2 519.3h0.8M318.8 481.7h0.8M316.2 503.2h0.8M314.6 535.7h0.8M312.0 500.4h0.8M310.6 498.3h0.8M314.9 472.2h0.8M312.9 503.4h0.8M316.3 519.3h0.8M312.2 519.5h0.8M317.7 519.4h0.8M322.0 481.8h0.8M320.1 503.2h0.8M320.2 498.3h0.8M321.5 503.4h0.8M319.9 514.7h0.8M311.6 474.7h0.8M310.1 483.0h0.8M314.0 438.6h0.8M311.6 519.4h0.8M319.3 484.4h0.8M320.0 474.5h0.8M319.1 503.3h0.8M312.9 519.5h0.8M320.4 519.7h0.8M320.4 481.6h0.8M310.4 471.8h0.8M317.4 503.5h0.8M316.1 535.7h0.8M318.8 519.7h0.8M312.2 481.6h0.8M320.2 472.0h0.8M316.0 519.5h0.8M318.0 471.8h0.8M313.9 493.3h0.8M318.9 519.7h0.8M310.6 487.8h0.8M317.4 438.6h0.8M317.4 519.3h0.8M317.2 503.2h0.8M329.7 519.3h0.8M332.1 478.2h0.8M325.6 503.1h0.8M332.4 438.7h0.8M325.5 494.2h0.8M337.6 503.1h0.8M333.3 472.2h0.8M325.6 509.1h0.8M334.4 519.4h0.8M330.9 503.2h0.8M337.0 503.2h0.8M335.5 438.7h0.8M326.1 492.3h0.8M332.7 498.1h0.8M337.2 471.9h0.8M332.1 479.0h0.8M335.6 438.5h0.8M335.7 503.1h0.8M329.8 447.7h0.8M335.4 503.1h0.8M335.8 477.0h0.8M333.8 438.5h0.8M326.4 498.9h0.8M337.0 519.6h0.8M330.9 503.2h0.8M330.9 438.5h0.8M329.7 438.7h0.8M326.9 503.2h0.8M335.2 479.1h0.8M325.8 503.2h0.8M336.7 519.5h0.8M326.4 503.3h0.8M332.2 503.1h0.8M327.8 438.5h0.8M336.6 438.6h0.8M334.8 513.0h0.8M325.6 503.1h0.8M328.8 519.3h0.8M327.7 438.7h0.8M336.0 474.5h0.8M337.0 472.2h0.8M330.8 485.7h0.8M336.6 472.1h0.8M333.6 535.7h0.8M328.2 472.1h0.8M336.9 454.5h0.8M326.3 496.3h0.8M329.7 464.0h0.8M327.7 471.8h0.8M334.1 438.6h0.8M331.3 438.7h0.8M335.4 438.5h0.8M330.2 438.7h0.8M329.7 473.1h0.8M331.3 474.6h0.8M328.3 519.5h0.8M347.1 503.5h0.8M349.6 472.1h0.8M349.3 493.5h0.8M351.6 519.7h0.8M347.0 479.4h0.8M343.2 438.5h0.8M350.9 438.6h0.8M342.8 438.5h0.8M347.1 503.3h0.8M349.6 438.5h0.8M346.8 438.5h0.8M342.1 438.5h0.8M347.7 519.7h0.8M343.3 459.5h0.8M345.8 488.0h0.8M345.5 476.9h0.8M345.1 477.6h0.8M351.8 454.3h0.8M347.2 503.4h0.8M340.6 472.0h0.8M348.5 535.6h0.8M342.0 442.8h0.8M343.9 438.5h0.8M344.0 471.8h0.8M352.7 438.5h0.8M347.2 438.5h0.8M344.1 438.7h0.8M341.4 438.6h0.8M347.7 519.5h0.8M346.3 438.5h0.8M344.3 503.3h0.8M345.3 438.5h0.8M351.5 438.6h0.8M344.0 481.7h0.8M341.2 519.6h0.8M341.5 483.9h0.8M341.7 471.9h0.8M348.3 454.6h0.8M347.0 453.0h0.8M349.3 495.3h0.8M349.0 501.6h0.8M351.2 509.2h0.8M346.8 519.5h0.8M345.8 473.2h0.8M345.4 470.3h0.8M345.4 503.4h0.8M350.5 454.8h0.8M347.9 438.5h0.8M351.2 535.7h0.8M345.9 503.0h0.8M341.4 518.6h0.8M350.4 471.8h0.8M347.0 477.6h0.8M344.9 454.7h0.8M347.8 472.0h0.8M346.1 480.1h0.8M347.2 491.7h0.8M343.4 465.8h0.8M347.0 452.6h0.8M351.0 519.4h0.8M345.9 447.6h0.8M346.9 438.5h0.8M348.1 438.5h0.8M349.3 519.6h0.8M347.9 447.5h0.8M347.5 438.5h0.8M353.3 503.3h0.8M342.3 472.1h0.8M347.1 438.6h0.8M349.6 519.6h0.8M341.6 438.6h0.8M345.0 472.3h0.8M347.9 438.5h0.8M344.4 453.4h0.8M343.5 535.7h0.8M344.3 503.4h0.8M352.9 454.8h0.8M347.2 481.9h0.8M351.0 438.7h0.8M344.0 438.6h0.8M344.7 438.5h0.8M343.8 503.5h0.8M346.1 509.1h0.8M342.7 454.3h0.8M352.8 503.4h0.8M343.7 438.5h0.8M341.9 438.5h0.8M365.8 481.8h0.8M364.3 519.6h0.8M362.2 481.8h0.8M365.8 438.5h0.8M357.8 463.9h0.8M360.3 438.5h0.8M358.9 503.2h0.8M363.8 501.6h0.8M365.0 438.5h0.8M359.8 454.9h0.8M360.3 438.5h0.8M359.4 519.4h0.8M356.3 519.5h0.8M357.3 472.2h0.8M366.5 471.9h0.8M365.1 476.4h0.8M361.7 481.1h0.8M362.4 503.3h0.8M365.4 518.2h0.8M359.1 503.2h0.8M364.4 447.8h0.8M359.8 501.6h0.8M363.0 517.1h0.8M365.6 519.5h0.8M361.7 503.3h0.8M360.0 488.5h0.8M359.9 472.1h0.8M356.7 454.8h0.8M362.8 472.1h0.8M367.9 535.6h0.8M359.6 519.4h0.8M367.8 503.2h0.8M365.4 519.4h0.8M366.4 481.6h0.8M362.1 519.3h0.8M361.5 503.4h0.8M356.7 521.0h0.8M365.7 464.3h0.8M366.5 447.7h0.8M359.8 515.4h0.8M367.5 471.8h0.8M367.8 455.5h0.8M364.5 519.7h0.8M362.0 438.5h0.8M356.1 447.7h0.8M356.8 503.3h0.8M361.1 454.7h0.8M357.2 481.7h0.8M357.2 519.5h0.8M357.4 508.8h0.8M362.4 481.9h0.8M361.4 472.2h0.8M364.8 486.9h0.8M358.3 498.6h0.8M365.8 519.7h0.8M361.3 438.6h0.8M366.7 481.6h0.8M360.6 496.6h0.8M360.6 519.7h0.8M357.5 473.0h0.8M357.2 438.5h0.8M359.3 477.6h0.8M363.3 471.8h0.8M358.1 438.7h0.8M364.7 519.5h0.8M366.9 497.7h0.8M362.2 454.9h0.8M356.6 468.4h0.8M360.8 519.4h0.8M357.1 482.4h0.8M355.8 472.0h0.8M358.0 524.2h0.8M368.2 481.7h0.8M362.9 525.1h0.8M363.6 476.8h0.8M366.1 454.8h0.8M379.8 460.6h0.8M377.8 519.4h0.8M376.4 454.7h0.8M377.4 447.8h0.8M382.7 502.3h0.8M380.9 501.1h0.8M377.4 519.7h0.8M374.7 506.8h0.8M374.0 438.6h0.8M379.6 438.5h0.8M379.0 519.3h0.8M375.6 519.3h0.8M379.5 438.5h0.8M375.6 511.2h0.8M379.2 505.1h0.8M371.9 503.4h0.8M377.2 503.4h0.8M371.9 535.7h0.8M372.4 503.4h0.8M378.6 503.5h0.8M375.4 503.3h0.8M375.1 484.3h0.8M380.5 489.3h0.8M372.9 438.5h0.8M381.2 471.9h0.8M372.3 535.7h0.8M373.2 438.5h0.8M383.9 519.6h0.8M381.5 503.4h0.8M373.1 500.6h0.8M371.9 471.8h0.8M383.4 471.8h0.8M379.5 438.6h0.8M374.6 519.3h0.8M375.9 486.7h0.8M379.8 514.7h0.8M382.6 471.9h0.8M381.3 519.6h0.8M382.0 513.3h0.8M371.9 505.2h0.8M373.1 535.7h0.8M380.5 438.6h0.8M372.0 457.7h0.8M371.6 519.4h0.8M372.7 535.7h0.8M383.1 454.7h0.8M380.6 438.5h0.8M378.4 472.0h0.8M378.2 438.5h0.8M382.5 503.1h0.8M376.6 472.1h0.8M376.3 499.0h0.8M383.2 535.7h0.8M374.3 503.4h0.8M383.0 438.5h0.8M379.5 503.4h0.8M378.6 482.6h0.8M376.1 503.2h0.8M379.1 472.0h0.8M383.0 503.4h0.8M377.3 503.3h0.8M374.2 481.6h0.8M379.5 519.5h0.8M382.1 463.7h0.8M381.8 454.6h0.8M377.0 519.5h0.8M380.2 471.8h0.8M381.0 471.9h0.8M377.9 503.4h0.8M376.1 454.8h0.8M375.4 503.4h0.8M379.4 519.7h0.8M376.7 511.9h0.8M378.9 501.8h0.8M381.7 438.5h0.8M383.2 471.9h0.8M391.5 447.9h0.8M396.4 471.8h0.8M392.6 503.3h0.8M392.7 494.5h0.8M397.3 472.0h0.8M387.1 519.5h0.8M396.6 481.6h0.8M387.9 438.7h0.8M387.3 519.5h0.8M387.3 503.3h0.8M399.5 471.9h0.8M391.3 485.6h0.8M390.5 472.2h0.8M397.3 471.8h0.8M394.1 472.0h0.8M398.5 519.6h0.8M390.1 481.8h0.8M394.3 503.2h0.8M387.3 535.7h0.8M397.8 503.5h0.8M398.6 503.4h0.8M395.3 519.5h0.8M388.5 438.6h0.8M388.3 506.8h0.8M392.0 519.3h0.8M388.6 438.5h0.8M397.4 503.5h0.8M396.7 510.0h0.8M387.5 495.9h0.8M393.7 503.4h0.8M392.1 471.9h0.8M398.3 460.3h0.8M393.0 438.6h0.8M392.9 513.5h0.8M389.5 438.5h0.8M394.2 517.1h0.8M398.4 498.7h0.8M396.8 519.6h0.8M392.6 519.5h0.8M395.0 472.2h0.8M391.4 481.8h0.8M392.8 467.5h0.8M389.1 472.0h0.8M397.7 489.4h0.8M394.0 535.7h0.8M394.1 519.7h0.8M395.8 503.2h0.8M387.1 438.5h0.8M391.0 503.2h0.8M392.7 493.1h0.8M388.5 438.5h0.8M392.8 535.5h0.8M396.3 519.3h0.8M396.8 438.5h0.8M388.7 503.4h0.8M396.0 479.4h0.8M398.3 519.3h0.8M394.0 480.8h0.8M397.9 519.4h0.8M388.1 535.7h0.8M390.1 472.6h0.8M389.4 505.3h0.8M395.5 438.5h0.8M396.9 471.9h0.8M391.0 503.2h0.8M386.6 519.4h0.8M392.0 438.7h0.8M389.3 472.1h0.8M390.4 519.4h0.8M395.4 519.7h0.8M390.1 519.6h0.8M389.8 497.6h0.8M397.8 483.0h0.8M393.1 471.8h0.8M397.0 507.8h0.8M404.3 481.9h0.8M406.6 519.6h0.8M408.7 481.5h0.8M410.6 535.5h0.8M414.4 503.3h0.8M406.9 503.2h0.8M406.7 519.5h0.8M412.5 531.1h0.8M411.7 481.7h0.8M411.1 514.4h0.8M413.6 447.8h0.8M402.6 481.7h0.8M405.6 519.4h0.8M407.7 497.2h0.8M406.9 519.4h0.8M410.8 479.0h0.8M412.3 438.5h0.8M404.1 438.5h0.8M405.1 476.0h0.8M404.7 458.8h0.8M406.2 535.7h0.8M404.6 535.7h0.8M412.5 499.7h0.8M411.2 495.9h0.8M405.6 503.2h0.8M405.9 493.4h0.8M412.7 519.7h0.8M405.4 454.5h0.8M410.8 438.5h0.8M406.0 519.7h0.8M411.0 535.6h0.8M407.4 485.5h0.8M411.7 500.3h0.8M408.8 519.5h0.8M406.4 519.7h0.8M413.1 472.0h0.8M409.4 481.7h0.8M412.5 472.7h0.8M408.5 503.2h0.8M412.3 476.3h0.8M411.1 519.7h0.8M402.9 503.4h0.8M404.8 519.6h0.8M412.4 438.5h0.8M412.9 503.5h0.8M402.5 481.6h0.8M405.2 526.9h0.8M412.9 519.6h0.8M408.9 481.2h0.8M408.5 519.7h0.8M409.6 438.5h0.8M404.9 471.9h0.8M412.1 456.1h0.8M414.3 509.4h0.8M407.9 472.1h0.8M408.7 438.6h0.8M414.6 481.6h0.8M410.8 463.3h0.8M410.0 478.0h0.8M410.2 454.8h0.8M403.0 511.3h0.8M412.4 454.5h0.8M408.2 502.7h0.8M408.2 472.2h0.8M403.8 525.4h0.8M405.3 472.1h0.8M414.3 519.4h0.8M411.3 500.8h0.8M403.4 488.7h0.8M402.1 481.8h0.8M408.0 472.9h0.8M402.9 519.5h0.8M408.3 503.1h0.8M404.6 503.5h0.8M403.8 499.0h0.8M411.3 471.9h0.8M403.2 487.8h0.8M407.1 535.7h0.8M402.5 535.6h0.8M413.9 535.6h0.8M403.3 438.7h0.8M404.7 479.0h0.8M405.0 510.3h0.8M413.9 438.5h0.8M412.7 519.5h0.8M411.7 467.0h0.8M413.0 438.5h0.8M411.9 454.8h0.8M425.3 472.0h0.8M427.8 535.6h0.8M426.5 465.2h0.8M423.0 503.1h0.8M426.6 535.7h0.8M425.9 471.8h0.8M427.9 471.5h0.8M421.2 472.3h0.8M420.4 472.2h0.8M421.8 458.1h0.8M426.8 488.8h0.8M427.3 499.2h0.8M430.0 454.7h0.8M424.4 481.6h0.8M428.9 501.4h0.8M420.2 535.7h0.8M420.8 519.7h0.8M423.1 535.7h0.8M425.1 535.6h0.8M426.3 471.8h0.8M418.7 519.6h0.8M423.2 471.9h0.8M419.7 494.1h0.8M428.2 519.7h0.8M426.1 519.4h0.8M419.5 438.6h0.8M419.7 481.6h0.8M418.2 481.8h0.8M429.9 519.7h0.8M427.6 503.5h0.8M420.6 481.9h0.8M420.3 454.6h0.8M418.1 471.8h0.8M417.8 519.6h0.8M418.6 438.5h0.8M420.4 472.1h0.8M418.3 535.7h0.8M428.7 519.5h0.8M419.2 463.4h0.8M418.9 517.8h0.8M426.9 535.7h0.8M420.1 472.1h0.8M430.2 454.9h0.8M424.1 438.7h0.8M424.4 471.9h0.8M425.9 471.9h0.8M427.0 519.3h0.8M428.7 504.7h0.8M418.5 438.5h0.8M429.6 519.5h0.8M429.7 503.5h0.8M429.7 472.0h0.8M420.2 535.6h0.8M429.9 518.7h0.8M417.7 454.6h0.8M419.5 523.1h0.8M418.1 481.5h0.8M428.6 519.4h0.8M429.2 513.0h0.8M428.7 438.6h0.8M427.9 481.5h0.8M420.6 472.1h0.8M429.1 481.6h0.8M418.8 519.5h0.8M420.1 487.7h0.8M423.5 438.5h0.8M423.6 519.7h0.8M419.7 503.2h0.8M428.7 491.2h0.8M429.1 471.8h0.8M426.0 519.6h0.8M420.0 478.2h0.8M418.4 472.0h0.8M422.0 535.7h0.8M423.7 472.1h0.8M422.2 503.4h0.8M425.3 482.6h0.8M427.1 519.2h0.8M428.4 438.5h0.8M418.3 503.4h0.8M417.7 438.5h0.8M419.3 535.5h0.8M422.8 481.8h0.8M441.7 488.1h0.8M440.1 472.1h0.8M434.0 438.5h0.8M443.1 438.5h0.8M435.7 503.5h0.8M444.5 503.2h0.8M442.1 438.5h0.8M437.0 481.0h0.8M434.0 503.5h0.8M444.2 472.1h0.8M438.1 483.2h0.8M434.2 535.5h0.8M434.9 479.3h0.8M442.1 483.4h0.8M433.5 472.2h0.8M435.0 438.5h0.8M439.0 519.3h0.8M436.8 483.9h0.8M443.1 491.4h0.8M443.6 490.8h0.8M440.3 471.8h0.8M445.2 519.5h0.8M445.2 480.9h0.8M436.8 483.9h0.8M443.8 519.6h0.8M444.6 490.9h0.8M441.2 490.1h0.8M444.1 447.6h0.8M436.8 471.8h0.8M442.4 519.5h0.8M434.4 454.5h0.8M440.4 492.5h0.8M438.5 478.0h0.8M440.1 477.9h0.8M439.9 481.2h0.8M443.2 477.6h0.8M439.5 519.3h0.8M435.0 484.6h0.8M436.8 488.0h0.8M442.5 438.6h0.8M441.9 482.1h0.8M433.5 438.5h0.8M434.4 486.3h0.8"/>
<path fill="none" stroke="#f4f4f4" stroke-opacity="0.55" stroke-width="0.75" d="M267.3 484.9h0.8M267.3 490.0h0.8M285.2 472.1h0.8M280.8 492.0h0.8M283.0 481.8h0.8M281.4 487.5h0.8M287.8 475.7h0.8M300.6 471.8h0.8M304.4 469.3h0.8M299.0 472.0h0.8M304.3 460.2h0.8M304.6 471.9h0.8M296.4 479.9h0.8M298.0 468.3h0.8M327.2 482.0h0.8M333.7 481.7h0.8M327.4 481.8h0.8M332.9 492.7h0.8M350.4 459.4h0.8M346.1 479.0h0.8M347.1 464.7h0.8M350.5 469.8h0.8M348.2 483.9h0.8M350.3 480.3h0.8M345.2 471.9h0.8M360.8 481.8h0.8M366.5 481.8h0.8M358.3 481.8h0.8M373.3 481.8h0.8M373.5 499.3h0.8M393.5 483.8h0.8M392.6 481.9h0.8M405.6 503.5h0.8M406.4 503.3h0.8M407.7 503.2h0.8M408.1 503.2h0.8M411.0 484.0h0.8M412.4 503.3h0.8M407.1 481.8h0.8M427.4 503.1h0.8M427.2 503.2h0.8M421.4 503.2h0.8M420.8 491.5h0.8M420.3 486.1h0.8"/>
<line x1="264.50" y1="486.16" x2="274.90" y2="486.16" stroke="#111" stroke-width="0.9"/>
<line x1="269.70" y1="539.40" x2="269.70" y2="542.20" stroke="#555" stroke-width="0.6"/>
<text x="269.70" y="552.30" font-size="7.0" text-anchor="middle" fill="#231f20">D1</text>
<line x1="279.92" y1="481.84" x2="290.32" y2="481.84" stroke="#111" stroke-width="0.9"/>
<line x1="285.12" y1="539.40" x2="285.12" y2="542.20" stroke="#555" stroke-width="0.6"/>
<text x="285.12" y="552.30" font-size="7.0" text-anchor="middle" fill="#231f20">D6</text>
<line x1="295.34" y1="475.36" x2="305.74" y2="475.36" stroke="#111" stroke-width="0.9"/>
<line x1="300.54" y1="539.40" x2="300.54" y2="542.20" stroke="#555" stroke-width="0.6"/>
<text x="300.54" y="552.30" font-size="7.0" text-anchor="middle" fill="#231f20">D12</text>
<line x1="310.76" y1="485.08" x2="321.16" y2="485.08" stroke="#111" stroke-width="0.9"/>
<line x1="315.96" y1="539.40" x2="315.96" y2="542.20" stroke="#555" stroke-width="0.6"/>
<text x="315.96" y="552.30" font-size="7.0" text-anchor="middle" fill="#231f20">D1</text>
<line x1="326.18" y1="484.54" x2="336.58" y2="484.54" stroke="#111" stroke-width="0.9"/>
<line x1="331.38" y1="539.40" x2="331.38" y2="542.20" stroke="#555" stroke-width="0.6"/>
<text x="331.38" y="552.30" font-size="7.0" text-anchor="middle" fill="#231f20">D6</text>
<line x1="341.60" y1="474.28" x2="352.00" y2="474.28" stroke="#111" stroke-width="0.9"/>
<line x1="346.80" y1="539.40" x2="346.80" y2="542.20" stroke="#555" stroke-width="0.6"/>
<text x="346.80" y="552.30" font-size="7.0" text-anchor="middle" fill="#231f20">D12</text>
<line x1="357.02" y1="484.54" x2="367.42" y2="484.54" stroke="#111" stroke-width="0.9"/>
<line x1="362.22" y1="539.40" x2="362.22" y2="542.20" stroke="#555" stroke-width="0.6"/>
<text x="362.22" y="552.30" font-size="7.0" text-anchor="middle" fill="#231f20">D1</text>
<line x1="372.44" y1="484.54" x2="382.84" y2="484.54" stroke="#111" stroke-width="0.9"/>
<line x1="377.64" y1="539.40" x2="377.64" y2="542.20" stroke="#555" stroke-width="0.6"/>
<text x="377.64" y="552.30" font-size="7.0" text-anchor="middle" fill="#231f20">D6</text>
<line x1="387.86" y1="486.16" x2="398.26" y2="486.16" stroke="#111" stroke-width="0.9"/>
<line x1="393.06" y1="539.40" x2="393.06" y2="542.20" stroke="#555" stroke-width="0.6"/>
<text x="393.06" y="552.30" font-size="7.0" text-anchor="middle" fill="#231f20">D12</text>
<line x1="403.28" y1="489.40" x2="413.68" y2="489.40" stroke="#111" stroke-width="0.9"/>
<line x1="408.48" y1="539.40" x2="408.48" y2="542.20" stroke="#555" stroke-width="0.6"/>
<text x="408.48" y="552.30" font-size="7.0" text-anchor="middle" fill="#231f20">D1</text>
<line x1="418.70" y1="486.70" x2="429.10" y2="486.70" stroke="#111" stroke-width="0.9"/>
<line x1="423.90" y1="539.40" x2="423.90" y2="542.20" stroke="#555" stroke-width="0.6"/>
<text x="423.90" y="552.30" font-size="7.0" text-anchor="middle" fill="#231f20">D6</text>
<line x1="434.12" y1="483.46" x2="444.52" y2="483.46" stroke="#111" stroke-width="0.9"/>
<line x1="439.32" y1="539.40" x2="439.32" y2="542.20" stroke="#555" stroke-width="0.6"/>
<text x="439.32" y="552.30" font-size="7.0" text-anchor="middle" fill="#231f20">D12</text>
<line x1="264.40" y1="556.30" x2="305.20" y2="556.30" stroke="#777" stroke-width="0.6"/>
<text x="284.60" y="566.50" font-size="8.6" text-anchor="middle" fill="#231f20" font-style="italic">WT</text>
<line x1="311.70" y1="556.30" x2="351.50" y2="556.30" stroke="#777" stroke-width="0.6"/>
<text x="331.50" y="566.50" font-size="8.6" text-anchor="middle" fill="#231f20" font-style="italic">lipl-4 Tg</text>
<line x1="357.00" y1="556.30" x2="398.00" y2="556.30" stroke="#777" stroke-width="0.6"/>
<text x="377.50" y="566.50" font-size="8.6" text-anchor="middle" fill="#231f20" font-style="italic">daf-2(lf)</text>
<line x1="403.20" y1="556.30" x2="444.20" y2="556.30" stroke="#777" stroke-width="0.6"/>
<text x="423.50" y="566.50" font-size="8.6" text-anchor="middle" fill="#231f20" font-style="italic">rsks-1(lf)</text>
<polyline points="300.70,397.50 300.70,392.30 439.80,392.30 439.80,397.50" fill="none" stroke="#555" stroke-width="0.6"/>
<text x="371.80" y="389.30" font-size="6.2" text-anchor="middle" fill="#333" style="stroke:none">P = 0.045</text>
<polyline points="300.70,411.00 300.70,406.60 393.30,406.60 393.30,411.00" fill="none" stroke="#555" stroke-width="0.6"/>
<text x="355.10" y="403.80" font-size="6.2" text-anchor="middle" fill="#333" style="stroke:none"><tspan font-style="italic">P</tspan> &lt; 0.0001</text>
<polyline points="268.40,425.70 268.40,421.30 300.70,421.30 300.70,425.70" fill="none" stroke="#555" stroke-width="0.6"/>
<text x="284.60" y="418.00" font-size="6.2" text-anchor="middle" fill="#333" style="stroke:none">P &lt; 0.0001</text>
<polyline points="284.60,436.50 284.60,433.00 300.70,433.00 300.70,436.50" fill="none" stroke="#555" stroke-width="0.6"/>
<text x="293.30" y="431.60" font-size="6.2" text-anchor="middle" fill="#333" style="stroke:none"><tspan font-style="italic">P</tspan> &lt; 0.0001</text>
<polyline points="314.00,425.20 314.00,421.50 345.90,421.50 345.90,425.20" fill="none" stroke="#555" stroke-width="0.6"/>
<text x="331.00" y="418.20" font-size="6.2" text-anchor="middle" fill="#333" style="stroke:none">P = 0.0149</text>
<polyline points="330.00,436.10 330.00,432.60 345.90,432.60 345.90,436.10" fill="none" stroke="#555" stroke-width="0.6"/>
<text x="338.50" y="431.40" font-size="6.2" text-anchor="middle" fill="#333" style="stroke:none"><tspan font-style="italic">P</tspan> = 0.0149</text>
<polyline points="408.20,430.80 408.20,426.40 440.50,426.40 440.50,430.80" fill="none" stroke="#555" stroke-width="0.6"/>
<text x="423.10" y="422.30" font-size="6.2" text-anchor="middle" fill="#333" style="stroke:none">P = 0.006</text>
<text x="459.90" y="382.60" font-size="13.2" text-anchor="start" fill="#000" font-weight="bold">g</text>
<text x="476.40" y="382.60" font-size="9.0" text-anchor="start" fill="#231f20"><tspan font-style="italic">daf-16</tspan> in hypodermis</text>
<line x1="495.30" y1="433.70" x2="495.30" y2="539.60" stroke="#555" stroke-width="0.8"/>
<line x1="495.70" y1="539.80" x2="684.49" y2="539.80" stroke="#b8b8b8" stroke-width="1.0"/>
<line x1="492.30" y1="433.70" x2="495.30" y2="433.70" stroke="#555" stroke-width="0.6"/>
<text x="489.70" y="436.30" font-size="7.5" text-anchor="end" fill="#231f20">1.0</text>
<line x1="492.30" y1="460.60" x2="495.30" y2="460.60" stroke="#555" stroke-width="0.6"/>
<text x="489.70" y="463.20" font-size="7.5" text-anchor="end" fill="#231f20">0.5</text>
<line x1="492.30" y1="487.50" x2="495.30" y2="487.50" stroke="#555" stroke-width="0.6"/>
<text x="489.70" y="490.10" font-size="7.5" text-anchor="end" fill="#231f20">0</text>
<line x1="492.30" y1="514.40" x2="495.30" y2="514.40" stroke="#555" stroke-width="0.6"/>
<text x="489.70" y="517.00" font-size="7.5" text-anchor="end" fill="#231f20">−0.5</text>
<text x="467.60" y="487.00" font-size="9.0" text-anchor="middle" fill="#231f20" transform="rotate(-90 467.60 487.00)">APA preference score</text>
<line x1="504.50" y1="446.07" x2="504.50" y2="532.15" stroke="#444" stroke-width="1.0"/>
<rect x="499.30" y="478.35" width="10.40" height="22.60" fill="#a0a0a0" stroke="#444" stroke-width="0.6"/>
<line x1="520.09" y1="444.46" x2="520.09" y2="525.16" stroke="#666" stroke-width="1.0"/>
<rect x="514.89" y="474.59" width="10.40" height="22.06" fill="#a8a8a8" stroke="#444" stroke-width="0.6"/>
<line x1="535.68" y1="438.00" x2="535.68" y2="520.86" stroke="#555" stroke-width="1.0"/>
<rect x="530.48" y="464.90" width="10.40" height="23.67" fill="#606060" stroke="#444" stroke-width="0.6"/>
<line x1="551.27" y1="450.92" x2="551.27" y2="527.85" stroke="#444" stroke-width="1.0"/>
<rect x="546.07" y="476.74" width="10.40" height="20.44" fill="#b0c0f0" stroke="#444" stroke-width="0.6"/>
<line x1="566.86" y1="440.16" x2="566.86" y2="533.23" stroke="#888" stroke-width="1.0"/>
<rect x="561.66" y="472.44" width="10.40" height="29.59" fill="#3070e8" stroke="#444" stroke-width="0.6"/>
<line x1="582.45" y1="445.54" x2="582.45" y2="523.55" stroke="#444" stroke-width="1.0"/>
<rect x="577.25" y="471.90" width="10.40" height="20.98" fill="#2040a0" stroke="#444" stroke-width="0.6"/>
<line x1="598.04" y1="443.38" x2="598.04" y2="532.15" stroke="#666" stroke-width="1.0"/>
<rect x="592.84" y="476.20" width="10.40" height="24.21" fill="#f0d890" stroke="#444" stroke-width="0.6"/>
<line x1="613.63" y1="445.54" x2="613.63" y2="532.15" stroke="#555" stroke-width="1.0"/>
<rect x="608.43" y="478.35" width="10.40" height="22.06" fill="#d8a010" stroke="#444" stroke-width="0.6"/>
<line x1="629.22" y1="443.38" x2="629.22" y2="532.15" stroke="#666" stroke-width="1.0"/>
<rect x="624.02" y="474.59" width="10.40" height="24.21" fill="#806010" stroke="#444" stroke-width="0.6"/>
<line x1="644.81" y1="453.61" x2="644.81" y2="520.32" stroke="#555" stroke-width="1.0"/>
<rect x="639.61" y="479.43" width="10.40" height="17.22" fill="#d8a0e0" stroke="#444" stroke-width="0.6"/>
<line x1="660.40" y1="440.69" x2="660.40" y2="517.63" stroke="#777" stroke-width="1.0"/>
<rect x="655.20" y="472.97" width="10.40" height="24.75" fill="#9010b0" stroke="#444" stroke-width="0.6"/>
<line x1="675.99" y1="450.92" x2="675.99" y2="523.01" stroke="#555" stroke-width="1.0"/>
<rect x="670.79" y="472.97" width="10.40" height="20.98" fill="#5a1a6a" stroke="#444" stroke-width="0.6"/>
<path fill="none" stroke="#7a7a7a" stroke-opacity="0.7" stroke-width="0.75" d="M504.1 519.9h1.2M505.4 501.8h1.2M508.3 467.4h1.2M508.5 461.2h1.2M510.3 528.9h1.2M505.9 476.3h1.2M504.0 449.9h1.2M506.0 480.7h1.2M504.1 504.3h1.2M508.0 443.4h1.2M501.3 505.4h1.2M500.0 490.7h1.2M509.3 482.1h1.2M501.0 532.5h1.2M510.3 492.1h1.2M500.1 501.5h1.2M499.9 467.3h1.2M505.2 517.3h1.2M500.7 481.7h1.2M501.5 465.4h1.2M502.1 463.4h1.2M503.2 514.4h1.2M499.7 477.3h1.2M501.6 514.2h1.2M502.1 504.2h1.2M503.2 468.7h1.2M505.3 474.3h1.2M500.3 516.8h1.2M501.5 462.2h1.2M500.6 508.2h1.2M505.7 456.6h1.2M507.0 512.0h1.2M501.2 526.6h1.2M508.2 507.1h1.2M503.9 459.1h1.2M505.4 449.8h1.2M510.7 460.8h1.2M510.5 532.5h1.2M505.1 526.1h1.2M507.3 455.1h1.2M509.5 464.3h1.2M506.4 507.5h1.2M503.5 457.6h1.2M505.4 458.2h1.2M505.6 503.8h1.2M509.4 492.0h1.2M507.3 499.1h1.2M508.0 477.5h1.2M505.8 510.7h1.2M504.5 487.3h1.2M498.6 510.5h1.2M506.4 468.4h1.2M506.2 475.2h1.2M508.6 463.2h1.2M503.8 494.8h1.2M503.1 456.8h1.2M506.7 475.8h1.2M500.5 508.7h1.2M502.2 513.5h1.2M504.4 507.0h1.2M508.0 479.9h1.2M502.2 483.4h1.2M498.3 449.7h1.2M500.2 512.1h1.2M506.2 492.2h1.2M506.7 450.0h1.2M498.1 467.6h1.2M504.7 502.4h1.2M507.2 472.1h1.2M500.2 482.0h1.2M503.9 521.4h1.2M508.8 519.7h1.2M507.6 516.4h1.2M506.2 462.1h1.2M509.3 514.2h1.2M504.9 448.4h1.2M509.4 505.0h1.2M499.5 502.6h1.2M505.0 502.2h1.2M498.8 490.6h1.2M508.1 527.0h1.2M499.8 460.9h1.2M508.9 467.4h1.2M504.4 451.1h1.2M501.2 525.1h1.2M505.9 495.7h1.2M502.2 484.4h1.2M501.0 455.0h1.2M504.8 449.2h1.2M501.4 468.0h1.2M499.6 509.3h1.2M503.3 488.1h1.2M504.4 490.4h1.2M510.4 467.5h1.2M504.2 509.4h1.2M509.7 465.2h1.2M505.7 493.8h1.2M500.5 510.7h1.2M503.6 502.7h1.2M508.2 501.2h1.2M507.4 512.5h1.2M502.3 454.9h1.2M508.9 503.3h1.2M500.7 460.5h1.2M508.3 510.5h1.2M498.2 465.2h1.2M509.4 502.9h1.2M504.5 467.3h1.2M499.3 516.3h1.2M500.8 518.4h1.2M510.9 449.6h1.2M499.2 524.4h1.2M505.5 505.0h1.2M500.4 508.2h1.2M507.0 491.5h1.2M498.2 449.7h1.2M507.0 463.5h1.2M503.4 478.4h1.2M507.7 530.3h1.2M508.8 491.1h1.2M503.4 462.4h1.2M506.8 456.8h1.2M503.4 466.7h1.2M502.6 526.5h1.2M505.9 476.8h1.2M501.7 489.2h1.2M505.2 500.9h1.2M509.7 472.4h1.2M509.5 497.3h1.2M501.3 492.1h1.2M499.3 449.8h1.2M508.7 512.9h1.2M505.2 526.9h1.2M508.2 477.6h1.2M498.6 492.1h1.2M504.2 518.8h1.2M498.8 467.4h1.2M504.8 496.3h1.2M502.3 491.9h1.2M499.7 468.1h1.2M509.7 510.5h1.2M510.4 528.2h1.2M509.4 526.2h1.2M501.8 527.7h1.2M509.0 484.7h1.2M505.6 464.3h1.2M500.6 493.5h1.2M505.4 500.6h1.2M510.5 486.9h1.2M501.4 469.3h1.2M506.1 532.4h1.2M502.1 487.0h1.2M507.1 506.8h1.2M509.9 449.5h1.2M499.2 529.2h1.2M503.7 500.9h1.2M499.1 467.6h1.2M503.2 509.0h1.2M499.4 460.4h1.2M508.0 510.4h1.2M507.7 499.8h1.2M509.6 485.1h1.2M508.9 512.4h1.2M499.5 525.8h1.2M502.4 511.4h1.2M501.1 526.0h1.2M501.9 472.8h1.2M502.8 460.9h1.2M509.9 508.3h1.2M503.8 453.9h1.2M502.3 506.3h1.2M501.9 462.6h1.2M503.1 502.0h1.2M501.3 501.1h1.2M508.5 486.0h1.2M501.7 510.3h1.2M505.4 467.4h1.2M508.2 476.5h1.2M499.1 467.3h1.2M499.1 508.2h1.2M500.8 481.5h1.2M507.3 489.8h1.2M502.6 498.6h1.2M504.4 480.1h1.2M509.5 471.6h1.2M508.2 480.4h1.2M510.0 456.1h1.2M504.7 508.6h1.2M503.6 463.5h1.2M509.6 476.0h1.2M501.0 471.6h1.2M509.4 500.5h1.2M506.4 461.2h1.2M499.2 517.1h1.2M505.4 484.7h1.2M501.1 508.6h1.2M505.1 505.7h1.2M501.6 491.3h1.2M505.1 503.1h1.2M503.1 463.6h1.2M509.6 501.3h1.2M506.7 507.5h1.2M500.9 471.8h1.2M509.3 461.1h1.2M502.1 519.1h1.2M500.9 523.8h1.2M508.4 532.4h1.2M499.5 461.8h1.2M504.3 491.4h1.2M509.5 496.7h1.2M505.1 510.6h1.2M500.9 496.3h1.2M502.5 492.1h1.2M506.7 501.6h1.2M510.6 465.3h1.2M498.6 476.3h1.2M509.6 492.0h1.2M505.9 514.8h1.2M503.2 489.5h1.2M510.3 508.4h1.2M506.8 478.0h1.2M504.6 495.8h1.2M503.1 461.9h1.2M503.6 506.2h1.2M510.8 465.2h1.2M505.8 475.7h1.2M506.5 461.1h1.2M508.3 465.3h1.2M500.4 479.9h1.2M502.7 485.4h1.2M504.7 508.1h1.2M500.9 460.6h1.2M500.9 478.6h1.2M507.1 449.7h1.2M504.1 478.0h1.2M509.8 532.7h1.2M505.1 495.8h1.2M507.8 453.0h1.2M500.6 513.8h1.2M509.3 507.7h1.2M501.2 513.9h1.2M500.1 501.9h1.2M510.2 449.5h1.2M507.0 497.5h1.2M507.7 470.4h1.2M499.9 449.7h1.2M502.8 493.7h1.2M510.5 508.5h1.2M505.8 504.3h1.2M507.5 467.3h1.2M509.6 487.3h1.2M503.4 459.0h1.2M504.8 518.1h1.2M503.8 502.4h1.2M499.2 504.9h1.2M507.3 455.1h1.2M503.2 465.3h1.2M501.1 508.3h1.2M503.4 502.1h1.2M509.4 461.8h1.2M508.3 477.1h1.2M507.1 486.6h1.2M508.0 524.1h1.2M498.0 467.3h1.2M503.2 532.4h1.2M499.6 493.8h1.2M504.5 506.1h1.2M504.2 448.4h1.2M502.4 492.3h1.2M508.6 515.7h1.2M508.4 498.6h1.2M499.8 528.2h1.2M509.3 505.6h1.2M500.1 471.2h1.2M503.8 451.8h1.2M507.2 449.8h1.2M506.6 449.8h1.2M506.4 500.5h1.2M508.9 488.5h1.2M506.0 478.2h1.2M504.9 532.6h1.2M502.3 471.7h1.2M502.2 489.7h1.2M498.4 532.3h1.2M507.1 500.7h1.2M500.7 489.5h1.2M507.4 503.2h1.2M504.6 474.1h1.2M504.7 473.7h1.2M507.9 517.6h1.2M503.7 492.3h1.2M501.3 464.5h1.2M506.7 471.8h1.2M503.8 496.4h1.2M508.7 488.4h1.2M502.1 461.2h1.2M501.6 517.8h1.2M508.2 508.2h1.2M500.8 465.4h1.2M504.4 528.9h1.2M500.2 447.7h1.2M507.3 466.9h1.2M501.8 490.4h1.2M502.5 501.2h1.2M499.7 472.2h1.2M502.9 492.9h1.2M509.1 481.7h1.2M503.4 494.0h1.2M503.9 501.9h1.2M508.9 474.1h1.2M510.0 449.7h1.2M502.8 509.4h1.2M508.0 532.6h1.2M498.7 454.5h1.2M499.2 487.9h1.2M502.1 492.4h1.2M502.0 475.5h1.2M500.3 475.2h1.2M502.2 473.4h1.2M503.1 497.7h1.2M508.5 492.2h1.2M506.3 477.5h1.2M506.8 513.9h1.2M501.7 462.7h1.2M500.2 498.0h1.2M502.7 477.1h1.2M500.0 461.0h1.2M506.6 488.7h1.2M503.2 530.6h1.2M499.9 476.8h1.2M505.4 484.5h1.2M502.9 490.1h1.2M502.0 487.0h1.2M510.4 465.3h1.2M507.3 520.0h1.2M505.8 505.6h1.2M507.9 499.8h1.2M502.7 467.5h1.2M500.8 519.7h1.2M499.3 494.4h1.2M505.8 500.5h1.2M502.5 449.2h1.2M508.5 504.5h1.2M506.4 494.7h1.2M506.0 518.8h1.2M505.2 511.3h1.2M502.7 467.2h1.2M498.8 467.6h1.2M501.0 487.8h1.2M501.5 528.0h1.2M507.6 506.1h1.2M507.2 500.6h1.2M503.5 483.7h1.2M500.6 477.7h1.2M506.3 512.2h1.2M505.4 489.1h1.2M506.8 521.0h1.2M505.9 487.9h1.2M499.1 447.4h1.2M499.0 522.4h1.2M502.9 467.5h1.2M507.6 534.6h1.2M503.2 508.1h1.2M503.3 486.2h1.2M507.6 529.6h1.2M510.1 449.9h1.2M500.8 489.5h1.2M511.0 449.7h1.2M508.3 474.0h1.2M503.4 512.1h1.2M510.4 458.1h1.2M508.0 477.0h1.2M498.8 517.4h1.2M504.7 505.9h1.2M498.1 449.5h1.2M506.9 480.8h1.2M507.7 461.3h1.2M509.9 523.9h1.2M506.6 513.3h1.2M503.1 491.7h1.2M506.2 501.2h1.2M507.4 514.4h1.2M503.6 449.8h1.2M502.2 467.5h1.2M510.4 523.2h1.2M509.3 492.9h1.2M501.1 508.6h1.2M506.3 478.0h1.2M500.7 504.8h1.2M505.9 482.1h1.2M501.5 490.6h1.2M506.0 458.8h1.2M508.0 496.4h1.2M506.2 492.9h1.2M505.3 487.7h1.2M505.7 492.2h1.2M504.1 519.5h1.2M502.3 469.0h1.2M503.3 447.4h1.2M510.4 521.6h1.2M501.7 471.1h1.2M509.8 476.7h1.2M504.6 463.9h1.2M508.9 527.0h1.2M508.2 511.0h1.2M501.3 517.6h1.2M501.8 486.3h1.2M505.1 466.2h1.2M500.3 464.0h1.2M500.3 506.0h1.2M508.8 460.8h1.2M509.0 449.7h1.2M509.6 485.6h1.2M505.8 493.2h1.2M506.5 515.6h1.2M502.6 477.2h1.2M502.2 488.8h1.2M500.0 517.0h1.2M507.3 473.0h1.2M500.8 495.4h1.2M507.8 476.6h1.2M509.1 506.2h1.2M502.3 496.3h1.2M504.0 462.1h1.2M507.4 499.2h1.2M502.2 476.5h1.2M509.2 484.3h1.2M501.8 497.2h1.2M503.5 532.7h1.2M507.8 509.9h1.2M502.9 524.9h1.2M502.9 493.6h1.2M506.1 530.6h1.2M503.1 510.8h1.2M505.6 498.5h1.2M503.2 447.1h1.2M506.9 476.6h1.2M504.0 526.8h1.2M506.1 470.8h1.2M507.8 469.6h1.2M509.2 465.5h1.2M498.8 455.4h1.2M500.5 507.1h1.2M504.6 506.6h1.2M499.1 492.4h1.2M502.4 494.0h1.2M501.6 494.1h1.2M504.1 487.6h1.2M510.6 510.6h1.2M508.3 506.2h1.2M498.6 497.0h1.2M507.3 510.4h1.2M499.4 467.7h1.2M509.3 479.3h1.2M500.5 493.6h1.2M508.5 510.6h1.2M504.5 483.7h1.2M502.4 488.6h1.2M504.3 500.1h1.2M504.8 527.2h1.2M500.3 498.2h1.2M498.6 490.6h1.2M505.5 488.4h1.2M505.5 490.4h1.2M502.6 504.6h1.2M504.7 502.0h1.2M499.6 528.0h1.2M503.7 493.2h1.2M502.3 465.1h1.2M507.9 455.1h1.2M502.6 469.3h1.2M506.2 464.7h1.2M506.1 510.7h1.2M499.5 472.0h1.2M505.5 467.8h1.2M506.8 508.4h1.2M499.4 453.6h1.2M523.1 490.0h1.2M516.1 486.5h1.2M520.9 460.8h1.2M519.1 508.5h1.2M524.0 482.3h1.2M522.4 465.4h1.2M522.4 485.7h1.2M523.0 517.1h1.2M521.0 492.0h1.2M518.6 509.7h1.2M519.9 497.9h1.2M522.5 499.1h1.2M522.9 510.5h1.2M521.3 463.8h1.2M519.6 456.1h1.2M517.3 490.6h1.2M514.0 460.9h1.2M514.9 532.4h1.2M516.5 507.9h1.2M522.8 491.4h1.2M522.4 451.0h1.2M524.8 490.5h1.2M524.4 502.1h1.2M517.1 504.2h1.2M517.4 467.6h1.2M520.2 474.3h1.2M524.4 512.6h1.2M520.6 476.4h1.2M523.0 502.6h1.2M515.5 512.1h1.2M524.7 501.3h1.2M520.8 469.8h1.2M516.0 482.2h1.2M515.6 452.5h1.2M520.9 517.3h1.2M514.4 532.6h1.2M520.8 482.9h1.2M523.5 456.5h1.2M515.7 484.6h1.2M520.1 467.5h1.2M519.9 508.4h1.2M526.2 467.4h1.2M518.4 478.3h1.2M525.5 446.8h1.2M525.3 456.3h1.2M522.5 467.4h1.2M521.3 477.3h1.2M514.0 467.3h1.2M513.9 510.3h1.2M520.3 510.4h1.2M514.9 484.9h1.2M524.4 510.3h1.2M518.4 511.0h1.2M517.6 462.5h1.2M523.8 449.7h1.2M517.4 483.2h1.2M523.6 471.2h1.2M517.4 465.4h1.2M519.2 474.9h1.2M518.4 495.6h1.2M515.7 494.3h1.2M523.6 498.3h1.2M522.6 490.3h1.2M520.1 524.4h1.2M515.6 468.0h1.2M516.6 514.0h1.2M525.3 448.0h1.2M522.3 479.1h1.2M525.1 449.6h1.2M519.5 449.0h1.2M516.3 519.8h1.2M516.8 474.8h1.2M521.0 467.4h1.2M525.5 483.1h1.2M517.6 449.9h1.2M520.1 451.0h1.2M517.4 461.0h1.2M519.6 447.1h1.2M523.7 482.4h1.2M514.7 493.2h1.2M516.3 449.6h1.2M520.1 449.6h1.2M515.0 494.6h1.2M515.3 484.1h1.2M519.8 495.7h1.2M518.6 495.0h1.2M519.7 500.9h1.2M524.7 456.7h1.2M517.3 467.2h1.2M521.2 508.5h1.2M520.8 497.5h1.2M518.8 471.4h1.2M521.1 467.6h1.2M525.0 505.6h1.2M524.0 506.6h1.2M524.9 505.0h1.2M524.7 501.7h1.2M525.1 473.5h1.2M523.7 470.3h1.2M523.7 460.2h1.2M516.8 510.6h1.2M520.2 523.7h1.2M523.1 507.5h1.2M521.6 458.9h1.2M526.4 508.5h1.2M516.3 500.5h1.2M525.9 464.4h1.2M516.2 503.0h1.2M524.5 520.8h1.2M524.6 462.2h1.2M520.0 467.6h1.2M522.1 510.6h1.2M520.3 469.5h1.2M521.6 487.3h1.2M525.2 498.9h1.2M525.5 502.1h1.2M524.9 477.2h1.2M517.4 498.7h1.2M523.9 489.7h1.2M525.9 461.0h1.2M517.3 498.1h1.2M524.9 478.8h1.2M523.5 465.2h1.2M524.3 506.6h1.2M520.5 511.2h1.2M516.4 483.0h1.2M517.1 449.7h1.2M517.9 466.9h1.2M522.6 473.3h1.2M519.8 492.0h1.2M514.9 521.0h1.2M522.1 483.3h1.2M523.3 465.3h1.2M521.3 498.3h1.2M514.3 508.5h1.2M515.1 502.9h1.2M515.0 465.3h1.2M519.9 456.8h1.2M516.1 501.9h1.2M517.2 449.8h1.2M519.0 484.5h1.2M523.6 504.8h1.2M518.5 489.4h1.2M519.8 488.8h1.2M518.8 468.4h1.2M523.5 446.8h1.2M518.0 496.8h1.2M522.1 472.6h1.2M521.7 506.0h1.2M525.1 483.8h1.2M522.3 503.0h1.2M517.0 465.2h1.2M525.2 483.5h1.2M518.8 458.0h1.2M522.3 472.4h1.2M521.0 465.3h1.2M520.6 490.9h1.2M523.0 510.6h1.2M520.9 503.4h1.2M520.0 503.0h1.2M515.8 491.7h1.2M520.8 527.7h1.2M523.2 497.1h1.2M522.6 460.9h1.2M517.4 494.9h1.2M515.1 493.9h1.2M518.1 490.3h1.2M516.2 505.4h1.2M517.0 439.4h1.2M516.6 456.2h1.2M518.1 469.1h1.2M519.8 507.9h1.2M520.8 509.6h1.2M525.2 477.0h1.2M516.5 482.7h1.2M519.5 467.1h1.2M521.9 471.7h1.2M516.4 460.9h1.2M516.8 455.2h1.2M517.3 513.1h1.2M522.4 521.8h1.2M521.2 510.5h1.2M521.4 439.5h1.2M515.3 520.5h1.2M517.1 508.5h1.2M518.6 497.5h1.2M521.0 474.6h1.2M519.8 465.8h1.2M518.1 468.6h1.2M521.6 464.7h1.2M519.2 491.8h1.2M519.8 501.2h1.2M524.2 509.8h1.2M515.1 491.0h1.2M521.3 461.9h1.2M516.9 481.1h1.2M522.4 470.4h1.2M518.9 488.9h1.2M525.1 445.6h1.2M517.1 519.6h1.2M526.0 483.9h1.2M520.7 490.3h1.2M522.8 491.1h1.2M524.3 478.9h1.2M519.5 472.4h1.2M521.7 470.5h1.2M518.4 465.1h1.2M515.3 480.5h1.2M517.6 475.7h1.2M514.8 464.4h1.2M516.2 510.7h1.2M526.0 449.7h1.2M516.8 487.5h1.2M524.6 460.2h1.2M520.0 510.6h1.2M517.4 506.2h1.2M514.9 471.1h1.2M524.6 449.8h1.2M522.1 446.5h1.2M520.0 502.3h1.2M520.5 467.5h1.2M516.4 471.3h1.2M520.1 478.5h1.2M524.5 519.3h1.2M524.6 449.7h1.2M522.6 490.5h1.2M524.0 521.4h1.2M514.0 449.9h1.2M515.1 494.8h1.2M525.5 510.5h1.2M515.8 449.6h1.2M515.5 467.5h1.2M519.8 499.7h1.2M518.8 478.1h1.2M518.7 514.9h1.2M522.6 495.5h1.2M523.3 461.1h1.2M525.2 469.1h1.2M523.5 465.2h1.2M518.3 532.5h1.2M524.9 486.7h1.2M524.8 479.0h1.2M522.0 457.8h1.2M518.9 514.0h1.2M515.5 469.8h1.2M517.8 468.3h1.2M519.5 493.1h1.2M518.5 504.4h1.2M524.3 510.2h1.2M513.6 492.3h1.2M514.9 474.1h1.2M519.9 506.8h1.2M525.3 456.4h1.2M518.2 491.6h1.2M516.5 447.5h1.2M516.6 501.4h1.2M523.1 465.4h1.2M515.5 502.5h1.2M522.5 439.5h1.2M523.8 518.2h1.2M515.2 471.0h1.2M515.2 473.1h1.2M516.1 480.3h1.2M520.7 454.2h1.2M523.9 497.3h1.2M522.9 474.8h1.2M520.2 487.6h1.2M522.5 449.7h1.2M517.6 461.6h1.2M520.1 467.4h1.2M525.1 493.7h1.2M518.6 498.6h1.2M518.9 521.8h1.2M515.5 508.5h1.2M521.2 476.6h1.2M517.1 473.3h1.2M514.1 510.7h1.2M519.8 488.7h1.2M514.6 508.9h1.2M524.4 497.5h1.2M521.5 449.0h1.2M516.3 515.4h1.2M517.5 459.8h1.2M518.1 464.3h1.2M520.0 449.6h1.2M518.7 507.0h1.2M521.2 469.3h1.2M521.6 508.3h1.2M524.6 476.5h1.2M521.6 452.6h1.2M521.6 497.2h1.2M518.6 479.0h1.2M524.2 471.0h1.2M517.7 451.2h1.2M517.5 481.5h1.2M524.0 489.6h1.2M521.8 523.1h1.2M516.4 499.2h1.2M513.8 439.4h1.2M526.2 465.4h1.2M520.9 461.5h1.2M520.8 510.7h1.2M524.9 478.9h1.2M521.8 464.4h1.2M523.0 499.0h1.2M519.2 476.8h1.2M520.9 470.0h1.2M515.2 459.0h1.2M517.6 439.6h1.2M519.7 471.8h1.2M518.3 490.4h1.2M520.7 525.5h1.2M522.1 477.9h1.2M517.0 462.5h1.2M513.6 467.4h1.2M518.6 458.1h1.2M515.9 510.3h1.2M525.3 459.5h1.2M516.1 465.4h1.2M525.4 449.5h1.2M517.4 477.1h1.2M519.3 462.9h1.2M519.8 476.8h1.2M518.3 494.6h1.2M524.5 439.5h1.2M517.6 461.1h1.2M515.1 461.7h1.2M523.2 460.9h1.2M519.6 506.0h1.2M517.6 510.1h1.2M521.3 451.3h1.2M516.1 449.9h1.2M523.7 509.4h1.2M524.5 461.0h1.2M524.9 509.1h1.2M514.7 484.4h1.2M517.9 481.7h1.2M518.8 465.3h1.2M517.9 498.5h1.2M520.0 508.4h1.2M519.4 496.5h1.2M518.5 481.6h1.2M524.2 479.1h1.2M519.7 511.3h1.2M523.4 500.8h1.2M523.1 521.4h1.2M521.1 494.0h1.2M525.9 467.5h1.2M523.4 492.4h1.2M524.7 500.8h1.2M525.0 449.6h1.2M515.1 503.4h1.2M514.8 466.5h1.2M514.5 483.0h1.2M524.1 489.4h1.2M522.3 465.4h1.2M519.7 461.0h1.2M521.1 480.5h1.2M524.0 452.3h1.2M521.6 485.5h1.2M525.2 470.7h1.2M517.1 480.0h1.2M516.9 522.2h1.2M523.1 485.3h1.2M525.0 457.2h1.2M523.1 487.4h1.2M517.7 464.4h1.2M516.8 508.5h1.2M525.2 448.9h1.2M523.9 457.1h1.2M515.7 496.4h1.2M514.6 457.9h1.2M525.2 508.3h1.2M522.2 489.5h1.2M523.7 467.2h1.2M522.0 481.8h1.2M517.2 471.5h1.2M522.9 476.4h1.2M518.4 514.7h1.2M522.4 508.5h1.2M521.4 471.7h1.2M523.8 448.1h1.2M514.3 488.5h1.2M521.3 503.7h1.2M514.9 507.0h1.2M525.9 475.1h1.2M525.2 471.8h1.2M524.2 505.0h1.2M518.5 473.8h1.2M517.4 493.7h1.2M515.2 461.0h1.2M519.3 485.2h1.2M517.4 460.8h1.2M517.8 474.3h1.2M522.5 463.4h1.2M523.9 480.9h1.2M524.5 449.6h1.2M516.0 463.0h1.2M516.3 499.4h1.2M517.3 484.4h1.2M515.6 499.2h1.2M518.0 486.6h1.2M521.8 476.4h1.2M525.1 453.8h1.2M520.4 532.7h1.2M525.1 510.7h1.2M520.4 522.4h1.2M515.5 470.8h1.2M518.0 468.9h1.2M519.1 478.9h1.2M517.9 491.4h1.2M525.9 464.9h1.2M515.5 499.1h1.2M526.0 439.4h1.2M519.3 476.3h1.2M524.0 500.2h1.2M521.2 483.3h1.2M522.5 508.5h1.2M517.0 466.9h1.2M520.6 532.4h1.2M514.5 460.8h1.2M515.3 484.0h1.2M515.1 497.0h1.2M521.3 481.8h1.2M519.3 467.6h1.2M524.0 504.4h1.2M519.0 471.9h1.2M520.7 525.3h1.2M520.8 467.6h1.2M514.2 508.4h1.2M518.7 532.4h1.2M522.8 511.8h1.2M514.1 508.7h1.2M519.8 439.3h1.2M515.3 492.4h1.2M521.6 518.7h1.2M515.7 458.8h1.2M515.2 476.1h1.2M523.8 470.5h1.2M524.4 473.4h1.2M523.8 458.7h1.2M522.8 488.7h1.2M519.3 502.2h1.2M523.2 447.4h1.2M517.3 451.0h1.2M515.6 482.1h1.2M531.4 479.3h1.2M534.6 465.5h1.2M535.2 450.5h1.2M536.4 452.6h1.2M532.0 468.3h1.2M534.7 439.7h1.2M540.4 510.4h1.2M539.2 470.7h1.2M541.4 465.2h1.2M536.3 477.4h1.2M532.1 504.1h1.2M540.5 439.3h1.2M532.4 439.4h1.2M540.0 472.6h1.2M540.4 465.1h1.2M540.4 484.7h1.2M530.5 492.3h1.2M538.7 509.5h1.2M534.3 455.8h1.2M539.7 452.6h1.2M540.9 471.2h1.2M534.4 488.5h1.2M537.2 483.6h1.2M530.0 502.6h1.2M536.2 503.4h1.2M536.8 465.6h1.2M532.9 494.7h1.2M541.5 465.1h1.2M536.5 483.8h1.2M532.6 453.6h1.2M531.4 439.5h1.2M535.5 493.9h1.2M533.6 489.3h1.2M538.1 481.0h1.2M536.3 470.2h1.2M534.4 486.7h1.2M531.9 461.7h1.2M535.6 439.9h1.2M537.2 492.1h1.2M538.6 485.1h1.2M536.3 498.1h1.2M534.7 508.3h1.2M531.7 481.4h1.2M532.2 483.7h1.2M535.9 508.5h1.2M540.0 513.9h1.2M534.2 485.7h1.2M536.1 511.8h1.2M536.2 474.9h1.2M536.7 493.5h1.2M536.2 444.2h1.2M537.5 517.4h1.2M532.9 479.2h1.2M538.8 503.1h1.2M540.6 472.8h1.2M537.9 482.9h1.2M540.0 500.0h1.2M539.5 467.4h1.2M536.2 493.0h1.2M540.4 485.6h1.2M541.5 513.6h1.2M532.8 439.3h1.2M540.1 449.7h1.2M529.9 449.9h1.2M537.2 516.0h1.2M540.6 472.3h1.2M533.0 474.9h1.2M535.5 451.2h1.2M535.6 455.7h1.2M536.7 498.6h1.2M535.8 449.8h1.2M537.9 502.4h1.2M533.9 476.9h1.2M535.8 525.9h1.2M530.5 439.4h1.2M531.7 439.5h1.2M532.0 475.4h1.2M535.0 469.7h1.2M539.1 451.8h1.2M538.6 493.1h1.2M531.6 449.7h1.2M535.0 484.6h1.2M538.9 483.8h1.2M531.8 442.5h1.2M533.8 457.2h1.2M534.2 487.8h1.2M535.5 520.7h1.2M533.1 462.7h1.2M533.1 458.0h1.2M534.9 497.5h1.2M530.9 475.6h1.2M534.1 441.3h1.2M529.8 508.3h1.2M532.5 515.7h1.2M532.5 457.7h1.2M538.8 470.1h1.2M532.4 474.9h1.2M535.3 472.0h1.2M539.2 486.4h1.2M539.6 439.6h1.2M536.3 464.1h1.2M531.5 489.2h1.2M536.2 476.9h1.2M533.0 456.8h1.2M534.9 506.3h1.2M538.9 476.2h1.2M535.0 484.1h1.2M539.1 502.4h1.2M534.3 493.9h1.2M541.5 461.0h1.2M532.8 532.4h1.2M539.6 465.4h1.2M534.1 467.6h1.2M537.7 497.3h1.2M536.7 449.9h1.2M537.9 483.4h1.2M536.5 461.4h1.2M533.2 506.4h1.2M537.5 507.1h1.2M539.9 469.2h1.2M535.4 498.7h1.2M538.8 439.5h1.2M539.9 461.5h1.2M541.1 501.0h1.2M538.5 506.5h1.2M533.5 465.4h1.2M539.5 465.5h1.2M541.4 485.8h1.2M539.8 462.8h1.2M534.6 444.2h1.2M531.2 487.3h1.2M535.5 478.4h1.2M532.9 464.0h1.2M534.8 459.6h1.2M532.6 492.4h1.2M531.3 494.1h1.2M538.0 507.9h1.2M532.9 461.1h1.2M539.0 439.5h1.2M530.2 439.4h1.2M539.4 467.5h1.2M534.4 497.8h1.2M539.9 510.5h1.2M531.2 465.3h1.2M536.3 532.4h1.2M530.9 498.0h1.2M531.7 469.3h1.2M530.5 452.0h1.2M540.6 439.3h1.2M537.6 460.0h1.2M534.5 465.3h1.2M534.1 483.8h1.2M536.0 492.7h1.2M531.3 449.6h1.2M540.8 476.1h1.2M540.6 479.7h1.2M534.6 502.4h1.2M535.3 519.1h1.2M539.4 499.7h1.2M535.6 458.7h1.2M529.7 510.5h1.2M532.4 466.7h1.2M537.6 449.9h1.2M533.1 495.9h1.2M535.2 486.2h1.2M538.2 501.1h1.2M531.2 471.9h1.2M531.1 471.5h1.2M537.5 510.4h1.2M530.6 460.9h1.2M537.4 465.2h1.2M539.2 452.6h1.2M538.7 504.1h1.2M541.6 449.8h1.2M539.1 449.6h1.2M531.3 463.3h1.2M540.6 440.9h1.2M537.2 456.2h1.2M535.7 458.3h1.2M535.0 483.0h1.2M541.0 472.6h1.2M539.8 464.8h1.2M530.0 492.6h1.2M536.3 504.5h1.2M531.7 458.3h1.2M535.0 502.8h1.2M538.1 479.3h1.2M531.1 463.3h1.2M539.7 458.8h1.2M533.1 516.0h1.2M531.0 450.8h1.2M536.2 492.2h1.2M533.1 492.2h1.2M534.3 467.7h1.2M533.4 463.0h1.2M532.6 478.4h1.2M536.0 455.0h1.2M539.2 439.5h1.2M533.3 452.7h1.2M531.5 470.8h1.2M540.1 470.5h1.2M531.0 484.1h1.2M529.3 510.6h1.2M539.0 489.8h1.2M540.6 466.2h1.2M529.5 465.2h1.2M537.8 493.2h1.2M539.4 439.7h1.2M536.0 445.4h1.2M539.4 510.5h1.2M533.5 480.8h1.2M530.5 510.7h1.2M536.8 503.1h1.2M531.9 488.2h1.2M536.7 469.0h1.2M541.3 465.4h1.2M530.6 471.8h1.2M531.2 461.7h1.2M531.9 467.4h1.2M539.2 478.6h1.2M530.4 460.9h1.2M534.6 502.9h1.2M531.6 465.1h1.2M531.0 467.4h1.2M539.7 508.2h1.2M533.4 503.6h1.2M536.2 492.6h1.2M533.0 490.9h1.2M530.3 439.4h1.2M531.4 441.8h1.2M529.7 469.6h1.2M532.2 465.3h1.2M539.3 479.9h1.2M533.9 456.8h1.2M531.8 492.1h1.2M531.7 467.4h1.2M536.7 504.0h1.2M538.0 461.1h1.2M540.7 464.0h1.2M537.4 476.7h1.2M532.5 465.5h1.2M537.9 481.6h1.2M534.3 449.7h1.2M537.7 484.2h1.2M537.1 492.2h1.2M535.7 475.8h1.2M539.4 485.2h1.2M530.5 438.6h1.2M539.7 450.0h1.2M540.4 472.6h1.2M541.3 513.7h1.2M533.5 495.8h1.2M539.9 493.4h1.2M530.8 440.3h1.2M536.6 449.8h1.2M532.0 514.1h1.2M530.8 508.2h1.2M536.0 463.2h1.2M540.2 519.3h1.2M533.8 460.3h1.2M531.1 492.0h1.2M536.5 465.2h1.2M536.6 467.8h1.2M534.6 439.6h1.2M540.0 457.0h1.2M540.2 492.3h1.2M536.9 483.2h1.2M534.9 509.9h1.2M538.3 492.3h1.2M531.8 446.2h1.2M531.1 461.9h1.2M531.5 464.6h1.2M535.2 464.0h1.2M534.0 496.4h1.2M532.7 505.0h1.2M532.2 490.8h1.2M534.9 465.2h1.2M540.3 464.4h1.2M535.8 449.8h1.2M540.0 452.1h1.2M534.8 439.6h1.2M540.5 461.2h1.2M535.0 511.9h1.2M537.9 476.0h1.2M540.6 437.9h1.2M540.9 506.5h1.2M541.5 501.2h1.2M530.9 474.6h1.2M538.2 451.7h1.2M530.7 483.9h1.2M538.9 496.6h1.2M540.0 495.2h1.2M539.0 438.2h1.2M530.8 496.9h1.2M534.4 483.9h1.2M541.6 487.5h1.2M531.8 476.1h1.2M540.3 510.5h1.2M554.8 500.9h1.2M556.6 468.0h1.2M553.8 468.2h1.2M547.0 509.0h1.2M550.8 473.8h1.2M555.9 479.7h1.2M551.2 465.4h1.2M556.2 452.0h1.2M554.1 453.2h1.2M550.2 521.3h1.2M547.2 478.5h1.2M551.2 508.3h1.2M550.3 482.1h1.2M548.9 449.6h1.2M552.7 500.9h1.2M552.7 461.0h1.2M555.1 471.9h1.2M548.2 483.7h1.2M552.6 483.3h1.2M555.8 482.9h1.2M550.0 484.4h1.2M553.0 461.1h1.2M546.1 506.6h1.2M547.1 507.8h1.2M554.4 475.1h1.2M548.6 460.9h1.2M556.3 494.8h1.2M552.2 496.1h1.2M552.6 439.2h1.2M548.4 489.0h1.2M554.9 439.5h1.2M553.8 476.9h1.2M556.2 452.5h1.2M545.0 449.5h1.2M556.8 492.0h1.2M554.1 503.8h1.2M556.9 459.0h1.2M553.7 467.7h1.2M552.0 513.8h1.2M554.0 465.1h1.2M555.8 500.4h1.2M553.7 511.0h1.2M556.5 527.7h1.2M552.9 489.0h1.2M549.1 482.1h1.2M557.2 471.5h1.2M554.1 487.5h1.2M553.1 490.7h1.2M545.6 516.2h1.2M547.5 465.5h1.2M547.2 470.0h1.2M546.8 508.3h1.2M555.3 511.7h1.2M553.7 519.0h1.2M550.4 475.4h1.2M555.9 525.6h1.2M548.9 508.2h1.2M554.8 491.4h1.2M547.2 525.5h1.2M555.8 465.4h1.2M554.2 509.8h1.2M546.8 485.4h1.2M550.8 506.0h1.2M551.5 492.1h1.2M546.9 513.4h1.2M556.0 499.4h1.2M553.3 463.4h1.2M553.8 510.1h1.2M552.7 473.0h1.2M547.4 479.8h1.2M553.1 491.8h1.2M556.1 494.1h1.2M550.7 480.2h1.2M551.3 462.2h1.2M550.0 461.2h1.2M551.6 522.4h1.2M551.5 449.6h1.2M551.2 482.8h1.2M550.9 489.6h1.2M552.7 471.2h1.2M548.1 471.7h1.2M552.1 473.9h1.2M556.2 476.9h1.2M552.2 465.4h1.2M552.2 499.5h1.2M549.7 494.3h1.2M555.5 458.7h1.2M552.6 465.4h1.2M550.7 489.3h1.2M556.3 479.9h1.2M552.4 486.4h1.2M547.4 464.2h1.2M549.6 476.2h1.2M553.6 495.8h1.2M551.1 463.7h1.2M553.5 500.2h1.2M549.0 474.8h1.2M555.0 490.5h1.2M554.0 471.2h1.2M548.2 504.0h1.2M555.8 457.4h1.2M551.4 502.8h1.2M554.2 491.0h1.2M550.9 464.6h1.2M550.8 483.4h1.2M556.0 483.9h1.2M556.2 501.7h1.2M549.5 449.6h1.2M547.4 486.6h1.2M551.6 523.2h1.2M556.0 491.9h1.2M548.5 485.7h1.2M546.5 490.0h1.2M550.9 475.5h1.2M552.2 467.4h1.2M547.8 493.4h1.2M550.1 461.0h1.2M551.8 480.4h1.2M551.8 465.5h1.2M556.5 462.5h1.2M549.6 465.2h1.2M553.3 495.7h1.2M550.4 473.8h1.2M546.6 488.5h1.2M556.0 463.3h1.2M554.2 504.1h1.2M551.3 467.5h1.2M554.0 500.3h1.2M551.3 493.6h1.2M548.8 508.2h1.2M546.1 475.4h1.2M552.2 470.7h1.2M556.4 483.3h1.2M548.6 481.3h1.2M555.9 501.0h1.2M551.7 449.7h1.2M556.1 504.5h1.2M553.2 486.7h1.2M546.2 515.5h1.2M549.3 499.2h1.2M547.5 484.9h1.2M545.5 523.2h1.2M555.2 505.7h1.2M552.0 500.4h1.2M554.2 482.3h1.2M551.4 469.1h1.2M549.2 487.9h1.2M550.5 473.4h1.2M549.0 480.7h1.2M555.3 482.7h1.2M550.6 496.1h1.2M550.8 499.2h1.2M553.4 461.2h1.2M549.2 492.7h1.2M548.2 439.3h1.2M549.8 467.6h1.2M552.8 489.8h1.2M552.0 471.6h1.2M555.1 477.1h1.2M550.1 496.8h1.2M551.6 497.8h1.2M551.5 481.7h1.2M553.6 488.6h1.2M554.3 453.5h1.2M546.2 460.8h1.2M547.0 467.0h1.2M553.7 486.2h1.2M555.9 467.6h1.2M546.2 474.6h1.2M553.9 460.0h1.2M554.7 532.7h1.2M549.8 518.7h1.2M547.1 496.8h1.2M554.7 484.4h1.2M546.4 467.5h1.2M552.6 501.9h1.2M546.5 532.3h1.2M550.9 499.2h1.2M554.9 485.9h1.2M550.1 471.4h1.2M549.2 480.2h1.2M550.3 449.9h1.2M555.2 497.7h1.2M549.4 532.7h1.2M546.2 496.6h1.2M557.7 508.2h1.2M555.5 474.4h1.2M549.7 481.3h1.2M550.0 501.9h1.2M555.5 521.2h1.2M551.0 473.6h1.2M553.3 524.9h1.2M554.2 496.9h1.2M547.3 485.5h1.2M550.8 515.6h1.2M555.6 527.2h1.2M549.8 501.9h1.2M553.5 455.5h1.2M556.2 475.4h1.2M545.0 449.6h1.2M550.3 513.9h1.2M552.1 500.9h1.2M548.5 460.9h1.2M556.1 449.5h1.2M549.5 492.0h1.2M556.7 458.3h1.2M546.7 475.9h1.2M554.1 515.4h1.2M548.7 469.1h1.2M553.3 514.3h1.2M546.6 483.1h1.2M554.1 495.4h1.2M548.9 449.8h1.2M553.9 466.8h1.2M548.8 467.6h1.2M553.7 516.7h1.2M556.4 480.3h1.2M554.1 480.5h1.2M553.6 470.5h1.2M554.4 467.5h1.2M555.6 494.1h1.2M556.7 494.1h1.2M551.8 503.7h1.2M547.5 463.0h1.2M554.0 452.2h1.2M549.9 476.8h1.2M548.1 485.6h1.2M553.8 495.3h1.2M556.0 486.6h1.2M551.5 486.9h1.2M554.6 474.9h1.2M546.5 480.9h1.2M551.5 524.6h1.2M552.8 461.1h1.2M551.3 460.2h1.2M555.8 461.2h1.2M547.9 509.6h1.2M546.5 484.5h1.2M549.2 472.5h1.2M551.3 494.6h1.2M556.2 493.8h1.2M553.5 465.9h1.2M547.6 513.3h1.2M545.5 494.7h1.2M548.5 517.9h1.2M555.2 513.7h1.2M554.3 513.4h1.2M553.5 505.3h1.2M547.9 494.6h1.2M547.7 473.4h1.2M553.2 449.6h1.2M549.3 476.4h1.2M547.4 503.2h1.2M547.6 460.9h1.2M551.6 527.9h1.2M548.0 492.3h1.2M546.4 472.8h1.2M552.9 464.0h1.2M548.3 439.3h1.2M546.6 465.7h1.2M549.2 527.2h1.2M548.3 471.7h1.2M548.3 455.6h1.2M556.3 501.2h1.2M551.2 477.9h1.2M554.4 494.9h1.2M556.3 485.0h1.2M549.8 487.8h1.2M556.4 495.0h1.2M550.8 462.0h1.2M546.5 492.8h1.2M555.9 467.4h1.2M547.8 495.3h1.2M553.7 449.7h1.2M551.5 449.7h1.2M557.3 508.3h1.2M546.3 480.0h1.2M546.9 488.7h1.2M548.9 477.1h1.2M553.3 471.2h1.2M555.9 488.1h1.2M546.6 489.1h1.2M549.6 486.0h1.2M545.4 465.3h1.2M549.4 477.2h1.2M553.3 481.5h1.2M546.5 477.9h1.2M548.5 505.3h1.2M551.9 453.7h1.2M545.0 510.4h1.2M547.9 480.0h1.2M547.9 499.9h1.2M553.8 452.3h1.2M557.2 439.6h1.2M545.2 508.3h1.2M549.8 504.1h1.2M554.1 473.3h1.2M552.8 468.2h1.2M553.9 464.5h1.2M546.7 437.9h1.2M549.3 449.8h1.2M555.2 482.9h1.2M553.6 513.2h1.2M548.9 465.3h1.2M554.9 511.4h1.2M561.8 475.1h1.2M563.5 510.3h1.2M569.4 508.4h1.2M566.1 492.3h1.2M570.3 515.8h1.2M561.4 449.6h1.2M563.5 450.9h1.2M572.6 473.2h1.2M565.5 524.9h1.2M571.8 508.8h1.2M569.5 517.0h1.2M565.6 508.1h1.2M568.5 468.3h1.2M562.1 503.3h1.2M571.3 518.7h1.2M562.1 500.5h1.2M563.8 459.2h1.2M561.1 458.6h1.2M567.5 492.2h1.2M572.5 521.1h1.2M571.1 482.3h1.2M563.0 483.1h1.2M564.1 510.7h1.2M567.6 515.4h1.2M564.4 527.4h1.2M566.7 479.6h1.2M561.1 449.9h1.2M563.7 463.5h1.2M564.5 509.2h1.2M566.6 449.5h1.2M564.0 488.0h1.2M561.9 495.6h1.2M562.9 466.9h1.2M570.7 527.6h1.2M564.4 492.2h1.2M570.9 465.5h1.2M563.1 447.4h1.2M567.4 468.7h1.2M570.0 495.3h1.2M565.3 447.5h1.2M570.5 523.6h1.2M565.5 470.6h1.2M568.1 501.7h1.2M561.7 511.1h1.2M568.3 443.4h1.2M563.1 515.3h1.2M567.2 515.7h1.2M572.1 501.0h1.2M561.2 529.5h1.2M570.2 487.1h1.2M571.3 450.7h1.2M572.6 476.7h1.2M563.0 500.2h1.2M566.5 449.8h1.2M563.6 508.4h1.2M563.7 446.3h1.2M562.6 493.3h1.2M564.1 484.3h1.2M569.4 512.5h1.2M562.2 443.3h1.2M562.3 531.3h1.2M566.9 475.2h1.2M561.8 478.6h1.2M563.8 517.7h1.2M565.0 475.5h1.2M564.8 489.3h1.2M570.9 482.3h1.2M568.6 464.1h1.2M564.3 490.2h1.2M566.0 468.4h1.2M564.3 485.2h1.2M566.4 513.5h1.2M569.2 462.3h1.2M570.9 508.1h1.2M569.0 461.2h1.2M568.8 469.7h1.2M569.3 466.0h1.2M566.6 484.4h1.2M561.5 492.0h1.2M571.5 466.7h1.2M568.0 474.3h1.2M566.1 482.8h1.2M570.6 455.8h1.2M560.9 510.9h1.2M561.4 439.5h1.2M570.7 486.9h1.2M564.4 507.5h1.2M563.5 442.5h1.2M569.9 463.7h1.2M563.8 472.2h1.2M560.9 450.6h1.2M563.6 473.3h1.2M569.7 492.3h1.2M562.6 532.6h1.2M568.1 521.5h1.2M568.9 454.4h1.2M571.1 532.5h1.2M564.6 517.8h1.2M567.8 510.3h1.2M571.8 455.8h1.2M571.9 501.6h1.2M560.7 449.6h1.2M565.4 467.6h1.2M564.1 508.5h1.2M567.6 508.5h1.2M572.2 492.3h1.2M561.2 460.8h1.2M560.5 467.7h1.2M569.0 497.9h1.2M567.8 477.7h1.2M569.2 481.4h1.2M560.9 510.5h1.2M572.2 487.0h1.2M571.3 526.3h1.2M566.0 492.3h1.2M569.3 491.0h1.2M564.6 471.1h1.2M568.7 508.2h1.2M561.2 478.0h1.2M562.9 452.6h1.2M571.9 488.1h1.2M571.0 457.6h1.2M563.0 532.4h1.2M571.9 457.9h1.2M562.9 525.0h1.2M565.0 517.5h1.2M565.7 456.4h1.2M568.2 508.0h1.2M564.2 535.2h1.2M563.3 492.1h1.2M565.9 507.9h1.2M571.9 467.4h1.2M562.8 473.3h1.2M571.7 497.6h1.2M561.5 525.2h1.2M568.5 508.3h1.2M563.8 494.5h1.2M562.8 492.2h1.2M571.4 446.6h1.2M562.7 532.9h1.2M562.0 522.1h1.2M562.4 494.7h1.2M573.2 467.3h1.2M564.4 460.8h1.2M567.9 508.5h1.2M565.6 493.2h1.2M570.0 445.8h1.2M570.6 467.5h1.2M561.0 515.3h1.2M564.9 442.8h1.2M565.7 494.2h1.2M565.5 501.8h1.2M571.9 524.8h1.2M562.0 445.3h1.2M566.8 523.2h1.2M562.5 511.6h1.2M567.3 493.8h1.2M568.6 449.5h1.2M570.0 503.6h1.2M565.7 463.3h1.2M562.7 531.6h1.2M571.0 509.2h1.2M572.8 516.4h1.2M560.7 465.4h1.2M572.0 512.4h1.2M572.9 501.6h1.2M568.1 530.6h1.2M563.8 492.8h1.2M561.8 461.1h1.2M572.5 465.5h1.2M565.5 458.7h1.2M561.4 510.6h1.2M566.5 452.4h1.2M562.4 509.2h1.2M563.8 463.4h1.2M566.7 518.7h1.2M566.2 439.4h1.2M569.9 465.2h1.2M571.5 498.7h1.2M570.0 496.5h1.2M567.0 504.0h1.2M560.8 465.1h1.2M569.3 467.4h1.2M568.1 466.6h1.2M560.4 467.6h1.2M571.8 509.7h1.2M562.0 486.0h1.2M571.9 513.4h1.2M568.6 499.4h1.2M566.5 479.3h1.2M570.5 449.3h1.2M566.1 532.6h1.2M562.2 497.1h1.2M571.3 523.8h1.2M569.9 460.4h1.2M570.1 492.4h1.2M566.3 464.2h1.2M561.1 508.3h1.2M562.9 439.4h1.2M561.9 493.1h1.2M562.4 503.1h1.2M566.8 461.0h1.2M569.5 494.1h1.2M563.9 488.4h1.2M563.6 443.2h1.2M564.7 500.7h1.2M566.5 469.4h1.2M571.1 510.7h1.2M565.1 470.8h1.2M569.9 512.2h1.2M561.3 453.9h1.2M570.4 460.2h1.2M562.8 492.4h1.2M563.6 519.1h1.2M568.2 484.8h1.2M564.0 451.1h1.2M562.5 507.9h1.2M571.3 490.8h1.2M567.0 450.7h1.2M561.0 442.8h1.2M565.4 472.4h1.2M568.1 532.5h1.2M571.0 492.2h1.2M571.7 503.4h1.2M563.9 467.5h1.2M563.4 495.3h1.2M566.0 532.6h1.2M570.6 478.7h1.2M564.6 479.8h1.2M564.4 522.9h1.2M566.5 509.0h1.2M566.1 510.2h1.2M567.0 502.0h1.2M570.3 484.9h1.2M567.4 493.1h1.2M564.3 480.2h1.2M569.9 501.9h1.2M564.1 522.1h1.2M583.9 466.1h1.2M577.2 489.6h1.2M579.1 470.6h1.2M586.3 489.1h1.2M583.2 478.4h1.2M579.0 484.0h1.2M578.9 509.7h1.2M580.7 511.5h1.2M588.4 491.6h1.2M580.9 508.8h1.2M582.1 483.5h1.2M584.2 512.3h1.2M580.4 476.2h1.2M578.2 481.5h1.2M579.1 532.6h1.2M578.7 476.6h1.2M587.6 481.8h1.2M576.5 510.8h1.2M584.5 520.6h1.2M581.5 490.9h1.2M576.4 510.3h1.2M578.8 478.1h1.2M578.8 446.9h1.2M578.6 465.0h1.2M576.4 449.8h1.2M582.1 448.0h1.2M581.5 506.3h1.2M579.8 449.3h1.2M587.2 491.0h1.2M584.2 467.4h1.2M578.6 465.2h1.2M583.3 493.0h1.2M584.5 483.6h1.2M580.5 499.1h1.2M583.1 496.8h1.2M579.0 512.8h1.2M588.0 467.6h1.2M581.9 477.9h1.2M580.1 511.8h1.2M580.8 467.3h1.2M580.8 475.4h1.2M582.8 470.5h1.2M576.8 517.8h1.2M585.1 495.8h1.2M578.6 502.1h1.2M582.5 500.3h1.2M580.2 453.8h1.2M581.0 480.5h1.2M580.7 483.4h1.2M579.4 465.9h1.2M578.5 451.4h1.2M580.6 463.2h1.2M582.7 513.1h1.2M587.0 483.0h1.2M582.3 459.4h1.2M585.1 466.6h1.2M584.3 507.3h1.2M578.6 465.7h1.2M584.0 448.0h1.2M587.5 476.9h1.2M582.8 508.0h1.2M586.5 480.8h1.2M584.0 509.2h1.2M588.1 460.9h1.2M585.0 510.4h1.2M578.6 460.9h1.2M579.4 467.6h1.2M581.3 449.9h1.2M577.7 472.9h1.2M582.1 514.4h1.2M585.1 508.1h1.2M587.5 449.8h1.2M586.8 510.4h1.2M581.6 478.0h1.2M581.8 503.2h1.2M579.7 477.2h1.2M578.3 499.0h1.2M577.9 439.7h1.2M587.6 470.4h1.2M582.9 461.2h1.2M579.1 494.0h1.2M585.5 486.4h1.2M578.9 476.8h1.2M580.8 510.4h1.2M578.1 472.0h1.2M578.7 507.6h1.2M581.9 482.7h1.2M581.7 471.0h1.2M587.5 451.6h1.2M585.2 510.4h1.2M578.9 472.6h1.2M582.8 505.2h1.2M577.8 449.6h1.2M587.8 492.2h1.2M587.8 461.2h1.2M582.1 512.1h1.2M582.2 475.6h1.2M576.6 501.1h1.2M584.2 479.9h1.2M587.0 465.8h1.2M581.6 502.6h1.2M583.8 492.8h1.2M583.4 488.3h1.2M578.6 476.7h1.2M587.0 506.3h1.2M587.7 477.2h1.2M586.4 492.2h1.2M577.8 452.9h1.2M587.4 439.6h1.2M580.1 439.6h1.2M583.9 491.5h1.2M586.2 465.2h1.2M580.2 472.2h1.2M587.6 449.7h1.2M585.1 493.3h1.2M584.2 486.9h1.2M581.3 467.6h1.2M581.1 490.6h1.2M587.9 475.5h1.2M586.9 486.7h1.2M576.7 459.3h1.2M579.8 464.9h1.2M586.1 462.5h1.2M586.7 461.1h1.2M583.0 480.3h1.2M585.3 468.9h1.2M583.1 453.3h1.2M584.2 482.3h1.2M579.3 478.4h1.2M579.9 482.4h1.2M577.8 468.4h1.2M578.1 439.4h1.2M584.3 459.3h1.2M583.1 484.7h1.2M586.9 512.4h1.2M582.3 472.1h1.2M584.8 467.5h1.2M585.0 482.3h1.2M581.8 508.9h1.2M579.5 449.8h1.2M582.6 515.7h1.2M580.1 532.7h1.2M578.3 474.1h1.2M579.5 508.3h1.2M586.7 484.0h1.2M580.6 451.9h1.2M584.8 465.1h1.2M581.9 510.4h1.2M586.3 487.4h1.2M585.9 479.5h1.2M580.5 449.7h1.2M587.6 468.6h1.2M579.5 482.8h1.2M582.7 474.9h1.2M577.2 513.8h1.2M584.2 465.4h1.2M581.1 505.3h1.2M580.9 450.1h1.2M586.0 496.1h1.2M579.9 532.4h1.2M584.4 496.9h1.2M583.7 448.6h1.2M578.9 477.3h1.2M586.7 466.4h1.2M584.2 516.0h1.2M581.0 490.1h1.2M582.3 521.1h1.2M585.6 510.3h1.2M582.1 483.4h1.2M578.2 461.0h1.2M583.4 487.0h1.2M583.3 467.6h1.2M584.7 477.0h1.2M580.3 460.9h1.2M587.6 456.7h1.2M585.4 484.5h1.2M584.1 490.4h1.2M582.4 467.3h1.2M579.5 493.8h1.2M577.4 465.4h1.2M587.2 459.4h1.2M579.3 491.1h1.2M583.7 490.6h1.2M579.6 490.0h1.2M582.1 465.1h1.2M585.4 499.1h1.2M578.5 473.5h1.2M577.1 474.3h1.2M577.4 473.9h1.2M578.9 465.2h1.2M578.2 520.1h1.2M584.2 507.1h1.2M581.9 464.1h1.2M585.4 489.0h1.2M581.0 508.3h1.2M580.7 495.5h1.2M585.9 495.7h1.2M583.6 475.6h1.2M587.6 477.4h1.2M579.1 493.3h1.2M579.0 456.9h1.2M588.2 492.4h1.2M582.3 484.6h1.2M586.6 508.3h1.2M581.7 456.0h1.2M583.9 478.7h1.2M578.3 482.6h1.2M579.6 447.3h1.2M580.9 496.9h1.2M588.3 508.5h1.2M582.6 480.5h1.2M579.5 453.7h1.2M579.4 484.8h1.2M580.6 454.9h1.2M586.0 485.5h1.2M581.3 458.9h1.2M579.1 451.6h1.2M587.8 494.5h1.2M576.6 494.3h1.2M578.2 482.2h1.2M581.6 469.1h1.2M583.1 490.7h1.2M577.8 511.2h1.2M578.8 466.9h1.2M580.7 497.4h1.2M579.4 449.8h1.2M578.5 487.0h1.2M577.5 462.2h1.2M579.4 464.9h1.2M581.9 499.3h1.2M597.7 500.1h1.2M596.9 449.7h1.2M595.1 519.7h1.2M601.8 531.1h1.2M603.4 461.0h1.2M597.9 467.3h1.2M601.7 443.9h1.2M596.2 463.9h1.2M601.7 488.6h1.2M600.2 531.2h1.2M594.1 461.5h1.2M596.1 521.3h1.2M600.5 506.4h1.2M598.9 444.7h1.2M594.6 467.1h1.2M593.6 513.8h1.2M602.4 471.6h1.2M593.8 506.7h1.2M602.5 492.3h1.2M594.7 461.7h1.2M592.7 492.0h1.2M603.1 453.3h1.2M598.1 532.7h1.2M597.3 467.7h1.2M594.5 458.5h1.2M598.8 478.9h1.2M596.6 477.6h1.2M595.7 486.5h1.2M602.0 465.9h1.2M594.2 493.5h1.2M602.8 510.4h1.2M598.0 467.6h1.2M604.4 449.6h1.2M594.4 492.4h1.2M600.2 475.4h1.2M600.9 510.6h1.2M594.2 470.0h1.2M592.6 513.5h1.2M598.9 486.7h1.2M602.9 528.1h1.2M592.1 466.2h1.2M595.6 480.0h1.2M600.4 458.7h1.2M596.2 465.2h1.2M600.4 498.5h1.2M593.4 489.5h1.2M602.8 459.4h1.2M598.3 486.6h1.2M601.7 508.9h1.2M594.4 493.9h1.2M602.7 461.0h1.2M603.1 462.3h1.2M594.2 503.4h1.2M596.9 466.9h1.2M601.9 475.3h1.2M594.6 510.3h1.2M602.2 509.2h1.2M593.2 458.9h1.2M596.5 467.6h1.2M594.0 451.6h1.2M591.7 510.5h1.2M593.1 516.3h1.2M593.2 459.2h1.2M602.6 490.9h1.2M602.1 451.9h1.2M600.6 497.1h1.2M602.1 479.5h1.2M602.5 452.1h1.2M591.6 461.0h1.2M597.9 460.2h1.2M594.0 518.4h1.2M599.7 476.9h1.2M597.3 494.1h1.2M592.4 461.1h1.2M597.0 476.4h1.2M599.7 467.5h1.2M596.0 500.5h1.2M596.1 471.0h1.2M603.9 526.9h1.2M594.1 527.1h1.2M593.2 449.6h1.2M601.8 510.6h1.2M594.7 460.8h1.2M602.9 532.7h1.2M594.1 502.3h1.2M593.1 478.7h1.2M597.7 476.3h1.2M592.6 514.4h1.2M594.0 487.8h1.2M595.6 484.6h1.2M594.7 461.0h1.2M597.5 502.5h1.2M594.8 486.4h1.2M595.8 458.8h1.2M592.6 532.6h1.2M601.2 487.5h1.2M602.0 503.2h1.2M595.5 469.1h1.2M597.6 452.9h1.2M598.9 528.2h1.2M597.4 510.4h1.2M602.5 526.3h1.2M592.2 449.6h1.2M601.6 505.2h1.2M602.4 489.7h1.2M597.4 465.5h1.2M598.3 461.9h1.2M601.6 466.4h1.2M601.0 467.5h1.2M602.4 531.9h1.2M598.4 468.1h1.2M597.7 461.2h1.2M598.2 453.5h1.2M599.6 484.4h1.2M594.0 477.7h1.2M593.2 491.5h1.2M599.0 505.3h1.2M593.4 461.0h1.2M600.3 520.5h1.2M591.5 465.2h1.2M595.1 468.8h1.2M600.2 461.1h1.2M592.1 449.6h1.2M602.4 503.2h1.2M600.0 466.1h1.2M597.7 522.9h1.2M593.3 510.3h1.2M593.4 502.2h1.2M596.4 501.6h1.2M598.5 483.9h1.2M594.8 492.5h1.2M602.9 508.4h1.2M600.4 486.4h1.2M599.7 486.8h1.2M594.0 479.2h1.2M596.3 526.0h1.2M592.4 449.7h1.2M599.1 487.9h1.2M600.0 497.8h1.2M594.8 508.2h1.2M599.5 467.5h1.2M601.7 502.9h1.2M594.8 510.8h1.2M601.8 499.0h1.2M600.6 506.1h1.2M598.9 508.3h1.2M598.2 523.0h1.2M599.4 510.8h1.2M600.8 491.9h1.2M597.3 449.8h1.2M598.7 448.9h1.2M592.6 465.1h1.2M602.5 467.5h1.2M599.6 467.0h1.2M597.9 530.3h1.2M595.6 514.2h1.2M599.0 503.2h1.2M598.7 512.7h1.2M593.4 499.8h1.2M603.8 465.1h1.2M596.6 511.9h1.2M593.2 512.8h1.2M595.1 479.0h1.2M596.2 464.6h1.2M595.6 531.3h1.2M599.4 508.4h1.2M603.5 439.4h1.2M602.0 501.8h1.2M598.0 497.9h1.2M602.8 495.0h1.2M596.6 494.5h1.2M593.6 480.9h1.2M597.5 531.6h1.2M602.7 528.9h1.2M595.9 526.4h1.2M600.9 507.3h1.2M597.8 532.2h1.2M597.8 494.2h1.2M600.4 459.5h1.2M600.6 502.1h1.2M593.8 474.1h1.2M598.4 497.4h1.2M599.1 507.3h1.2M599.1 474.6h1.2M598.4 475.0h1.2M596.1 497.3h1.2M602.3 514.0h1.2M593.4 480.0h1.2M603.2 485.8h1.2M600.1 474.1h1.2M595.0 465.0h1.2M602.9 487.0h1.2M598.9 439.3h1.2M601.3 509.8h1.2M593.6 461.0h1.2M603.1 483.3h1.2M593.0 479.6h1.2M600.1 508.4h1.2M593.0 508.3h1.2M598.6 449.7h1.2M594.4 515.7h1.2M598.1 488.4h1.2M601.8 483.7h1.2M599.4 467.5h1.2M603.0 491.4h1.2M600.2 488.7h1.2M593.7 467.1h1.2M597.6 469.3h1.2M602.9 508.5h1.2M603.2 466.8h1.2M603.7 508.4h1.2M599.7 507.6h1.2M593.8 461.1h1.2M597.2 469.7h1.2M599.2 447.3h1.2M602.2 485.6h1.2M595.8 510.2h1.2M593.0 500.7h1.2M593.6 532.5h1.2M592.3 463.8h1.2M600.4 527.9h1.2M592.8 450.5h1.2M595.7 456.2h1.2M593.4 479.1h1.2M593.3 449.9h1.2M593.1 494.8h1.2M594.7 517.3h1.2M599.1 510.5h1.2M601.2 469.1h1.2M600.1 514.7h1.2M593.1 476.8h1.2M602.7 502.5h1.2M597.3 456.6h1.2M596.6 458.6h1.2M597.9 504.1h1.2M595.0 478.0h1.2M592.6 520.2h1.2M602.4 519.2h1.2M598.2 457.1h1.2M593.0 501.0h1.2M601.9 493.2h1.2M595.1 485.9h1.2M594.8 492.6h1.2M594.4 502.5h1.2M600.0 491.9h1.2M601.9 478.0h1.2M592.9 449.8h1.2M599.8 474.2h1.2M598.6 492.7h1.2M596.4 494.5h1.2M598.1 477.7h1.2M602.8 476.0h1.2M595.6 531.8h1.2M603.1 472.7h1.2M599.4 492.9h1.2M602.9 525.8h1.2M601.9 523.3h1.2M603.2 457.9h1.2M599.5 471.8h1.2M599.3 458.7h1.2M596.6 473.9h1.2M593.3 496.1h1.2M601.6 499.6h1.2M595.9 471.4h1.2M596.1 510.3h1.2M600.9 471.7h1.2M600.4 510.5h1.2M602.7 510.9h1.2M598.9 481.8h1.2M599.9 512.0h1.2M591.6 532.7h1.2M602.8 498.7h1.2M597.2 454.0h1.2M593.7 535.2h1.2M598.7 459.3h1.2M603.5 532.6h1.2M594.1 515.4h1.2M602.1 492.3h1.2M599.7 476.2h1.2M599.2 513.3h1.2M602.7 461.3h1.2M595.5 465.5h1.2M598.8 510.5h1.2M602.5 464.3h1.2M593.7 501.4h1.2M594.1 480.6h1.2M600.8 510.4h1.2M592.1 447.0h1.2M596.1 467.4h1.2M595.6 463.3h1.2M597.1 488.8h1.2M601.4 461.6h1.2M594.8 521.8h1.2M594.7 470.8h1.2M599.4 461.2h1.2M597.1 473.3h1.2M602.0 469.2h1.2M594.4 478.1h1.2M593.6 480.1h1.2M603.5 467.3h1.2M593.0 491.8h1.2M599.3 477.6h1.2M595.5 473.6h1.2M595.6 510.6h1.2M593.0 498.5h1.2M602.5 473.8h1.2M599.7 506.9h1.2M596.1 508.8h1.2M597.5 509.4h1.2M598.3 475.7h1.2M598.9 465.5h1.2M603.2 509.5h1.2M602.7 517.2h1.2M593.8 517.7h1.2M601.9 459.8h1.2M594.2 486.0h1.2M594.6 510.2h1.2M593.2 458.6h1.2M602.7 445.0h1.2M603.1 482.0h1.2M593.6 461.0h1.2M597.4 459.9h1.2M604.4 460.8h1.2M600.2 458.3h1.2M604.4 467.5h1.2M602.5 486.1h1.2M600.9 510.5h1.2M593.2 492.3h1.2M603.8 521.0h1.2M595.4 508.9h1.2M598.5 503.1h1.2M598.5 527.6h1.2M596.6 464.4h1.2M598.2 454.8h1.2M594.7 505.9h1.2M602.4 465.2h1.2M597.4 508.5h1.2M600.9 449.6h1.2M595.9 483.1h1.2M593.8 465.3h1.2M595.6 493.5h1.2M600.3 501.0h1.2M602.1 477.9h1.2M592.5 532.7h1.2M598.2 524.2h1.2M593.4 494.4h1.2M601.6 471.0h1.2M598.7 473.3h1.2M595.3 521.3h1.2M593.0 511.8h1.2M597.2 527.6h1.2M594.7 499.7h1.2M597.0 446.5h1.2M593.7 461.3h1.2M599.2 488.5h1.2M596.3 513.7h1.2M595.2 505.2h1.2M604.2 508.4h1.2M603.8 447.3h1.2M592.7 462.0h1.2M594.1 458.0h1.2M592.2 532.7h1.2M596.5 506.4h1.2M602.6 473.3h1.2M598.9 530.1h1.2M603.4 449.5h1.2M592.2 531.2h1.2M602.3 493.8h1.2M597.7 528.5h1.2M608.6 532.4h1.2M618.5 485.1h1.2M613.3 505.0h1.2M614.5 524.7h1.2M611.4 530.0h1.2M614.7 478.6h1.2M608.6 485.6h1.2M617.3 516.5h1.2M608.9 527.3h1.2M609.2 465.4h1.2M615.6 513.8h1.2M610.8 491.7h1.2M612.8 532.4h1.2M611.7 465.4h1.2M612.5 449.8h1.2M614.5 449.7h1.2M610.6 494.5h1.2M609.9 506.1h1.2M617.7 478.5h1.2M613.2 468.8h1.2M609.0 447.9h1.2M614.9 511.1h1.2M610.7 511.6h1.2M612.5 532.4h1.2M612.1 472.1h1.2M611.7 459.6h1.2M610.2 501.6h1.2M610.3 463.5h1.2M609.6 476.8h1.2M612.0 454.2h1.2M614.9 493.3h1.2M608.5 515.2h1.2M612.6 439.6h1.2M610.3 470.0h1.2M613.2 489.4h1.2M608.1 496.0h1.2M614.8 508.3h1.2M609.8 506.9h1.2M618.4 480.3h1.2M616.6 485.3h1.2M617.1 511.8h1.2M614.2 457.6h1.2M612.4 471.7h1.2M619.3 507.3h1.2M612.7 446.2h1.2M609.5 484.5h1.2M612.9 526.0h1.2M608.8 481.8h1.2M612.9 520.8h1.2M609.1 464.5h1.2M613.7 518.0h1.2M610.8 500.3h1.2M612.6 466.8h1.2M616.0 492.1h1.2M608.5 452.7h1.2M611.4 524.8h1.2M610.6 488.5h1.2M613.9 476.3h1.2M608.9 528.0h1.2M617.7 449.5h1.2M608.9 485.6h1.2M611.6 510.4h1.2M614.8 497.9h1.2M618.4 489.8h1.2M616.3 456.5h1.2M613.8 467.2h1.2M615.2 503.6h1.2M612.8 500.9h1.2M615.1 499.5h1.2M608.7 488.3h1.2M615.3 483.3h1.2M617.9 520.7h1.2M618.4 508.1h1.2M608.9 532.6h1.2M617.8 517.5h1.2M611.2 472.9h1.2M619.2 512.4h1.2M610.6 439.6h1.2M614.6 491.9h1.2M613.8 459.3h1.2M618.3 487.4h1.2M609.2 474.0h1.2M607.4 510.3h1.2M609.1 510.3h1.2M614.6 496.2h1.2M617.7 518.5h1.2M618.6 505.4h1.2M613.5 463.5h1.2M616.2 476.6h1.2M608.2 480.4h1.2M616.2 498.5h1.2M610.5 467.3h1.2M612.2 475.4h1.2M608.7 521.9h1.2M611.4 488.3h1.2M610.7 479.5h1.2M614.8 501.3h1.2M611.8 526.2h1.2M612.2 490.9h1.2M618.1 458.3h1.2M607.6 439.4h1.2M612.3 485.9h1.2M617.1 466.5h1.2M611.3 508.2h1.2M607.4 510.3h1.2M613.5 496.6h1.2M614.9 515.5h1.2M617.4 452.9h1.2M609.9 469.1h1.2M616.7 473.3h1.2M619.8 532.8h1.2M611.1 488.8h1.2M618.6 520.8h1.2M614.5 508.5h1.2M616.4 483.8h1.2M616.1 503.0h1.2M611.8 460.8h1.2M610.0 470.8h1.2M611.4 482.7h1.2M617.6 474.8h1.2M618.1 510.0h1.2M614.6 521.9h1.2M608.9 505.9h1.2M612.1 532.5h1.2M613.3 449.7h1.2M617.2 482.4h1.2M614.5 485.1h1.2M613.8 459.8h1.2M613.7 477.2h1.2M607.6 532.6h1.2M615.4 485.8h1.2M613.3 449.9h1.2M611.6 492.5h1.2M612.3 530.9h1.2M615.9 502.9h1.2M610.1 491.8h1.2M612.3 509.0h1.2M614.3 465.5h1.2M614.7 449.6h1.2M617.7 475.4h1.2M616.9 449.8h1.2M609.0 477.8h1.2M611.5 465.1h1.2M613.5 487.2h1.2M609.3 516.8h1.2M612.2 480.8h1.2M617.9 461.1h1.2M614.8 498.5h1.2M617.9 511.1h1.2M607.4 492.1h1.2M612.7 522.9h1.2M617.4 508.3h1.2M612.8 513.3h1.2M612.6 507.4h1.2M613.0 524.7h1.2M607.9 481.7h1.2M617.0 508.2h1.2M613.4 508.0h1.2M616.9 463.1h1.2M614.4 449.5h1.2M612.6 480.6h1.2M612.9 466.5h1.2M610.9 463.0h1.2M616.6 467.6h1.2M610.8 514.4h1.2M619.0 532.8h1.2M609.0 475.0h1.2M611.9 509.4h1.2M611.7 525.1h1.2M618.0 477.4h1.2M617.3 449.8h1.2M611.9 532.4h1.2M610.2 502.7h1.2M609.6 502.3h1.2M617.9 514.5h1.2M617.5 503.1h1.2M610.0 488.5h1.2M619.6 461.1h1.2M611.7 489.7h1.2M618.4 492.7h1.2M614.1 484.0h1.2M617.9 495.7h1.2M612.0 479.0h1.2M618.7 494.0h1.2M618.5 460.9h1.2M609.5 449.9h1.2M618.4 458.1h1.2M618.1 453.4h1.2M608.5 483.0h1.2M608.7 498.0h1.2M608.7 498.0h1.2M615.9 506.6h1.2M618.1 460.9h1.2M616.4 480.9h1.2M613.5 461.0h1.2M608.9 485.3h1.2M608.5 519.3h1.2M610.1 496.9h1.2M611.2 449.7h1.2M613.8 529.9h1.2M619.9 460.8h1.2M610.9 498.3h1.2M615.2 508.4h1.2M610.1 488.2h1.2M608.8 482.4h1.2M618.2 487.4h1.2M612.5 492.2h1.2M612.0 511.9h1.2M615.9 526.8h1.2M617.2 460.9h1.2M616.1 468.9h1.2M619.3 492.2h1.2M610.9 523.5h1.2M615.6 459.2h1.2M613.6 458.4h1.2M610.3 486.8h1.2M609.9 524.9h1.2M608.0 507.2h1.2M610.4 466.6h1.2M609.2 471.7h1.2M615.8 499.7h1.2M612.6 449.8h1.2M612.1 490.3h1.2M609.1 483.1h1.2M618.7 489.7h1.2M615.0 485.7h1.2M611.9 447.3h1.2M615.3 495.8h1.2M617.6 460.9h1.2M619.5 508.4h1.2M618.5 501.9h1.2M617.0 456.3h1.2M609.9 464.3h1.2M612.6 529.3h1.2M614.2 473.0h1.2M613.2 453.9h1.2M616.8 507.6h1.2M610.2 502.3h1.2M616.7 518.6h1.2M608.3 492.2h1.2M617.3 465.0h1.2M615.2 466.8h1.2M618.4 477.1h1.2M615.0 450.8h1.2M608.5 522.2h1.2M609.5 510.3h1.2M617.4 475.2h1.2M618.9 497.5h1.2M614.7 527.9h1.2M616.7 504.7h1.2M618.4 523.7h1.2M618.3 532.2h1.2M612.6 505.7h1.2M616.8 471.9h1.2M608.6 488.9h1.2M611.3 503.9h1.2M614.2 478.2h1.2M612.1 502.3h1.2M612.8 506.5h1.2M614.2 523.4h1.2M616.4 508.8h1.2M617.5 499.2h1.2M611.0 485.7h1.2M611.7 504.3h1.2M617.4 484.0h1.2M617.8 477.2h1.2M610.9 467.4h1.2M612.8 522.2h1.2M609.3 508.2h1.2M618.1 493.0h1.2M612.5 505.5h1.2M618.8 472.8h1.2M607.9 483.0h1.2M615.6 456.9h1.2M618.1 471.5h1.2M619.0 458.8h1.2M613.9 505.0h1.2M617.0 491.4h1.2M615.3 481.1h1.2M618.0 498.2h1.2M607.9 479.0h1.2M614.0 489.2h1.2M613.9 493.2h1.2M609.6 478.8h1.2M613.3 439.7h1.2M615.8 481.6h1.2M612.2 461.1h1.2M615.3 532.6h1.2M607.6 492.1h1.2M609.0 465.2h1.2M618.3 472.9h1.2M608.3 467.5h1.2M610.3 488.0h1.2M611.3 454.0h1.2M612.3 532.4h1.2M619.0 476.4h1.2M612.8 527.4h1.2M608.6 510.4h1.2M608.7 502.2h1.2M613.1 455.9h1.2M619.6 514.6h1.2M617.5 520.5h1.2M608.6 509.5h1.2M614.7 487.0h1.2M611.1 477.2h1.2M617.4 479.2h1.2M611.3 491.0h1.2M613.3 486.4h1.2M608.4 439.5h1.2M609.4 496.5h1.2M616.4 475.7h1.2M614.9 460.4h1.2M613.1 491.6h1.2M611.2 510.0h1.2M609.9 461.8h1.2M610.3 458.5h1.2M613.2 471.5h1.2M610.5 493.2h1.2M611.1 505.5h1.2M614.8 497.9h1.2M609.3 458.7h1.2M610.7 449.5h1.2M625.8 510.7h1.2M624.4 509.1h1.2M626.1 476.4h1.2M629.8 468.6h1.2M633.8 492.1h1.2M634.7 471.4h1.2M631.1 486.9h1.2M627.9 510.7h1.2M628.3 500.0h1.2M632.3 508.9h1.2M633.2 467.7h1.2M633.2 450.6h1.2M631.7 439.5h1.2M627.0 508.2h1.2M627.3 515.9h1.2M625.9 481.8h1.2M632.6 510.5h1.2M633.5 506.7h1.2M632.9 522.3h1.2M625.2 474.7h1.2M626.4 449.9h1.2M628.6 483.7h1.2M628.7 481.9h1.2M625.0 490.4h1.2M633.3 496.8h1.2M625.5 488.2h1.2M627.0 454.6h1.2M625.7 510.4h1.2M633.4 490.1h1.2M623.6 517.6h1.2M634.4 480.2h1.2M633.8 478.1h1.2M631.7 465.2h1.2M624.3 467.4h1.2M627.1 453.6h1.2M631.7 499.3h1.2M626.4 494.9h1.2M631.3 467.5h1.2M624.7 492.4h1.2M623.9 480.9h1.2M633.7 496.2h1.2M634.9 524.5h1.2M623.3 449.2h1.2M634.1 506.4h1.2M628.9 467.4h1.2M629.1 516.0h1.2M623.8 469.0h1.2M633.5 517.6h1.2M631.7 456.0h1.2M624.4 500.1h1.2M627.4 483.8h1.2M629.6 506.0h1.2M631.8 517.1h1.2M628.5 439.6h1.2M630.6 470.9h1.2M627.4 466.0h1.2M634.4 480.3h1.2M626.8 487.7h1.2M627.4 475.4h1.2M628.0 532.4h1.2M627.8 489.3h1.2M628.9 511.4h1.2M628.5 492.2h1.2M633.2 527.1h1.2M632.0 465.4h1.2M633.7 481.7h1.2M626.9 483.0h1.2M631.9 474.2h1.2M625.3 474.4h1.2M633.2 513.4h1.2M634.0 465.7h1.2M634.2 465.4h1.2M632.8 464.7h1.2M632.8 461.5h1.2M634.0 506.4h1.2M626.7 473.9h1.2M631.5 488.6h1.2M624.5 458.3h1.2M623.9 484.1h1.2M632.6 513.1h1.2M624.1 471.7h1.2M631.5 478.4h1.2M630.1 503.4h1.2M626.2 511.1h1.2M627.4 495.4h1.2M630.7 481.6h1.2M624.1 468.4h1.2M633.5 456.9h1.2M631.8 509.1h1.2M632.8 525.2h1.2M633.2 449.6h1.2M626.1 504.5h1.2M628.7 511.9h1.2M624.4 477.0h1.2M629.3 510.5h1.2M631.6 495.2h1.2M631.6 509.9h1.2M625.2 499.1h1.2M624.1 487.1h1.2M630.1 479.9h1.2M629.6 461.1h1.2M625.1 463.9h1.2M627.7 491.7h1.2M629.1 480.4h1.2M629.0 510.9h1.2M628.1 464.0h1.2M628.2 455.1h1.2M634.2 449.6h1.2M628.2 494.7h1.2M633.6 447.6h1.2M630.3 506.2h1.2M634.1 496.7h1.2M627.9 508.3h1.2M631.3 493.6h1.2M634.1 453.3h1.2M634.5 458.6h1.2M629.0 509.1h1.2M625.6 474.1h1.2M631.6 530.7h1.2M632.6 491.8h1.2M623.3 465.3h1.2M627.7 490.8h1.2M633.7 532.4h1.2M627.3 510.7h1.2M627.4 471.7h1.2M630.9 498.1h1.2M631.6 506.6h1.2M628.1 488.8h1.2M629.4 494.6h1.2M628.0 517.4h1.2M623.4 462.7h1.2M631.3 500.6h1.2M634.0 510.6h1.2M630.8 485.8h1.2M633.4 512.6h1.2M628.2 472.2h1.2M622.7 439.4h1.2M624.5 480.1h1.2M628.1 506.2h1.2M632.5 443.5h1.2M624.8 473.8h1.2M633.3 449.7h1.2M628.4 512.6h1.2M624.4 449.6h1.2M623.0 460.9h1.2M627.4 501.9h1.2M628.9 459.5h1.2M634.3 508.3h1.2M623.9 489.7h1.2M626.6 497.9h1.2M623.7 450.2h1.2M631.8 507.9h1.2M628.0 449.5h1.2M624.3 502.8h1.2M631.6 501.8h1.2M625.2 508.4h1.2M624.1 466.9h1.2M627.8 510.5h1.2M634.9 447.7h1.2M632.6 460.8h1.2M633.1 489.0h1.2M623.8 464.0h1.2M627.3 532.6h1.2M627.2 479.7h1.2M628.8 479.0h1.2M632.7 473.2h1.2M633.0 519.9h1.2M635.2 449.8h1.2M635.0 486.8h1.2M629.6 510.5h1.2M624.4 493.0h1.2M626.2 503.8h1.2M628.6 506.1h1.2M633.1 518.0h1.2M630.5 509.3h1.2M624.9 475.0h1.2M633.3 472.5h1.2M625.4 492.0h1.2M632.1 501.4h1.2M629.4 510.6h1.2M625.3 492.7h1.2M628.0 489.8h1.2M623.8 492.4h1.2M624.9 491.9h1.2M631.5 475.5h1.2M629.1 522.6h1.2M623.4 460.9h1.2M635.3 532.6h1.2M632.4 449.9h1.2M631.9 462.3h1.2M631.2 465.1h1.2M633.7 468.9h1.2M634.4 508.6h1.2M631.1 472.1h1.2M634.4 470.3h1.2M628.4 516.5h1.2M628.8 508.5h1.2M624.4 492.3h1.2M625.4 501.2h1.2M633.8 459.0h1.2M629.6 523.5h1.2M628.0 486.4h1.2M634.8 492.4h1.2M628.4 457.5h1.2M628.2 505.2h1.2M628.5 488.4h1.2M634.0 471.1h1.2M630.2 487.8h1.2M627.3 437.9h1.2M631.2 495.4h1.2M632.6 495.5h1.2M628.4 455.1h1.2M626.9 485.1h1.2M629.6 521.6h1.2M634.1 461.0h1.2M625.0 510.0h1.2M630.5 485.6h1.2M625.8 468.1h1.2M629.0 481.7h1.2M626.1 507.4h1.2M627.9 508.3h1.2M628.1 520.4h1.2M629.2 460.9h1.2M630.2 529.0h1.2M628.6 491.1h1.2M624.4 509.1h1.2M634.3 461.0h1.2M632.8 502.9h1.2M626.4 524.7h1.2M625.1 470.0h1.2M632.9 490.2h1.2M631.3 482.3h1.2M627.2 460.9h1.2M627.6 511.9h1.2M623.7 500.1h1.2M634.1 467.2h1.2M626.3 509.6h1.2M623.4 474.4h1.2M632.6 508.2h1.2M628.7 481.0h1.2M626.7 465.3h1.2M627.9 484.3h1.2M625.5 476.4h1.2M624.0 495.5h1.2M624.6 475.7h1.2M627.1 497.8h1.2M625.9 465.1h1.2M634.3 510.6h1.2M629.4 500.4h1.2M625.7 482.4h1.2M633.1 465.5h1.2M627.8 514.3h1.2M626.2 469.1h1.2M630.0 492.5h1.2M632.6 523.7h1.2M624.4 477.5h1.2M623.5 475.8h1.2M625.1 523.9h1.2M625.3 530.9h1.2M629.3 500.8h1.2M627.9 504.7h1.2M625.4 507.8h1.2M624.0 454.9h1.2M625.2 471.9h1.2M624.2 449.7h1.2M634.2 498.1h1.2M635.0 478.1h1.2M622.9 492.1h1.2M634.6 472.1h1.2M625.7 472.7h1.2M624.0 532.7h1.2M626.3 470.4h1.2M628.6 522.1h1.2M633.1 502.4h1.2M634.7 478.2h1.2M633.6 508.2h1.2M634.2 464.0h1.2M625.1 532.5h1.2M630.3 453.7h1.2M630.3 472.1h1.2M633.1 446.6h1.2M631.3 439.5h1.2M627.0 507.2h1.2M634.0 521.8h1.2M633.1 503.7h1.2M630.9 528.9h1.2M626.1 468.1h1.2M631.9 483.8h1.2M632.3 475.7h1.2M630.1 502.3h1.2M631.2 532.4h1.2M632.8 472.0h1.2M625.6 492.6h1.2M632.0 468.5h1.2M626.9 510.4h1.2M624.6 501.4h1.2M629.0 461.9h1.2M625.2 480.4h1.2M629.5 499.9h1.2M633.0 485.3h1.2M624.0 468.3h1.2M633.5 508.3h1.2M630.7 494.7h1.2M629.2 492.2h1.2M625.5 479.5h1.2M633.6 489.8h1.2M627.9 477.7h1.2M627.6 482.7h1.2M633.6 469.2h1.2M641.6 508.9h1.2M649.4 475.0h1.2M649.5 497.9h1.2M648.8 492.6h1.2M643.1 478.1h1.2M639.7 493.5h1.2M645.3 476.9h1.2M649.4 485.5h1.2M647.5 439.5h1.2M640.5 507.4h1.2M648.0 467.5h1.2M641.9 498.9h1.2M647.3 474.0h1.2M639.1 476.2h1.2M639.0 519.8h1.2M642.7 505.8h1.2M641.4 474.0h1.2M645.1 519.2h1.2M646.5 513.2h1.2M647.3 490.8h1.2M642.2 495.7h1.2M646.6 481.6h1.2M647.2 493.1h1.2M649.1 475.5h1.2M648.0 480.6h1.2M649.0 474.9h1.2M650.5 484.0h1.2M648.8 498.2h1.2M642.5 439.3h1.2M644.3 465.4h1.2M644.2 489.9h1.2M642.5 491.8h1.2M646.5 498.9h1.2M644.7 468.9h1.2M642.1 480.8h1.2M649.2 480.6h1.2M643.3 474.0h1.2M646.9 478.3h1.2M640.3 478.8h1.2M638.3 465.4h1.2M647.1 491.4h1.2M649.0 510.3h1.2M639.8 486.0h1.2M649.6 510.4h1.2M643.7 480.9h1.2M640.8 491.2h1.2M649.9 476.1h1.2M646.1 474.5h1.2M641.4 477.8h1.2M642.5 486.6h1.2M647.4 505.5h1.2M641.3 479.3h1.2M641.1 461.1h1.2M645.5 492.2h1.2M643.0 495.1h1.2M641.8 486.3h1.2M638.8 502.5h1.2M640.7 474.0h1.2M647.2 484.1h1.2M648.4 492.2h1.2M648.6 461.1h1.2M649.9 508.5h1.2M648.8 510.3h1.2M643.3 471.1h1.2M649.2 505.4h1.2M643.3 459.3h1.2M648.3 497.7h1.2M649.4 487.7h1.2M648.2 512.6h1.2M640.6 518.8h1.2M649.6 476.6h1.2M641.4 487.7h1.2M643.6 495.4h1.2M646.1 485.6h1.2M638.9 466.7h1.2M646.6 492.1h1.2M648.9 507.4h1.2M646.2 465.5h1.2M648.6 499.8h1.2M639.7 478.5h1.2M646.8 490.9h1.2M649.7 502.0h1.2M641.3 477.6h1.2M647.3 467.6h1.2M649.3 502.5h1.2M646.2 466.3h1.2M647.7 498.2h1.2M647.3 478.5h1.2M647.5 461.2h1.2M649.5 476.6h1.2M649.3 499.5h1.2M648.1 479.1h1.2M639.9 493.4h1.2M647.9 510.4h1.2M646.9 494.5h1.2M643.7 469.4h1.2M649.5 504.2h1.2M643.0 510.5h1.2M641.8 498.2h1.2M644.9 468.0h1.2M643.5 489.1h1.2M646.0 510.7h1.2M641.3 454.2h1.2M650.7 519.3h1.2M641.1 461.9h1.2M649.3 482.1h1.2M649.0 484.7h1.2M641.4 497.2h1.2M648.6 491.7h1.2M640.2 492.1h1.2M649.9 487.1h1.2M639.1 461.6h1.2M645.0 470.7h1.2M648.3 491.7h1.2M646.3 489.0h1.2M649.9 467.8h1.2M644.7 468.1h1.2M639.1 510.4h1.2M646.2 480.4h1.2M643.2 512.4h1.2M644.7 465.3h1.2M641.1 503.0h1.2M650.0 491.4h1.2M649.3 487.1h1.2M645.2 484.7h1.2M644.8 479.9h1.2M646.3 473.4h1.2M642.8 449.5h1.2M639.4 512.1h1.2M649.8 478.6h1.2M640.9 486.1h1.2M640.8 456.5h1.2M646.3 462.9h1.2M648.3 475.8h1.2M640.0 497.8h1.2M647.8 510.3h1.2M644.0 481.4h1.2M644.0 485.4h1.2M650.6 492.0h1.2M644.6 488.8h1.2M639.7 488.6h1.2M639.1 492.2h1.2M646.4 479.7h1.2M642.6 461.0h1.2M642.9 471.0h1.2M638.8 492.1h1.2M642.3 486.7h1.2M647.5 477.6h1.2M640.2 495.3h1.2M644.6 510.4h1.2M648.7 491.1h1.2M640.0 486.5h1.2M642.1 508.3h1.2M642.4 484.7h1.2M641.5 470.7h1.2M640.6 485.6h1.2M643.7 490.0h1.2M648.1 487.4h1.2M642.7 487.2h1.2M647.1 476.6h1.2M648.3 492.0h1.2M646.0 485.6h1.2M646.9 485.7h1.2M645.7 483.9h1.2M642.9 467.7h1.2M646.8 467.4h1.2M643.9 489.5h1.2M648.4 476.6h1.2M645.2 474.2h1.2M646.9 477.0h1.2M643.6 472.2h1.2M643.3 488.8h1.2M640.2 458.3h1.2M643.3 499.5h1.2M651.2 449.5h1.2M639.0 439.5h1.2M641.6 465.3h1.2M644.6 494.5h1.2M639.9 480.0h1.2M642.0 485.1h1.2M643.1 507.9h1.2M643.1 515.1h1.2M647.1 496.0h1.2M642.1 465.5h1.2M641.7 499.3h1.2M642.6 461.2h1.2M641.0 491.3h1.2M642.6 479.8h1.2M647.8 508.5h1.2M644.5 449.9h1.2M645.1 499.7h1.2M641.9 500.9h1.2M641.8 496.7h1.2M642.1 511.7h1.2M640.2 504.8h1.2M648.4 465.1h1.2M650.5 506.5h1.2M640.7 508.3h1.2M646.6 510.4h1.2M639.7 504.8h1.2M641.2 507.4h1.2M640.9 494.0h1.2M641.5 475.2h1.2M639.9 513.8h1.2M644.5 517.8h1.2M642.1 492.4h1.2M646.1 483.2h1.2M639.3 466.8h1.2M647.5 504.1h1.2M649.4 508.5h1.2M639.8 481.1h1.2M646.7 501.2h1.2M649.5 504.0h1.2M641.9 502.8h1.2M639.3 518.4h1.2M645.4 488.1h1.2M650.0 474.3h1.2M642.1 457.2h1.2M645.5 488.8h1.2M642.8 480.3h1.2M645.8 502.1h1.2M642.5 510.9h1.2M646.6 532.7h1.2M641.1 491.9h1.2M640.7 494.0h1.2M646.0 485.0h1.2M648.8 493.1h1.2M641.2 510.5h1.2M644.8 479.7h1.2M642.6 481.6h1.2M639.6 490.5h1.2M641.7 511.7h1.2M641.3 504.7h1.2M645.5 497.6h1.2M649.9 485.4h1.2M642.7 476.6h1.2M640.1 481.7h1.2M641.2 532.6h1.2M647.6 532.6h1.2M643.9 485.0h1.2M647.8 461.0h1.2M641.1 474.2h1.2M644.3 483.7h1.2M647.7 474.3h1.2M646.8 465.4h1.2M640.0 485.3h1.2M641.8 476.8h1.2M645.0 476.4h1.2M649.9 460.2h1.2M642.9 480.8h1.2M641.1 532.8h1.2M640.7 501.7h1.2M641.7 509.9h1.2M650.0 439.5h1.2M642.1 479.2h1.2M646.9 489.4h1.2M641.8 490.7h1.2M648.0 505.3h1.2M650.0 492.3h1.2M643.1 501.9h1.2M643.0 503.6h1.2M645.3 498.5h1.2M648.4 487.8h1.2M644.6 501.5h1.2M640.3 472.6h1.2M638.5 467.6h1.2M646.0 502.3h1.2M644.4 458.3h1.2M643.4 479.4h1.2M641.4 489.9h1.2M643.9 501.1h1.2M649.8 497.7h1.2M649.1 465.5h1.2M648.6 502.9h1.2M640.3 508.1h1.2M648.0 510.4h1.2M658.7 447.6h1.2M660.8 478.6h1.2M664.0 500.2h1.2M655.0 480.3h1.2M658.5 503.9h1.2M664.1 477.3h1.2M662.9 462.1h1.2M665.0 509.3h1.2M660.7 510.5h1.2M664.2 479.0h1.2M665.3 502.8h1.2M655.1 457.3h1.2M654.7 439.3h1.2M655.4 487.2h1.2M657.7 514.0h1.2M655.4 465.4h1.2M659.9 459.6h1.2M665.8 477.8h1.2M661.4 498.6h1.2M662.4 471.3h1.2M658.3 496.9h1.2M663.2 515.0h1.2M659.3 508.3h1.2M655.6 441.9h1.2M655.3 506.8h1.2M658.3 475.9h1.2M660.6 476.8h1.2M663.5 476.8h1.2M664.8 480.8h1.2M659.2 505.4h1.2M661.5 453.9h1.2M663.4 464.4h1.2M657.3 473.6h1.2M656.4 492.2h1.2M656.9 443.7h1.2M661.9 509.8h1.2M660.6 506.0h1.2M660.7 510.3h1.2M662.2 461.0h1.2M654.6 510.3h1.2M662.4 486.2h1.2M656.2 508.4h1.2M655.8 471.5h1.2M660.6 465.5h1.2M655.8 472.1h1.2M666.2 464.5h1.2M659.6 472.4h1.2M655.2 508.2h1.2M658.6 492.3h1.2M660.0 504.4h1.2M661.7 442.4h1.2M663.3 494.3h1.2M661.7 518.0h1.2M663.8 497.5h1.2M658.9 479.1h1.2M656.0 472.4h1.2M659.3 509.9h1.2M665.1 439.3h1.2M660.1 511.4h1.2M657.8 496.0h1.2M660.9 458.9h1.2M660.9 469.7h1.2M655.3 492.1h1.2M664.1 477.9h1.2M663.2 484.2h1.2M655.6 519.2h1.2M664.5 443.2h1.2M655.2 450.4h1.2M658.8 498.8h1.2M665.6 460.2h1.2M666.6 460.8h1.2M659.8 503.0h1.2M658.8 492.4h1.2M662.4 490.8h1.2M666.2 481.9h1.2M656.0 472.7h1.2M664.5 481.9h1.2M660.7 500.8h1.2M666.3 509.0h1.2M666.1 461.1h1.2M665.5 510.7h1.2M660.3 485.4h1.2M662.3 462.9h1.2M654.9 461.2h1.2M664.9 493.9h1.2M665.3 513.1h1.2M659.6 498.6h1.2M656.8 485.9h1.2M663.6 475.7h1.2M655.6 499.0h1.2M665.0 510.4h1.2M664.7 488.9h1.2M659.6 444.0h1.2M658.9 479.6h1.2M662.7 476.7h1.2M664.8 511.7h1.2M659.9 478.3h1.2M664.3 465.7h1.2M657.8 465.5h1.2M662.0 508.4h1.2M655.4 506.8h1.2M656.3 510.5h1.2M660.6 483.9h1.2M661.6 515.1h1.2M661.5 502.1h1.2M662.9 481.5h1.2M657.3 458.7h1.2M659.7 439.6h1.2M662.2 502.3h1.2M662.9 454.8h1.2M661.1 486.7h1.2M659.9 512.2h1.2M655.9 480.9h1.2M655.7 439.6h1.2M661.6 470.4h1.2M660.1 473.7h1.2M657.6 501.3h1.2M663.6 498.2h1.2M658.8 489.9h1.2M664.9 476.4h1.2M657.2 449.6h1.2M655.6 496.5h1.2M656.7 504.8h1.2M662.2 501.9h1.2M666.6 460.8h1.2M664.1 532.7h1.2M662.9 454.2h1.2M659.4 466.4h1.2M657.7 468.5h1.2M663.7 510.3h1.2M665.8 450.3h1.2M660.1 469.6h1.2M666.0 454.8h1.2M663.6 495.6h1.2M657.1 503.8h1.2M656.3 477.8h1.2M657.9 439.5h1.2M661.7 492.6h1.2M665.8 449.6h1.2M661.8 466.0h1.2M655.9 510.5h1.2M655.3 449.7h1.2M664.7 510.4h1.2M661.5 455.4h1.2M658.9 481.7h1.2M664.7 484.0h1.2M661.9 515.1h1.2M657.5 510.0h1.2M657.1 489.7h1.2M659.7 462.1h1.2M666.0 508.2h1.2M661.8 476.7h1.2M665.5 479.7h1.2M665.5 470.0h1.2M655.8 467.4h1.2M664.0 492.1h1.2M660.8 469.0h1.2M656.3 492.3h1.2M657.1 467.4h1.2M654.8 480.6h1.2M664.2 449.7h1.2M664.9 460.8h1.2M666.2 467.0h1.2M660.2 502.7h1.2M664.6 498.9h1.2M655.8 466.9h1.2M657.0 473.5h1.2M662.3 465.5h1.2M662.1 490.1h1.2M657.1 471.5h1.2M657.0 492.8h1.2M660.7 483.2h1.2M655.8 452.6h1.2M665.0 463.2h1.2M657.0 454.7h1.2M660.5 469.2h1.2M657.9 485.9h1.2M658.1 486.7h1.2M657.7 449.9h1.2M661.4 485.0h1.2M661.0 465.4h1.2M657.9 468.8h1.2M665.4 457.6h1.2M659.1 498.5h1.2M665.0 484.7h1.2M655.3 505.3h1.2M666.0 468.8h1.2M659.2 477.2h1.2M662.5 439.6h1.2M664.3 499.1h1.2M656.9 482.9h1.2M665.4 475.8h1.2M654.6 452.1h1.2M665.1 511.4h1.2M662.7 492.2h1.2M656.2 449.5h1.2M660.2 444.0h1.2M665.3 460.9h1.2M664.0 508.4h1.2M664.9 474.6h1.2M659.4 477.3h1.2M661.2 479.3h1.2M655.3 507.0h1.2M657.6 514.4h1.2M663.4 456.8h1.2M665.4 492.1h1.2M665.0 511.1h1.2M665.3 498.0h1.2M660.7 510.4h1.2M658.5 447.3h1.2M659.4 467.6h1.2M656.8 483.4h1.2M664.8 469.9h1.2M662.5 513.9h1.2M655.9 470.2h1.2M665.0 476.5h1.2M655.4 502.1h1.2M657.2 510.6h1.2M656.8 449.6h1.2M662.7 507.8h1.2M659.8 449.8h1.2M660.3 507.6h1.2M660.2 493.9h1.2M666.5 508.4h1.2M665.0 459.3h1.2M655.2 447.8h1.2M659.7 450.6h1.2M665.7 503.4h1.2M657.9 488.3h1.2M660.0 478.0h1.2M656.2 465.4h1.2M655.0 510.6h1.2M659.3 464.5h1.2M661.1 462.3h1.2M657.4 501.8h1.2M654.5 460.9h1.2M665.5 491.3h1.2M655.6 481.8h1.2M658.7 467.4h1.2M657.0 466.5h1.2M656.4 465.2h1.2M665.6 454.3h1.2M657.5 483.5h1.2M658.4 449.6h1.2M660.2 475.4h1.2M660.2 500.5h1.2M665.5 493.7h1.2M662.7 449.6h1.2M664.4 463.8h1.2M663.3 488.0h1.2M665.3 461.0h1.2M660.2 441.6h1.2M655.9 479.7h1.2M665.0 517.8h1.2M655.8 514.1h1.2M655.7 492.0h1.2M665.0 513.2h1.2M656.9 490.9h1.2M655.5 465.0h1.2M657.4 449.7h1.2M656.4 490.7h1.2M658.0 489.2h1.2M664.1 490.7h1.2M664.6 460.6h1.2M656.7 465.1h1.2M659.1 509.0h1.2M661.8 510.5h1.2M665.6 490.4h1.2M660.1 453.1h1.2M656.9 490.5h1.2M664.4 472.4h1.2M664.9 479.4h1.2M664.4 508.3h1.2M661.6 449.7h1.2M665.0 487.0h1.2M663.8 492.3h1.2M659.4 449.8h1.2M664.9 467.5h1.2M655.7 473.5h1.2M662.4 510.3h1.2M665.7 470.9h1.2M659.5 454.3h1.2M655.2 508.5h1.2M664.3 492.1h1.2M665.1 448.0h1.2M661.4 465.4h1.2M655.3 498.5h1.2M663.7 468.4h1.2M662.6 439.4h1.2M656.9 463.5h1.2M659.9 502.0h1.2M677.3 511.9h1.2M671.4 466.5h1.2M679.5 464.3h1.2M671.2 477.6h1.2M675.1 510.5h1.2M682.2 461.0h1.2M671.8 463.6h1.2M680.7 476.5h1.2M677.6 517.2h1.2M672.5 504.2h1.2M671.4 476.1h1.2M671.0 485.2h1.2M675.0 479.0h1.2M675.8 469.1h1.2M675.4 466.3h1.2M678.0 486.5h1.2M678.2 532.6h1.2M679.3 471.9h1.2M679.2 477.3h1.2M670.4 515.2h1.2M676.5 449.9h1.2M673.5 477.8h1.2M678.2 479.4h1.2M680.5 507.1h1.2M677.5 484.6h1.2M671.0 511.9h1.2M677.1 507.3h1.2M672.8 505.1h1.2M672.8 463.4h1.2M679.3 516.5h1.2M673.4 516.5h1.2M672.4 454.4h1.2M675.9 499.0h1.2M673.6 510.2h1.2M673.7 508.0h1.2M679.4 460.9h1.2M675.8 492.7h1.2M677.9 510.3h1.2M672.4 513.6h1.2M672.9 449.7h1.2M680.6 485.0h1.2M677.0 491.5h1.2M681.7 499.8h1.2M675.4 465.1h1.2M672.9 449.6h1.2M671.3 496.0h1.2M680.6 460.1h1.2M673.6 511.8h1.2M679.4 493.8h1.2M678.0 497.1h1.2M678.6 522.7h1.2M675.5 495.2h1.2M670.3 479.9h1.2M671.6 499.1h1.2M678.4 479.2h1.2M671.7 458.9h1.2M675.5 495.8h1.2M673.7 463.1h1.2M679.7 513.6h1.2M680.2 466.2h1.2M678.0 486.4h1.2M672.8 458.7h1.2M670.9 493.2h1.2M674.1 523.3h1.2M675.6 467.3h1.2M679.4 467.6h1.2M674.6 461.0h1.2M681.8 508.4h1.2M670.6 513.0h1.2M678.1 461.0h1.2M675.6 498.2h1.2M671.3 457.7h1.2M680.5 500.9h1.2M674.9 464.5h1.2M671.0 510.9h1.2M681.1 465.2h1.2M675.6 477.4h1.2M675.1 492.2h1.2M679.9 452.1h1.2M674.2 464.1h1.2M678.4 465.2h1.2M671.3 482.9h1.2M673.3 512.7h1.2M677.8 510.6h1.2M680.3 505.2h1.2M674.5 488.7h1.2M675.6 510.3h1.2M673.6 464.2h1.2M673.5 469.6h1.2M672.1 485.1h1.2M671.4 512.1h1.2M673.3 502.8h1.2M673.1 470.3h1.2M680.0 532.6h1.2M675.1 459.6h1.2M671.8 459.6h1.2M671.0 484.9h1.2M676.5 504.7h1.2M670.4 491.7h1.2M673.0 470.5h1.2M680.6 487.2h1.2M679.8 461.1h1.2M676.0 461.1h1.2M680.8 478.3h1.2M674.4 509.7h1.2M672.1 484.4h1.2M676.4 449.7h1.2M673.9 495.4h1.2M671.4 482.5h1.2M678.1 483.7h1.2M680.0 518.2h1.2M681.2 464.5h1.2M675.7 513.3h1.2M673.9 452.2h1.2M676.2 466.4h1.2M676.6 464.9h1.2M678.9 461.2h1.2M678.7 497.4h1.2M670.5 492.1h1.2M680.6 496.5h1.2M673.3 465.3h1.2M673.6 467.3h1.2M675.1 470.6h1.2M675.1 510.5h1.2M675.8 512.7h1.2M674.4 504.4h1.2M679.9 487.7h1.2M671.6 502.8h1.2M676.7 499.9h1.2M676.5 480.9h1.2M673.6 484.1h1.2M672.5 508.6h1.2M671.6 484.4h1.2M680.0 507.3h1.2M671.2 472.3h1.2M671.6 479.6h1.2M675.9 461.1h1.2M674.2 458.1h1.2M676.7 502.5h1.2M679.9 476.4h1.2M672.0 516.6h1.2M678.6 478.0h1.2M671.2 462.4h1.2M672.5 499.3h1.2M676.1 484.3h1.2M677.0 465.4h1.2M671.6 484.3h1.2M671.7 481.3h1.2M680.0 472.4h1.2M671.9 496.0h1.2M675.1 514.2h1.2M671.3 461.9h1.2M671.9 501.3h1.2M677.8 500.8h1.2M673.4 506.7h1.2M677.8 473.7h1.2M670.9 449.8h1.2M676.8 499.2h1.2M673.4 465.1h1.2M681.0 510.5h1.2M677.4 461.2h1.2M675.4 470.8h1.2M675.9 489.7h1.2M676.8 484.4h1.2M680.3 495.9h1.2M671.9 470.6h1.2M677.5 514.5h1.2M673.6 510.3h1.2M681.6 449.7h1.2M672.2 461.5h1.2M670.7 499.5h1.2M674.9 499.4h1.2M673.9 494.4h1.2M681.0 474.0h1.2M672.0 465.5h1.2M675.0 471.3h1.2M672.0 508.1h1.2M678.1 491.8h1.2M670.4 492.4h1.2M674.1 506.7h1.2M682.1 492.3h1.2M681.5 508.5h1.2M679.6 503.8h1.2M671.8 449.9h1.2M671.5 473.6h1.2M681.6 486.9h1.2M675.6 456.7h1.2M672.2 502.1h1.2M673.3 514.0h1.2M673.8 465.5h1.2M676.9 461.2h1.2M671.1 492.0h1.2M673.4 500.3h1.2M680.5 478.9h1.2M675.0 473.4h1.2M678.2 510.5h1.2M674.3 481.6h1.2M672.3 470.1h1.2M678.4 508.6h1.2M672.8 461.5h1.2M676.4 485.4h1.2M671.6 502.0h1.2M681.1 482.8h1.2M672.0 467.6h1.2M676.3 470.8h1.2M679.2 449.6h1.2M669.6 461.2h1.2M680.6 472.9h1.2M676.5 459.9h1.2M670.8 449.8h1.2M676.8 520.6h1.2M681.1 443.4h1.2M672.1 511.2h1.2M673.7 488.7h1.2M680.5 490.6h1.2M672.8 467.4h1.2M680.1 496.0h1.2M671.6 505.8h1.2M669.8 510.5h1.2M676.4 467.2h1.2M672.0 493.6h1.2M681.3 489.1h1.2M681.6 510.6h1.2M678.8 504.3h1.2M672.9 488.9h1.2M672.7 465.4h1.2M681.2 510.0h1.2M674.9 459.1h1.2M673.3 508.3h1.2M671.6 501.0h1.2M670.7 510.4h1.2M675.7 457.3h1.2M680.3 488.4h1.2M680.9 485.0h1.2M676.1 495.9h1.2M672.3 492.2h1.2M678.6 467.3h1.2M673.3 444.9h1.2M680.7 469.8h1.2M678.4 504.9h1.2M675.7 465.1h1.2M675.1 492.2h1.2M678.3 509.7h1.2M675.1 506.7h1.2M680.2 471.1h1.2M674.5 456.0h1.2M670.6 458.2h1.2M674.2 485.3h1.2M680.4 515.9h1.2M670.3 465.5h1.2M671.8 461.8h1.2M678.9 465.3h1.2M680.6 508.2h1.2M679.1 480.6h1.2M672.6 454.9h1.2M670.6 464.5h1.2M679.8 461.1h1.2M674.3 510.4h1.2M679.9 470.3h1.2M679.0 517.1h1.2M680.4 464.0h1.2M670.4 460.2h1.2M680.2 469.4h1.2M671.9 474.9h1.2M674.9 466.4h1.2M679.6 449.7h1.2M674.0 509.4h1.2M671.8 505.0h1.2M678.7 500.4h1.2M670.7 508.2h1.2M673.3 464.8h1.2M679.0 439.7h1.2M673.9 467.5h1.2M675.1 473.6h1.2M674.5 461.8h1.2M680.7 505.1h1.2M681.1 492.8h1.2M671.0 470.8h1.2M678.0 471.7h1.2M675.2 469.8h1.2M677.1 464.8h1.2M674.9 508.2h1.2M679.5 476.4h1.2M679.7 479.0h1.2M673.7 471.6h1.2"/>
<path fill="none" stroke="#f4f4f4" stroke-opacity="0.55" stroke-width="0.75" d="M500.2 488.1h1.2M500.4 501.1h1.2M500.4 494.2h1.2M502.4 481.6h1.2M501.4 496.0h1.2M500.8 496.8h1.2M507.5 492.2h1.2M502.6 498.2h1.2M508.4 486.9h1.2M506.7 488.4h1.2M506.3 492.6h1.2M506.4 481.7h1.2M506.9 494.9h1.2M501.9 494.6h1.2M501.0 484.7h1.2M506.9 490.4h1.2M507.7 492.8h1.2M502.4 494.7h1.2M500.6 492.2h1.2M501.5 496.3h1.2M503.1 497.1h1.2M500.1 488.0h1.2M501.6 493.9h1.2M501.2 491.0h1.2M501.8 491.2h1.2M508.8 482.1h1.2M506.7 484.8h1.2M506.2 497.4h1.2M500.8 487.2h1.2M506.7 495.6h1.2M500.2 480.2h1.2M504.7 498.0h1.2M505.5 489.9h1.2M502.4 499.5h1.2M505.9 488.6h1.2M507.7 484.7h1.2M504.5 486.7h1.2M500.9 483.8h1.2M507.5 495.3h1.2M505.4 501.0h1.2M507.0 491.8h1.2M503.4 484.0h1.2M500.1 495.0h1.2M502.9 488.1h1.2M501.0 499.7h1.2M503.3 487.6h1.2M501.8 501.3h1.2M508.5 494.5h1.2M501.8 486.1h1.2M501.5 493.4h1.2M502.2 484.9h1.2M506.2 498.5h1.2M508.8 484.3h1.2M503.4 499.4h1.2M504.9 495.3h1.2M506.7 492.3h1.2M500.5 495.3h1.2M502.7 497.2h1.2M503.1 487.8h1.2M506.1 492.1h1.2M505.3 487.5h1.2M500.3 479.8h1.2M506.4 497.0h1.2M508.5 480.9h1.2M506.0 496.5h1.2M500.0 492.4h1.2M502.8 480.0h1.2M506.6 485.6h1.2M505.1 481.7h1.2M503.1 480.4h1.2M507.0 490.7h1.2M507.6 492.2h1.2M503.6 487.6h1.2M504.0 479.0h1.2M504.3 484.1h1.2M519.4 494.7h1.2M520.6 491.3h1.2M518.1 492.3h1.2M520.9 487.6h1.2M520.7 479.7h1.2M517.7 475.3h1.2M523.5 496.3h1.2M520.4 483.8h1.2M524.1 495.7h1.2M524.0 496.5h1.2M518.0 487.5h1.2M516.1 489.2h1.2M524.4 477.5h1.2M519.7 493.8h1.2M519.5 483.8h1.2M519.9 478.2h1.2M518.2 485.0h1.2M518.6 492.9h1.2M522.6 485.7h1.2M517.8 492.3h1.2M519.2 493.7h1.2M522.2 492.0h1.2M522.1 492.5h1.2M519.8 490.1h1.2M517.6 485.9h1.2M520.3 481.7h1.2M521.5 495.4h1.2M524.3 492.3h1.2M517.0 480.0h1.2M518.0 492.3h1.2M522.0 486.8h1.2M519.8 487.8h1.2M524.1 489.7h1.2M524.6 489.5h1.2M521.6 483.9h1.2M523.2 490.9h1.2M518.2 494.5h1.2M519.7 493.4h1.2M518.2 492.6h1.2M516.1 494.2h1.2M519.3 482.6h1.2M521.1 475.1h1.2M516.0 487.0h1.2M518.6 492.1h1.2M523.9 477.5h1.2M517.3 487.5h1.2M518.0 486.6h1.2M521.5 492.4h1.2M521.8 495.9h1.2M521.9 496.3h1.2M520.4 477.0h1.2M520.3 487.3h1.2M520.9 483.3h1.2M519.4 485.5h1.2M516.9 484.3h1.2M516.4 485.0h1.2M522.1 493.4h1.2M537.1 467.1h1.2M538.4 486.7h1.2M533.7 478.1h1.2M531.4 465.8h1.2M534.3 469.8h1.2M536.7 468.7h1.2M533.1 467.7h1.2M538.5 481.5h1.2M531.8 469.4h1.2M533.8 487.2h1.2M532.0 488.8h1.2M539.8 483.8h1.2M538.3 478.4h1.2M532.9 484.1h1.2M531.4 485.2h1.2M535.4 471.4h1.2M535.9 483.0h1.2M537.7 485.5h1.2M534.8 485.9h1.2M531.3 467.5h1.2M532.6 485.2h1.2M532.0 485.4h1.2M536.8 481.8h1.2M531.2 485.3h1.2M540.1 474.1h1.2M538.0 479.6h1.2M540.3 478.9h1.2M532.3 474.0h1.2M535.9 475.6h1.2M536.7 482.2h1.2M535.2 478.1h1.2M534.0 483.3h1.2M533.2 466.6h1.2M533.8 474.4h1.2M532.4 468.6h1.2M539.9 488.6h1.2M533.8 475.8h1.2M531.1 476.6h1.2M538.3 480.8h1.2M549.9 484.6h1.2M547.6 492.1h1.2M551.7 487.1h1.2M550.4 479.4h1.2M554.0 497.1h1.2M553.5 482.9h1.2M552.8 478.9h1.2M553.1 482.1h1.2M551.5 489.8h1.2M546.9 487.5h1.2M549.4 486.2h1.2M554.9 494.4h1.2M554.6 484.9h1.2M551.2 490.7h1.2M548.4 490.8h1.2M547.8 478.8h1.2M549.7 479.2h1.2M555.8 495.8h1.2M550.0 497.5h1.2M555.7 490.2h1.2M549.0 491.6h1.2M550.7 490.0h1.2M547.3 486.3h1.2M550.0 485.1h1.2M554.1 495.0h1.2M555.6 489.7h1.2M548.7 484.1h1.2M548.0 480.2h1.2M550.1 487.8h1.2M546.9 489.0h1.2M546.8 481.0h1.2M553.0 494.7h1.2M550.4 486.1h1.2M551.3 494.0h1.2M553.4 492.3h1.2M553.9 478.6h1.2M554.2 478.7h1.2M549.2 482.6h1.2M552.8 486.5h1.2M550.6 492.0h1.2M563.1 485.8h1.2M565.4 497.3h1.2M564.1 498.0h1.2M567.3 485.7h1.2M566.8 493.2h1.2M570.1 498.0h1.2M568.5 484.1h1.2M567.3 483.9h1.2M563.0 498.2h1.2M568.7 497.3h1.2M568.4 490.2h1.2M566.1 484.7h1.2M567.9 497.9h1.2M562.3 492.4h1.2M566.7 482.2h1.2M563.9 480.5h1.2M563.9 483.4h1.2M571.3 490.6h1.2M570.5 481.6h1.2M567.3 500.4h1.2M568.5 493.4h1.2M569.6 493.2h1.2M571.1 479.2h1.2M562.5 495.6h1.2M564.1 488.2h1.2M566.8 482.2h1.2M564.0 481.9h1.2M569.1 477.4h1.2M565.5 478.0h1.2M570.6 482.0h1.2M570.9 496.4h1.2M567.0 492.1h1.2M579.6 477.0h1.2M579.7 491.9h1.2M580.3 480.9h1.2M583.0 490.1h1.2M584.6 474.5h1.2M580.7 478.2h1.2M578.7 492.2h1.2M580.8 474.4h1.2M583.5 479.6h1.2M578.7 480.0h1.2M586.8 480.7h1.2M578.6 475.1h1.2M581.6 491.8h1.2M582.5 475.7h1.2M582.6 490.2h1.2M580.1 489.6h1.2M586.9 475.0h1.2M586.7 490.2h1.2M586.1 492.7h1.2M579.3 481.5h1.2M582.5 488.7h1.2M580.8 476.1h1.2M587.0 476.6h1.2M583.3 481.8h1.2M582.7 489.1h1.2M582.2 490.7h1.2M579.3 486.6h1.2M580.1 478.4h1.2M585.8 479.7h1.2M586.1 474.4h1.2M578.1 475.3h1.2M586.5 472.4h1.2M586.3 476.3h1.2M583.1 489.6h1.2M582.8 491.3h1.2M597.6 486.2h1.2M598.8 486.5h1.2M597.7 494.6h1.2M597.3 498.8h1.2M600.5 478.8h1.2M601.3 479.8h1.2M597.2 498.3h1.2M595.7 491.0h1.2M599.2 491.6h1.2M596.8 484.2h1.2M600.9 489.9h1.2M601.2 498.2h1.2M596.1 477.9h1.2M598.8 489.0h1.2M602.4 477.1h1.2M596.7 478.3h1.2M598.2 495.7h1.2M595.0 491.0h1.2M600.7 497.5h1.2M594.1 481.0h1.2M597.7 485.9h1.2M599.8 485.9h1.2M599.7 484.9h1.2M602.1 492.0h1.2M598.1 487.2h1.2M598.3 485.4h1.2M600.8 490.6h1.2M597.6 478.2h1.2M595.3 491.2h1.2M599.4 487.2h1.2M595.4 488.4h1.2M598.1 477.3h1.2M593.6 495.0h1.2M595.0 493.2h1.2M594.3 483.1h1.2M597.3 483.2h1.2M595.2 482.1h1.2M596.3 486.3h1.2M596.8 488.7h1.2M600.5 488.1h1.2M595.2 488.1h1.2M597.1 495.1h1.2M595.2 489.9h1.2M599.2 498.1h1.2M602.5 486.5h1.2M601.7 500.0h1.2M596.2 492.0h1.2M601.6 482.2h1.2M612.6 485.6h1.2M609.9 496.3h1.2M613.6 486.3h1.2M616.6 483.6h1.2M612.0 500.4h1.2M617.7 497.0h1.2M611.7 483.8h1.2M609.6 488.4h1.2M617.2 496.5h1.2M617.7 495.3h1.2M609.7 494.5h1.2M611.6 482.6h1.2M612.3 483.6h1.2M610.8 496.7h1.2M614.3 492.1h1.2M612.7 483.0h1.2M616.2 494.7h1.2M614.5 490.6h1.2M615.4 489.2h1.2M610.5 487.3h1.2M615.6 493.3h1.2M610.7 479.8h1.2M612.4 500.4h1.2M609.9 492.8h1.2M610.4 487.7h1.2M611.5 486.2h1.2M615.1 487.7h1.2M615.4 495.5h1.2M611.1 492.0h1.2M616.5 499.2h1.2M617.4 495.0h1.2M618.0 494.5h1.2M609.9 485.9h1.2M617.5 498.9h1.2M614.8 492.3h1.2M614.0 486.5h1.2M617.5 498.6h1.2M610.8 496.0h1.2M625.0 498.4h1.2M629.2 486.5h1.2M625.7 497.1h1.2M627.4 497.1h1.2M629.5 477.0h1.2M625.9 484.9h1.2M625.1 478.4h1.2M630.2 493.2h1.2M626.0 497.2h1.2M630.2 488.1h1.2M632.0 494.0h1.2M631.7 487.6h1.2M624.8 498.6h1.2M624.9 475.0h1.2M628.2 490.8h1.2M627.3 487.3h1.2M627.1 489.0h1.2M633.3 482.5h1.2M632.3 480.0h1.2M624.7 482.2h1.2M632.5 487.3h1.2M633.6 497.0h1.2M628.1 489.5h1.2M632.3 496.1h1.2M630.5 498.3h1.2M630.5 480.4h1.2M631.4 497.5h1.2M626.5 492.4h1.2M631.2 489.5h1.2M627.9 476.4h1.2M627.3 476.4h1.2M631.0 490.0h1.2M631.2 492.7h1.2M632.5 481.2h1.2M625.3 478.0h1.2M625.5 497.3h1.2M645.5 489.8h1.2M646.5 495.7h1.2M646.7 487.3h1.2M640.6 486.2h1.2M641.3 489.2h1.2M645.5 496.7h1.2M642.8 494.5h1.2M643.0 484.3h1.2M645.8 489.4h1.2M640.3 486.6h1.2M643.2 484.3h1.2M640.6 489.6h1.2M645.5 496.3h1.2M646.9 496.8h1.2M643.3 480.0h1.2M641.4 486.0h1.2M643.9 483.5h1.2M640.6 483.9h1.2M642.0 490.7h1.2M642.3 489.5h1.2M645.2 496.5h1.2M642.5 487.1h1.2M648.6 487.3h1.2M645.6 496.0h1.2M643.2 491.0h1.2M644.7 482.3h1.2M645.0 489.5h1.2M640.4 486.2h1.2M649.3 487.2h1.2M642.2 487.2h1.2M645.1 486.1h1.2M647.3 485.3h1.2M646.7 492.3h1.2M648.0 486.5h1.2M645.2 489.1h1.2M642.5 493.6h1.2M645.7 480.0h1.2M642.9 487.4h1.2M645.0 491.5h1.2M648.7 484.4h1.2M642.2 496.8h1.2M646.5 494.4h1.2M646.6 483.5h1.2M647.2 492.3h1.2M643.4 490.1h1.2M647.3 481.2h1.2M643.9 480.8h1.2M663.2 476.8h1.2M664.1 491.2h1.2M663.6 488.0h1.2M662.4 489.8h1.2M656.6 478.0h1.2M664.3 487.9h1.2M659.1 497.9h1.2M656.0 479.1h1.2M655.9 481.2h1.2M662.3 488.2h1.2M661.6 494.5h1.2M657.9 479.3h1.2M655.8 487.8h1.2M660.6 492.1h1.2M659.5 488.1h1.2M659.3 481.8h1.2M662.7 480.5h1.2M663.8 483.9h1.2M661.2 473.8h1.2M660.1 483.2h1.2M663.3 486.7h1.2M657.1 479.8h1.2M664.5 491.6h1.2M655.9 482.4h1.2M655.8 485.5h1.2M658.7 497.5h1.2M659.0 482.3h1.2M664.3 487.8h1.2M658.9 476.3h1.2M662.8 493.1h1.2M656.5 483.1h1.2M658.5 493.7h1.2M663.6 496.3h1.2M661.5 496.6h1.2M673.8 476.3h1.2M680.6 492.1h1.2M675.4 474.6h1.2M677.1 481.3h1.2M679.7 473.9h1.2M677.7 490.2h1.2M675.1 492.4h1.2M676.6 476.4h1.2M674.7 480.1h1.2M680.5 485.9h1.2M671.5 481.7h1.2M676.2 476.3h1.2M680.5 483.4h1.2M674.9 483.3h1.2M673.0 492.4h1.2M677.7 487.7h1.2M674.9 486.8h1.2M676.9 492.3h1.2M674.4 492.1h1.2M680.2 476.5h1.2M675.2 474.3h1.2M680.6 489.7h1.2M674.4 473.5h1.2M680.5 489.6h1.2M677.4 489.9h1.2M678.4 477.2h1.2M678.1 480.6h1.2M675.7 482.9h1.2M677.3 480.9h1.2M673.1 481.8h1.2M678.1 486.3h1.2M674.4 489.7h1.2M680.0 492.1h1.2"/>
<line x1="499.30" y1="487.50" x2="509.70" y2="487.50" stroke="#111" stroke-width="0.9"/>
<line x1="504.50" y1="539.40" x2="504.50" y2="542.20" stroke="#555" stroke-width="0.6"/>
<text x="504.50" y="552.30" font-size="7.0" text-anchor="middle" fill="#231f20">D1</text>
<line x1="514.89" y1="485.89" x2="525.29" y2="485.89" stroke="#111" stroke-width="0.9"/>
<line x1="520.09" y1="539.40" x2="520.09" y2="542.20" stroke="#555" stroke-width="0.6"/>
<text x="520.09" y="552.30" font-size="7.0" text-anchor="middle" fill="#231f20">D6</text>
<line x1="530.48" y1="481.04" x2="540.88" y2="481.04" stroke="#111" stroke-width="0.9"/>
<line x1="535.68" y1="539.40" x2="535.68" y2="542.20" stroke="#555" stroke-width="0.6"/>
<text x="535.68" y="552.30" font-size="7.0" text-anchor="middle" fill="#231f20">D12</text>
<line x1="546.07" y1="488.04" x2="556.47" y2="488.04" stroke="#111" stroke-width="0.9"/>
<line x1="551.27" y1="539.40" x2="551.27" y2="542.20" stroke="#555" stroke-width="0.6"/>
<text x="551.27" y="552.30" font-size="7.0" text-anchor="middle" fill="#231f20">D1</text>
<line x1="561.66" y1="486.42" x2="572.06" y2="486.42" stroke="#111" stroke-width="0.9"/>
<line x1="566.86" y1="539.40" x2="566.86" y2="542.20" stroke="#555" stroke-width="0.6"/>
<text x="566.86" y="552.30" font-size="7.0" text-anchor="middle" fill="#231f20">D6</text>
<line x1="577.25" y1="482.66" x2="587.65" y2="482.66" stroke="#111" stroke-width="0.9"/>
<line x1="582.45" y1="539.40" x2="582.45" y2="542.20" stroke="#555" stroke-width="0.6"/>
<text x="582.45" y="552.30" font-size="7.0" text-anchor="middle" fill="#231f20">D12</text>
<line x1="592.84" y1="487.50" x2="603.24" y2="487.50" stroke="#111" stroke-width="0.9"/>
<line x1="598.04" y1="539.40" x2="598.04" y2="542.20" stroke="#555" stroke-width="0.6"/>
<text x="598.04" y="552.30" font-size="7.0" text-anchor="middle" fill="#231f20">D1</text>
<line x1="608.43" y1="488.04" x2="618.83" y2="488.04" stroke="#111" stroke-width="0.9"/>
<line x1="613.63" y1="539.40" x2="613.63" y2="542.20" stroke="#555" stroke-width="0.6"/>
<text x="613.63" y="552.30" font-size="7.0" text-anchor="middle" fill="#231f20">D6</text>
<line x1="624.02" y1="487.50" x2="634.42" y2="487.50" stroke="#111" stroke-width="0.9"/>
<line x1="629.22" y1="539.40" x2="629.22" y2="542.20" stroke="#555" stroke-width="0.6"/>
<text x="629.22" y="552.30" font-size="7.0" text-anchor="middle" fill="#231f20">D12</text>
<line x1="639.61" y1="487.50" x2="650.01" y2="487.50" stroke="#111" stroke-width="0.9"/>
<line x1="644.81" y1="539.40" x2="644.81" y2="542.20" stroke="#555" stroke-width="0.6"/>
<text x="644.81" y="552.30" font-size="7.0" text-anchor="middle" fill="#231f20">D1</text>
<line x1="655.20" y1="484.81" x2="665.60" y2="484.81" stroke="#111" stroke-width="0.9"/>
<line x1="660.40" y1="539.40" x2="660.40" y2="542.20" stroke="#555" stroke-width="0.6"/>
<text x="660.40" y="552.30" font-size="7.0" text-anchor="middle" fill="#231f20">D6</text>
<line x1="670.79" y1="485.89" x2="681.19" y2="485.89" stroke="#111" stroke-width="0.9"/>
<line x1="675.99" y1="539.40" x2="675.99" y2="542.20" stroke="#555" stroke-width="0.6"/>
<text x="675.99" y="552.30" font-size="7.0" text-anchor="middle" fill="#231f20">D12</text>
<line x1="499.70" y1="556.30" x2="540.80" y2="556.30" stroke="#777" stroke-width="0.6"/>
<text x="520.20" y="566.50" font-size="8.6" text-anchor="middle" fill="#231f20" font-style="italic">WT</text>
<line x1="546.00" y1="556.30" x2="587.50" y2="556.30" stroke="#777" stroke-width="0.6"/>
<text x="567.00" y="566.50" font-size="8.6" text-anchor="middle" fill="#231f20" font-style="italic">lipl-4 Tg</text>
<line x1="593.00" y1="556.30" x2="634.20" y2="556.30" stroke="#777" stroke-width="0.6"/>
<text x="613.20" y="566.50" font-size="8.6" text-anchor="middle" fill="#231f20" font-style="italic">daf-2(lf)</text>
<line x1="638.90" y1="556.30" x2="679.80" y2="556.30" stroke="#777" stroke-width="0.6"/>
<text x="659.60" y="566.50" font-size="8.6" text-anchor="middle" fill="#231f20" font-style="italic">rsks-1(lf)</text>
<polyline points="535.60,398.40 535.60,393.10 674.80,393.10 674.80,398.40" fill="none" stroke="#555" stroke-width="0.6"/>
<text x="612.30" y="390.30" font-size="6.2" text-anchor="middle" fill="#333" style="stroke:none">P &lt; 0.0001</text>
<polyline points="535.60,412.40 535.60,407.20 628.40,407.20 628.40,412.40" fill="none" stroke="#555" stroke-width="0.6"/>
<text x="584.60" y="404.00" font-size="6.2" text-anchor="middle" fill="#333" style="stroke:none"><tspan font-style="italic">P</tspan> &lt; 0.0001</text>
<polyline points="503.70,426.70 503.70,422.20 535.60,422.20 535.60,426.70" fill="none" stroke="#555" stroke-width="0.6"/>
<text x="519.00" y="419.20" font-size="6.2" text-anchor="middle" fill="#333" style="stroke:none">P &lt; 0.0001</text>
<polyline points="503.70,437.20 503.70,434.20 535.60,434.20 535.60,437.20" fill="none" stroke="#555" stroke-width="0.6"/>
<text x="505.80" y="431.80" font-size="6.2" text-anchor="middle" fill="#333" style="stroke:none"><tspan font-style="italic">P</tspan> = 0.0075</text>
<polyline points="519.60,436.70 519.60,434.20 519.60,434.20 519.60,434.20" fill="none" stroke="#555" stroke-width="0.6"/>
<text x="537.60" y="431.80" font-size="6.2" text-anchor="middle" fill="#333" style="stroke:none"><tspan font-style="italic">P</tspan> &lt; 0.0001</text>
<polyline points="550.50,426.90 550.50,422.40 582.00,422.40 582.00,426.90" fill="none" stroke="#555" stroke-width="0.6"/>
<text x="568.30" y="419.30" font-size="6.2" text-anchor="middle" fill="#333" style="stroke:none">P = 0.0013</text>
<polyline points="566.60,436.40 566.60,433.40 582.00,433.40 582.00,436.40" fill="none" stroke="#555" stroke-width="0.6"/>
<text x="575.60" y="431.60" font-size="6.2" text-anchor="middle" fill="#333" style="stroke:none"><tspan font-style="italic">P</tspan> = 0.0213</text>
<polyline points="644.70,435.00 644.70,432.00 660.50,432.00 660.50,435.00" fill="none" stroke="#555" stroke-width="0.6"/>
<text x="654.30" y="430.40" font-size="6.2" text-anchor="middle" fill="#333" style="stroke:none">P = 0.0016</text>
</svg></body></html>
